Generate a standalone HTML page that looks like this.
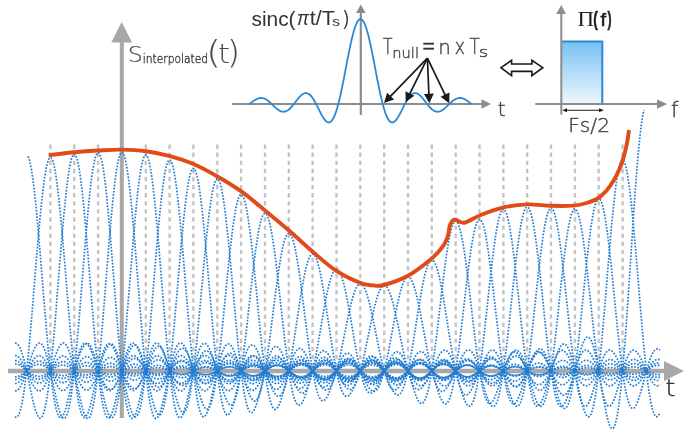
<!DOCTYPE html><html><head><meta charset="utf-8"><style>html,body{margin:0;padding:0;background:#fff;overflow:hidden}svg{display:block;will-change:transform}</style></head><body>
<svg width="690" height="430" viewBox="0 0 690 430">
<path d="M50.4 144.5V371 M74.2 144.5V371 M98.1 144.5V371 M121.9 144.5V371 M145.8 144.5V371 M169.6 144.5V371 M193.4 144.5V371 M217.3 144.5V371 M241.1 144.5V371 M265 144.5V371 M288.8 144.5V371 M312.6 144.5V371 M336.5 144.5V371 M360.3 144.5V371 M384.2 144.5V371 M408 144.5V371 M431.8 144.5V371 M455.7 144.5V371 M479.5 144.5V371 M503.4 144.5V371 M527.2 144.5V371 M551 144.5V371 M574.9 144.5V371 M598.7 144.5V371 M622.6 144.5V371" stroke="#c4c4c4" stroke-width="2.4" stroke-dasharray="4.4 3.69" fill="none"/>
<path d="M8 371H666" stroke="#a8a8a8" stroke-width="4.5" fill="none"/>
<path d="M664 361L684 371L664 381Z" fill="#a8a8a8"/>
<path d="M121.8 418V40" stroke="#a8a8a8" stroke-width="4" fill="none"/>
<path d="M111.2 42.6L121.7 22L132 42.6Z" fill="#a8a8a8"/>
<path d="M28 156.3 L29 158.7 L30 162.3 L31 167.1 L32 173 L33 180 L34 188 L35 196.8 L36 206.5 L37 217 L38 228 L39 239.5 L40 251.5 L41 263.7 L42 276 L43 288.4 L44 300.8 L45 312.9 L46 324.8 L47 336.2 L48 347.2 L49 357.6 L50 367.3 L51 376.3 L52 384.5 L53 391.8 L54 398.3 L55 403.8 L56 408.4 L57 412.1 L58 414.9 L59 416.8 L60 417.7 L61 417.9 L62 417.2 L63 415.8 L64 413.7 L65 411 L66 407.8 L67 404.1 L68 400 L69 395.6 L70 391 L71 386.3 L72 381.5 L73 376.8 L74 372.1 L75 367.7 L76 363.4 L77 359.5 L78 355.9 L79 352.7 L80 349.9 L81 347.6 L82 345.8 L83 344.5 L84 343.6 L85 343.3 L86 343.4 L87 344 L88 345.1 L89 346.5 L90 348.4 L91 350.5 L92 353 L93 355.7 L94 358.5 L95 361.5 L96 364.6 L97 367.7 L98 370.7 L99 373.7 L100 376.6 L101 379.2 L102 381.7 L103 383.9 L104 385.9 L105 387.5 L106 388.8 L107 389.8 L108 390.4 L109 390.7 L110 390.6 L111 390.3 L112 389.5 L113 388.5 L114 387.2 L115 385.7 L116 383.9 L117 382 L118 379.9 L119 377.7 L120 375.4 L121 373.1 L122 370.9 L123 368.6 L124 366.5 L125 364.5 L126 362.6 L127 360.9 L128 359.4 L129 358.2 L130 357.2 L131 356.4 L132 355.9 L133 355.7 L134 355.7 L135 356.1 L136 356.6 L137 357.4 L138 358.4 L139 359.6 L140 361 L141 362.6 L142 364.2 L143 366 L144 367.8 L145 369.6 L146 371.4 L147 373.2 L148 374.9 L149 376.5 L150 378 L151 379.4 L152 380.6 L153 381.6 L154 382.4 L155 383 L156 383.3 L157 383.5 L158 383.5 L159 383.2 L160 382.7 L161 382.1 L162 381.2 L163 380.2 L164 379.1 L165 377.8 L166 376.4 L167 375 L168 373.5 L169 371.9 L170 370.4 L171 369 L172 367.5 L173 366.2 L174 364.9 L175 363.8 L176 362.8 L177 362 L178 361.3 L179 360.8 L180 360.5 L181 360.4 L182 360.5 L183 360.7 L184 361.1 L185 361.7 L186 362.4 L187 363.3 L188 364.3 L189 365.4 L190 366.6 L191 367.8 L192 369.1 L193 370.4 L194 371.7 L195 373 L196 374.2 L197 375.3 L198 376.4 L199 377.3 L200 378.2 L201 378.9 L202 379.4 L203 379.8 L204 380.1 L205 380.2 L206 380.1 L207 379.9 L208 379.5 L209 379 L210 378.3 L211 377.6 L212 376.7 L213 375.7 L214 374.7 L215 373.6 L216 372.5 L217 371.4 L218 370.2 L219 369.1 L220 368.1 L221 367.1 L222 366.1 L223 365.3 L224 364.6 L225 364 L226 363.5 L227 363.2 L228 363 L229 362.9 L230 363 L231 363.2 L232 363.5 L233 364 L234 364.6 L235 365.3 L236 366.1 L237 366.9 L238 367.9 L239 368.8 L240 369.8 L241 370.8 L242 371.8 L243 372.8 L244 373.8 L245 374.6 L246 375.5 L247 376.2 L248 376.8 L249 377.3 L250 377.7 L251 378 L252 378.2 L253 378.2 L254 378.2 L255 377.9 L256 377.6 L257 377.2 L258 376.6 L259 376 L260 375.3 L261 374.5 L262 373.7 L263 372.8 L264 371.9 L265 371" stroke="#217dd2" stroke-width="1.7" stroke-dasharray="1.7 1.5" fill="none"/>
<path d="M15 416.7 L16 417.3 L17 417.2 L18 416.2 L19 414.3 L20 411.6 L21 407.9 L22 403.3 L23 397.8 L24 391.4 L25 384.1 L26 376 L27 367.1 L28 357.5 L29 347.2 L30 336.3 L31 325 L32 313.3 L33 301.3 L34 289.1 L35 276.8 L36 264.6 L37 252.6 L38 240.8 L39 229.4 L40 218.5 L41 208.2 L42 198.7 L43 189.9 L44 182.1 L45 175.2 L46 169.4 L47 164.7 L48 161.1 L49 158.8 L50 157.6 L51 157.7 L52 159 L53 161.6 L54 165.3 L55 170.2 L56 176.2 L57 183.2 L58 191.2 L59 200.1 L60 209.7 L61 220.1 L62 231.1 L63 242.5 L64 254.4 L65 266.4 L66 278.7 L67 290.9 L68 303.1 L69 315.1 L70 326.7 L71 338 L72 348.7 L73 358.9 L74 368.4 L75 377.2 L76 385.2 L77 392.4 L78 398.6 L79 404 L80 408.5 L81 412 L82 414.7 L83 416.4 L83.9 417.3 L84.9 417.3 L85.9 416.6 L86.9 415.1 L87.9 413 L88.9 410.2 L89.9 407 L90.9 403.3 L91.9 399.2 L92.9 394.9 L93.9 390.3 L94.9 385.6 L95.9 380.9 L96.9 376.2 L97.9 371.6 L98.9 367.2 L99.9 363.1 L100.9 359.2 L101.9 355.7 L102.9 352.6 L103.9 349.9 L104.9 347.7 L105.9 345.9 L106.9 344.7 L107.9 343.9 L108.9 343.6 L109.9 343.8 L110.9 344.4 L111.9 345.5 L112.9 347 L113.9 348.8 L114.9 351 L115.9 353.4 L116.9 356.1 L117.9 358.9 L118.9 361.9 L119.9 364.9 L120.9 368 L121.9 371 L122.9 373.9 L123.9 376.7 L124.9 379.4 L125.9 381.8 L126.9 384 L127.9 385.9 L128.9 387.4 L129.9 388.7 L130.9 389.6 L131.9 390.2 L132.9 390.5 L133.9 390.4 L134.9 390 L135.9 389.2 L136.9 388.2 L137.9 386.9 L138.9 385.4 L139.9 383.6 L140.9 381.7 L141.9 379.6 L142.9 377.4 L143.9 375.2 L144.9 372.9 L145.9 370.7 L146.9 368.5 L147.9 366.4 L148.9 364.4 L149.9 362.5 L150.9 360.9 L151.9 359.4 L152.9 358.2 L153.9 357.2 L154.9 356.5 L155.9 356.1 L156.9 355.9 L157.9 355.9 L158.9 356.3 L159.9 356.8 L160.9 357.6 L161.9 358.7 L162.9 359.9 L163.9 361.2 L164.9 362.8 L165.9 364.4 L166.9 366.1 L167.9 367.9 L168.9 369.7 L169.9 371.5 L170.9 373.3 L171.9 375 L172.9 376.5 L173.9 378 L174.9 379.3 L175.9 380.5 L176.9 381.5 L177.9 382.3 L178.9 382.9 L179.9 383.2 L180.9 383.4 L181.9 383.3 L182.9 383 L183.9 382.6 L184.9 381.9 L185.9 381 L186.9 380 L187.9 378.9 L188.9 377.6 L189.9 376.3 L190.9 374.8 L191.9 373.4 L192.9 371.9 L193.9 370.4 L194.9 368.9 L195.9 367.5 L196.9 366.2 L197.9 364.9 L198.9 363.8 L199.9 362.9 L200.9 362.1 L201.9 361.4 L202.9 360.9 L203.9 360.6 L204.9 360.5 L205.9 360.6 L206.9 360.8 L207.9 361.3 L208.9 361.8 L209.9 362.6 L210.9 363.4 L211.9 364.4 L212.9 365.5 L213.9 366.7 L214.9 367.9 L215.9 369.2 L216.9 370.5 L217.9 371.7 L218.9 373 L219.9 374.2 L220.8 375.3 L221.8 376.4 L222.8 377.3 L223.8 378.1 L224.8 378.8 L225.8 379.3 L226.8 379.7 L227.8 380 L228.8 380.1 L229.8 380 L230.8 379.8 L231.8 379.4 L232.8 378.9 L233.8 378.2 L234.8 377.5 L235.8 376.6 L236.8 375.6 L237.8 374.6 L238.8 373.5 L239.8 372.4 L240.8 371.3 L241.8 370.2 L242.8 369.1 L243.8 368.1 L244.8 367.1 L245.8 366.2 L246.8 365.4 L247.8 364.7 L248.8 364.1 L249.8 363.6 L250.8 363.3 L251.8 363.1 L252.8 363 L253.8 363.1 L254.8 363.3 L255.8 363.6 L256.8 364.1 L257.8 364.7 L258.8 365.4 L259.8 366.2 L260.8 367 L261.8 367.9 L262.8 368.9 L263.8 369.9 L264.8 370.9 L265.8 371.8 L266.8 372.8 L267.8 373.7 L268.8 374.6 L269.8 375.4 L270.8 376.1 L271.8 376.7 L272.8 377.3 L273.8 377.7 L274.8 378 L275.8 378.1 L276.8 378.2 L277.8 378.1 L278.8 377.9 L279.8 377.5 L280.8 377.1 L281.8 376.6 L282.8 376 L283.8 375.2 L284.8 374.5 L285.8 373.6 L286.8 372.8 L287.8 371.9 L288.8 371" stroke="#217dd2" stroke-width="1.7" stroke-dasharray="1.7 1.5" fill="none"/>
<path d="M15 343.2 L16 343.2 L17 343.6 L18 344.5 L19 346 L20 347.9 L21 350.3 L22 353.2 L23 356.4 L24 360.1 L25 364.1 L26 368.4 L27 373 L28 377.6 L29 382.4 L30 387.2 L31 391.9 L32 396.5 L33 400.9 L34 404.9 L35 408.5 L36 411.7 L37 414.3 L38 416.3 L39 417.6 L40 418.1 L41 417.9 L42 416.7 L43 414.7 L44 411.8 L45 407.9 L46 403.1 L47 397.4 L48 390.8 L49 383.3 L50 375 L51 365.8 L52 356 L53 345.5 L54 334.4 L55 322.8 L56 310.9 L56.9 298.6 L57.9 286.2 L58.9 273.8 L59.9 261.4 L60.9 249.2 L61.9 237.3 L62.9 225.7 L63.9 214.7 L64.9 204.4 L65.9 194.8 L66.9 186 L67.9 178.1 L68.9 171.2 L69.9 165.5 L70.9 160.8 L71.9 157.3 L72.9 155.1 L73.9 154.1 L74.9 154.3 L75.9 155.8 L76.9 158.5 L77.9 162.4 L78.9 167.5 L79.9 173.7 L80.9 181 L81.9 189.2 L82.9 198.3 L83.9 208.2 L84.9 218.8 L85.9 230 L86.9 241.7 L87.9 253.7 L88.9 266 L89.9 278.5 L90.9 290.9 L91.9 303.3 L92.9 315.4 L93.9 327.2 L94.9 338.6 L95.9 349.5 L96.9 359.8 L97.9 369.3 L98.9 378.2 L99.9 386.2 L100.9 393.4 L101.9 399.7 L102.9 405.1 L103.9 409.5 L104.9 413 L105.9 415.6 L106.9 417.3 L107.9 418.1 L108.9 418 L109.9 417.2 L110.9 415.6 L111.9 413.4 L112.9 410.6 L113.9 407.2 L114.9 403.4 L115.9 399.3 L116.9 394.8 L117.9 390.2 L118.9 385.4 L119.9 380.6 L120.9 375.9 L121.9 371.2 L122.9 366.8 L123.9 362.6 L124.9 358.7 L125.9 355.2 L126.9 352 L127.9 349.3 L128.9 347.1 L129.9 345.4 L130.9 344.1 L131.9 343.4 L132.9 343.1 L133.9 343.4 L134.9 344.1 L135.9 345.2 L136.9 346.7 L137.9 348.6 L138.9 350.9 L139.8 353.4 L140.8 356.1 L141.8 359 L142.8 362 L143.8 365.1 L144.8 368.2 L145.8 371.2 L146.8 374.2 L147.8 377.1 L148.8 379.7 L149.8 382.1 L150.8 384.3 L151.8 386.2 L152.8 387.8 L153.8 389.1 L154.8 390 L155.8 390.6 L156.8 390.8 L157.8 390.7 L158.8 390.2 L159.8 389.5 L160.8 388.4 L161.8 387.1 L162.8 385.5 L163.8 383.7 L164.8 381.7 L165.8 379.6 L166.8 377.4 L167.8 375.1 L168.8 372.8 L169.8 370.5 L170.8 368.3 L171.8 366.2 L172.8 364.1 L173.8 362.3 L174.8 360.6 L175.8 359.2 L176.8 357.9 L177.8 357 L178.8 356.3 L179.8 355.8 L180.8 355.6 L181.8 355.7 L182.8 356 L183.8 356.6 L184.8 357.5 L185.8 358.5 L186.8 359.8 L187.8 361.2 L188.8 362.7 L189.8 364.4 L190.8 366.2 L191.8 368 L192.8 369.8 L193.8 371.6 L194.8 373.4 L195.8 375.1 L196.8 376.7 L197.8 378.2 L198.8 379.6 L199.8 380.7 L200.8 381.7 L201.8 382.5 L202.8 383.1 L203.8 383.4 L204.8 383.6 L205.8 383.5 L206.8 383.2 L207.8 382.7 L208.8 382 L209.8 381.2 L210.8 380.1 L211.8 379 L212.8 377.7 L213.8 376.3 L214.8 374.8 L215.8 373.3 L216.8 371.8 L217.8 370.3 L218.8 368.8 L219.8 367.4 L220.8 366 L221.7 364.8 L222.7 363.7 L223.7 362.7 L224.7 361.9 L225.7 361.2 L226.7 360.8 L227.7 360.5 L228.7 360.4 L229.7 360.4 L230.7 360.7 L231.7 361.1 L232.7 361.7 L233.7 362.5 L234.7 363.3 L235.7 364.4 L236.7 365.5 L237.7 366.6 L238.7 367.9 L239.7 369.2 L240.7 370.5 L241.7 371.8 L242.7 373.1 L243.7 374.3 L244.7 375.4 L245.7 376.5 L246.7 377.4 L247.7 378.3 L248.7 378.9 L249.7 379.5 L250.7 379.9 L251.7 380.1 L252.7 380.2 L253.7 380.1 L254.7 379.9 L255.7 379.5 L256.7 379 L257.7 378.3 L258.7 377.6 L259.7 376.7 L260.7 375.7 L261.7 374.7 L262.7 373.6 L263.7 372.4 L264.7 371.3 L265.7 370.2 L266.7 369.1 L267.7 368 L268.7 367 L269.7 366.1 L270.7 365.3 L271.7 364.5 L272.7 363.9 L273.7 363.5 L274.7 363.1 L275.7 362.9 L276.7 362.9 L277.7 363 L278.7 363.2 L279.7 363.5 L280.7 364 L281.7 364.6 L282.7 365.3 L283.7 366.1 L284.7 367 L285.7 367.9 L286.7 368.9 L287.7 369.9 L288.7 370.9 L289.7 371.9 L290.7 372.9 L291.7 373.8 L292.7 374.7 L293.7 375.5 L294.7 376.2 L295.7 376.8 L296.7 377.4 L297.7 377.8 L298.7 378.1 L299.7 378.2 L300.7 378.3 L301.7 378.2 L302.7 378 L303.7 377.6 L304.6 377.2 L305.6 376.7 L306.6 376 L307.6 375.3 L308.6 374.5 L309.6 373.7 L310.6 372.8 L311.6 371.9 L312.6 371" stroke="#217dd2" stroke-width="1.7" stroke-dasharray="1.7 1.5" fill="none"/>
<path d="M15 390.9 L16 390.9 L17 390.5 L18 389.7 L19 388.6 L20 387.2 L21 385.4 L22 383.3 L23 381 L24 378.4 L25 375.7 L26 372.7 L27 369.7 L28 366.6 L29 363.5 L30 360.4 L31 357.4 L32 354.6 L33 352 L34 349.6 L35 347.5 L36 345.8 L37 344.4 L38 343.5 L39 343 L40 343 L41 343.5 L42 344.5 L43 346 L44 348 L45 350.5 L45.9 353.4 L46.9 356.8 L47.9 360.5 L48.9 364.6 L49.9 368.9 L50.9 373.5 L51.9 378.2 L52.9 383.1 L53.9 387.9 L54.9 392.6 L55.9 397.2 L56.9 401.5 L57.9 405.6 L58.9 409.2 L59.9 412.3 L60.9 414.9 L61.9 416.8 L62.9 418 L63.9 418.4 L64.9 418.1 L65.9 416.8 L66.9 414.7 L67.9 411.7 L68.9 407.7 L69.9 402.8 L70.9 396.9 L71.9 390.2 L72.9 382.5 L73.9 374 L74.9 364.8 L75.9 354.8 L76.9 344.1 L77.9 332.9 L78.9 321.2 L79.9 309.2 L80.9 296.9 L81.9 284.4 L82.9 271.9 L83.9 259.4 L84.9 247.1 L85.9 235.2 L86.9 223.6 L87.9 212.6 L88.9 202.3 L89.9 192.7 L90.9 183.9 L91.9 176.1 L92.9 169.3 L93.9 163.6 L94.9 159.1 L95.9 155.7 L96.9 153.5 L97.9 152.6 L98.9 153 L99.9 154.6 L100.9 157.5 L101.9 161.5 L102.9 166.7 L103.9 173.1 L104.9 180.5 L105.9 188.8 L106.9 198.1 L107.8 208.1 L108.8 218.9 L109.8 230.2 L110.8 242 L111.8 254.1 L112.8 266.5 L113.8 279 L114.8 291.5 L115.8 303.9 L116.8 316.1 L117.8 328 L118.8 339.4 L119.8 350.3 L120.8 360.6 L121.8 370.1 L122.8 379 L123.8 387 L124.8 394.1 L125.8 400.4 L126.8 405.7 L127.8 410.1 L128.8 413.5 L129.8 416 L130.8 417.7 L131.8 418.4 L132.8 418.3 L133.8 417.4 L134.8 415.8 L135.8 413.5 L136.8 410.6 L137.8 407.2 L138.8 403.3 L139.8 399.1 L140.8 394.6 L141.8 389.9 L142.8 385.1 L143.8 380.3 L144.8 375.5 L145.8 370.9 L146.8 366.4 L147.8 362.2 L148.8 358.3 L149.8 354.8 L150.8 351.7 L151.8 349 L152.8 346.8 L153.8 345.1 L154.8 343.9 L155.8 343.2 L156.8 343 L157.8 343.2 L158.8 344 L159.8 345.1 L160.8 346.7 L161.8 348.7 L162.8 350.9 L163.8 353.4 L164.8 356.2 L165.8 359.1 L166.8 362.2 L167.8 365.3 L168.8 368.4 L169.7 371.5 L170.7 374.4 L171.7 377.3 L172.7 379.9 L173.7 382.4 L174.7 384.6 L175.7 386.4 L176.7 388 L177.7 389.3 L178.7 390.2 L179.7 390.7 L180.7 390.9 L181.7 390.8 L182.7 390.3 L183.7 389.5 L184.7 388.4 L185.7 387.1 L186.7 385.5 L187.7 383.7 L188.7 381.7 L189.7 379.5 L190.7 377.3 L191.7 375 L192.7 372.7 L193.7 370.4 L194.7 368.1 L195.7 366 L196.7 364 L197.7 362.1 L198.7 360.5 L199.7 359 L200.7 357.8 L201.7 356.8 L202.7 356.1 L203.7 355.7 L204.7 355.5 L205.7 355.6 L206.7 356 L207.7 356.6 L208.7 357.4 L209.7 358.5 L210.7 359.8 L211.7 361.2 L212.7 362.8 L213.7 364.4 L214.7 366.2 L215.7 368 L216.7 369.9 L217.7 371.7 L218.7 373.5 L219.7 375.2 L220.7 376.8 L221.7 378.3 L222.7 379.7 L223.7 380.8 L224.7 381.8 L225.7 382.6 L226.7 383.2 L227.7 383.5 L228.7 383.7 L229.7 383.6 L230.7 383.3 L231.6 382.8 L232.6 382.1 L233.6 381.2 L234.6 380.1 L235.6 379 L236.6 377.7 L237.6 376.3 L238.6 374.8 L239.6 373.3 L240.6 371.7 L241.6 370.2 L242.6 368.7 L243.6 367.3 L244.6 366 L245.6 364.7 L246.6 363.6 L247.6 362.6 L248.6 361.8 L249.6 361.2 L250.6 360.7 L251.6 360.4 L252.6 360.3 L253.6 360.4 L254.6 360.6 L255.6 361.1 L256.6 361.7 L257.6 362.4 L258.6 363.3 L259.6 364.3 L260.6 365.5 L261.6 366.7 L262.6 367.9 L263.6 369.2 L264.6 370.5 L265.6 371.8 L266.6 373.1 L267.6 374.3 L268.6 375.5 L269.6 376.5 L270.6 377.5 L271.6 378.3 L272.6 379 L273.6 379.6 L274.6 380 L275.6 380.2 L276.6 380.3 L277.6 380.2 L278.6 380 L279.6 379.6 L280.6 379 L281.6 378.4 L282.6 377.6 L283.6 376.7 L284.6 375.7 L285.6 374.7 L286.6 373.6 L287.6 372.4 L288.6 371.3 L289.6 370.1 L290.6 369 L291.6 368 L292.6 367 L293.5 366 L294.5 365.2 L295.5 364.5 L296.5 363.9 L297.5 363.4 L298.5 363.1 L299.5 362.9 L300.5 362.8 L301.5 362.9 L302.5 363.1 L303.5 363.5 L304.5 364 L305.5 364.6 L306.5 365.3 L307.5 366.1 L308.5 366.9 L309.5 367.9 L310.5 368.9 L311.5 369.9 L312.5 370.9 L313.5 371.9 L314.5 372.9 L315.5 373.8 L316.5 374.7 L317.5 375.5 L318.5 376.3 L319.5 376.9 L320.5 377.4 L321.5 377.8 L322.5 378.1 L323.5 378.3 L324.5 378.3 L325.5 378.2 L326.5 378 L327.5 377.7 L328.5 377.2 L329.5 376.7 L330.5 376.1 L331.5 375.3 L332.5 374.6 L333.5 373.7 L334.5 372.8 L335.5 371.9 L336.5 371" stroke="#217dd2" stroke-width="1.7" stroke-dasharray="1.7 1.5" fill="none"/>
<path d="M15 355.5 L16 355.6 L17 355.9 L18 356.6 L19 357.4 L20 358.6 L21 360 L22 361.6 L23 363.4 L24 365.4 L25 367.5 L26 369.7 L27 372 L28 374.3 L29 376.6 L30 378.8 L31 381 L32 383.1 L33 384.9 L34 386.6 L35 388.1 L36 389.3 L37 390.1 L38 390.7 L39 391 L40 390.9 L40.9 390.4 L41.9 389.6 L42.9 388.5 L43.9 387 L44.9 385.2 L45.9 383.1 L46.9 380.8 L47.9 378.2 L48.9 375.4 L49.9 372.4 L50.9 369.4 L51.9 366.3 L52.9 363.1 L53.9 360.1 L54.9 357.1 L55.9 354.3 L56.9 351.7 L57.9 349.3 L58.9 347.3 L59.9 345.6 L60.9 344.3 L61.9 343.4 L62.9 342.9 L63.9 343 L64.9 343.5 L65.9 344.6 L66.9 346.2 L67.9 348.2 L68.9 350.7 L69.9 353.7 L70.9 357.1 L71.9 360.9 L72.9 365 L73.9 369.4 L74.9 374 L75.9 378.7 L76.9 383.6 L77.9 388.4 L78.9 393.1 L79.9 397.7 L80.9 402 L81.9 406 L82.9 409.6 L83.9 412.6 L84.9 415.2 L85.9 417 L86.9 418.2 L87.9 418.5 L88.9 418.1 L89.9 416.8 L90.9 414.6 L91.8 411.4 L92.8 407.3 L93.8 402.3 L94.8 396.4 L95.8 389.5 L96.8 381.8 L97.8 373.2 L98.8 363.9 L99.8 353.8 L100.8 343.1 L101.8 331.8 L102.8 320.1 L103.8 308 L104.8 295.6 L105.8 283.1 L106.8 270.6 L107.8 258.1 L108.8 245.8 L109.8 233.9 L110.8 222.4 L111.8 211.4 L112.8 201.1 L113.8 191.6 L114.8 182.9 L115.8 175.1 L116.8 168.4 L117.8 162.8 L118.8 158.3 L119.8 155.1 L120.8 153 L121.8 152.2 L122.8 152.7 L123.8 154.4 L124.8 157.4 L125.8 161.5 L126.8 166.9 L127.8 173.3 L128.8 180.8 L129.8 189.2 L130.8 198.6 L131.8 208.7 L132.8 219.5 L133.8 230.8 L134.8 242.7 L135.8 254.9 L136.8 267.3 L137.8 279.8 L138.8 292.4 L139.8 304.8 L140.8 317 L141.8 328.8 L142.7 340.2 L143.7 351.1 L144.7 361.3 L145.7 370.8 L146.7 379.6 L147.7 387.6 L148.7 394.7 L149.7 400.9 L150.7 406.1 L151.7 410.4 L152.7 413.8 L153.7 416.3 L154.7 417.8 L155.7 418.5 L156.7 418.3 L157.7 417.4 L158.7 415.7 L159.7 413.4 L160.7 410.4 L161.7 407 L162.7 403.1 L163.7 398.8 L164.7 394.3 L165.7 389.6 L166.7 384.8 L167.7 380 L168.7 375.2 L169.7 370.6 L170.7 366.1 L171.7 361.9 L172.7 358.1 L173.7 354.5 L174.7 351.5 L175.7 348.8 L176.7 346.6 L177.7 345 L178.7 343.8 L179.7 343.1 L180.7 342.9 L181.7 343.2 L182.7 344 L183.7 345.2 L184.7 346.8 L185.7 348.7 L186.7 351 L187.7 353.6 L188.7 356.3 L189.7 359.3 L190.7 362.3 L191.7 365.4 L192.7 368.6 L193.6 371.6 L194.6 374.6 L195.6 377.5 L196.6 380.1 L197.6 382.5 L198.6 384.7 L199.6 386.6 L200.6 388.1 L201.6 389.4 L202.6 390.3 L203.6 390.8 L204.6 391 L205.6 390.8 L206.6 390.3 L207.6 389.5 L208.6 388.4 L209.6 387 L210.6 385.4 L211.6 383.6 L212.6 381.6 L213.6 379.4 L214.6 377.2 L215.6 374.9 L216.6 372.6 L217.6 370.3 L218.6 368 L219.6 365.9 L220.6 363.9 L221.6 362 L222.6 360.4 L223.6 358.9 L224.6 357.7 L225.6 356.8 L226.6 356.1 L227.6 355.6 L228.6 355.5 L229.6 355.6 L230.6 356 L231.6 356.6 L232.6 357.5 L233.6 358.5 L234.6 359.8 L235.6 361.2 L236.6 362.8 L237.6 364.5 L238.6 366.3 L239.6 368.1 L240.6 370 L241.6 371.8 L242.6 373.6 L243.5 375.3 L244.5 376.9 L245.5 378.4 L246.5 379.7 L247.5 380.9 L248.5 381.9 L249.5 382.6 L250.5 383.2 L251.5 383.6 L252.5 383.7 L253.5 383.6 L254.5 383.3 L255.5 382.8 L256.5 382.1 L257.5 381.2 L258.5 380.1 L259.5 378.9 L260.5 377.6 L261.5 376.2 L262.5 374.7 L263.5 373.2 L264.5 371.7 L265.5 370.2 L266.5 368.7 L267.5 367.2 L268.5 365.9 L269.5 364.7 L270.5 363.6 L271.5 362.6 L272.5 361.8 L273.5 361.1 L274.5 360.7 L275.5 360.4 L276.5 360.3 L277.5 360.4 L278.5 360.6 L279.5 361.1 L280.5 361.7 L281.5 362.4 L282.5 363.3 L283.5 364.4 L284.5 365.5 L285.5 366.7 L286.5 367.9 L287.5 369.2 L288.5 370.6 L289.5 371.9 L290.5 373.1 L291.5 374.4 L292.5 375.5 L293.5 376.6 L294.4 377.5 L295.4 378.4 L296.4 379 L297.4 379.6 L298.4 380 L299.4 380.2 L300.4 380.3 L301.4 380.2 L302.4 380 L303.4 379.6 L304.4 379 L305.4 378.4 L306.4 377.6 L307.4 376.7 L308.4 375.7 L309.4 374.6 L310.4 373.5 L311.4 372.4 L312.4 371.3 L313.4 370.1 L314.4 369 L315.4 367.9 L316.4 366.9 L317.4 366 L318.4 365.2 L319.4 364.5 L320.4 363.9 L321.4 363.4 L322.4 363.1 L323.4 362.9 L324.4 362.8 L325.4 362.9 L326.4 363.1 L327.4 363.5 L328.4 364 L329.4 364.6 L330.4 365.3 L331.4 366.1 L332.4 366.9 L333.4 367.9 L334.4 368.9 L335.4 369.9 L336.4 370.9 L337.4 371.9 L338.4 372.9 L339.4 373.8 L340.4 374.7 L341.4 375.5 L342.4 376.3 L343.4 376.9 L344.4 377.4 L345.3 377.8 L346.3 378.1 L347.3 378.3 L348.3 378.3 L349.3 378.2 L350.3 378 L351.3 377.7 L352.3 377.3 L353.3 376.7 L354.3 376.1 L355.3 375.3 L356.3 374.6 L357.3 373.7 L358.3 372.8 L359.3 371.9 L360.3 371" stroke="#217dd2" stroke-width="1.7" stroke-dasharray="1.7 1.5" fill="none"/>
<path d="M15 383.5 L16 383.4 L17 383.1 L18 382.6 L19 381.9 L20 380.9 L21 379.8 L22 378.5 L23 377.1 L24 375.5 L25 373.8 L26 372.1 L27 370.2 L28 368.4 L29 366.6 L30 364.9 L31 363.2 L32 361.6 L33 360.1 L34 358.9 L35 357.8 L36 356.9 L37 356.2 L37.9 355.8 L38.9 355.7 L39.9 355.8 L40.9 356.2 L41.9 356.8 L42.9 357.7 L43.9 358.9 L44.9 360.3 L45.9 361.9 L46.9 363.7 L47.9 365.6 L48.9 367.7 L49.9 369.9 L50.9 372.2 L51.9 374.5 L52.9 376.7 L53.9 379 L54.9 381.1 L55.9 383.1 L56.9 385 L57.9 386.6 L58.9 388 L59.9 389.1 L60.9 390 L61.9 390.5 L62.9 390.7 L63.9 390.6 L64.9 390.1 L65.9 389.3 L66.9 388.1 L67.9 386.7 L68.9 384.8 L69.9 382.8 L70.9 380.4 L71.9 377.8 L72.9 375 L73.9 372.1 L74.9 369.1 L75.9 366 L76.9 362.9 L77.9 359.9 L78.9 357 L79.9 354.2 L80.9 351.7 L81.8 349.4 L82.8 347.4 L83.8 345.7 L84.8 344.5 L85.8 343.7 L86.8 343.3 L87.8 343.4 L88.8 344 L89.8 345 L90.8 346.6 L91.8 348.7 L92.8 351.2 L93.8 354.2 L94.8 357.6 L95.8 361.3 L96.8 365.4 L97.8 369.8 L98.8 374.4 L99.8 379.1 L100.8 383.8 L101.8 388.6 L102.8 393.2 L103.8 397.7 L104.8 402 L105.8 405.9 L106.8 409.4 L107.8 412.4 L108.8 414.8 L109.8 416.6 L110.8 417.6 L111.8 417.9 L112.8 417.4 L113.8 416.1 L114.8 413.8 L115.8 410.6 L116.8 406.5 L117.8 401.5 L118.8 395.5 L119.8 388.7 L120.8 381 L121.8 372.5 L122.8 363.2 L123.8 353.2 L124.8 342.6 L125.7 331.4 L126.7 319.8 L127.7 307.8 L128.7 295.6 L129.7 283.2 L130.7 270.8 L131.7 258.6 L132.7 246.5 L133.7 234.7 L134.7 223.4 L135.7 212.6 L136.7 202.5 L137.7 193.1 L138.7 184.6 L139.7 177 L140.7 170.5 L141.7 165 L142.7 160.7 L143.7 157.5 L144.7 155.6 L145.7 154.9 L146.7 155.5 L147.7 157.2 L148.7 160.3 L149.7 164.4 L150.7 169.8 L151.7 176.2 L152.7 183.7 L153.7 192.1 L154.7 201.4 L155.7 211.4 L156.7 222.1 L157.7 233.4 L158.7 245.1 L159.7 257.1 L160.7 269.4 L161.7 281.8 L162.7 294.2 L163.7 306.4 L164.7 318.4 L165.7 330.1 L166.7 341.3 L167.7 352 L168.7 362.1 L169.6 371.4 L170.6 380.1 L171.6 387.9 L172.6 394.8 L173.6 400.9 L174.6 406 L175.6 410.2 L176.6 413.5 L177.6 415.8 L178.6 417.3 L179.6 417.9 L180.6 417.7 L181.6 416.7 L182.6 415 L183.6 412.7 L184.6 409.7 L185.6 406.3 L186.6 402.4 L187.6 398.2 L188.6 393.8 L189.6 389.1 L190.6 384.4 L191.6 379.6 L192.6 374.9 L193.6 370.3 L194.6 365.9 L195.6 361.8 L196.6 358 L197.6 354.6 L198.6 351.5 L199.6 348.9 L200.6 346.8 L201.6 345.2 L202.6 344.1 L203.6 343.4 L204.6 343.3 L205.6 343.6 L206.6 344.4 L207.6 345.6 L208.6 347.2 L209.6 349.1 L210.6 351.4 L211.6 353.9 L212.6 356.7 L213.5 359.6 L214.5 362.6 L215.5 365.7 L216.5 368.7 L217.5 371.8 L218.5 374.7 L219.5 377.5 L220.5 380.1 L221.5 382.5 L222.5 384.6 L223.5 386.5 L224.5 388 L225.5 389.2 L226.5 390.1 L227.5 390.6 L228.5 390.7 L229.5 390.6 L230.5 390.1 L231.5 389.2 L232.5 388.1 L233.5 386.8 L234.5 385.2 L235.5 383.3 L236.5 381.3 L237.5 379.2 L238.5 377 L239.5 374.7 L240.5 372.4 L241.5 370.2 L242.5 368 L243.5 365.9 L244.5 363.9 L245.5 362.1 L246.5 360.4 L247.5 359 L248.5 357.8 L249.5 356.9 L250.5 356.2 L251.5 355.8 L252.5 355.7 L253.5 355.8 L254.5 356.2 L255.5 356.8 L256.5 357.7 L257.4 358.7 L258.4 360 L259.4 361.4 L260.4 363 L261.4 364.7 L262.4 366.4 L263.4 368.2 L264.4 370 L265.4 371.8 L266.4 373.6 L267.4 375.3 L268.4 376.9 L269.4 378.4 L270.4 379.7 L271.4 380.8 L272.4 381.8 L273.4 382.5 L274.4 383.1 L275.4 383.4 L276.4 383.5 L277.4 383.4 L278.4 383.1 L279.4 382.6 L280.4 381.9 L281.4 381 L282.4 380 L283.4 378.8 L284.4 377.5 L285.4 376.1 L286.4 374.7 L287.4 373.2 L288.4 371.6 L289.4 370.1 L290.4 368.7 L291.4 367.3 L292.4 365.9 L293.4 364.7 L294.4 363.6 L295.4 362.7 L296.4 361.9 L297.4 361.2 L298.4 360.8 L299.4 360.5 L300.4 360.4 L301.3 360.5 L302.3 360.8 L303.3 361.2 L304.3 361.8 L305.3 362.6 L306.3 363.5 L307.3 364.5 L308.3 365.6 L309.3 366.8 L310.3 368 L311.3 369.3 L312.3 370.6 L313.3 371.9 L314.3 373.1 L315.3 374.3 L316.3 375.5 L317.3 376.5 L318.3 377.5 L319.3 378.3 L320.3 379 L321.3 379.5 L322.3 379.9 L323.3 380.1 L324.3 380.2 L325.3 380.1 L326.3 379.8 L327.3 379.5 L328.3 378.9 L329.3 378.3 L330.3 377.5 L331.3 376.6 L332.3 375.6 L333.3 374.6 L334.3 373.5 L335.3 372.4 L336.3 371.2 L337.3 370.1 L338.3 369 L339.3 368 L340.3 367 L341.3 366.1 L342.3 365.2 L343.3 364.5 L344.3 363.9 L345.2 363.5 L346.2 363.1 L347.2 363 L348.2 362.9 L349.2 363 L350.2 363.2 L351.2 363.6 L352.2 364 L353.2 364.6 L354.2 365.3 L355.2 366.1 L356.2 367 L357.2 367.9 L358.2 368.9 L359.2 369.9 L360.2 370.9 L361.2 371.9 L362.2 372.9 L363.2 373.8 L364.2 374.7 L365.2 375.5 L366.2 376.2 L367.2 376.8 L368.2 377.4 L369.2 377.8 L370.2 378 L371.2 378.2 L372.2 378.2 L373.2 378.2 L374.2 377.9 L375.2 377.6 L376.2 377.2 L377.2 376.6 L378.2 376 L379.2 375.3 L380.2 374.5 L381.2 373.7 L382.2 372.8 L383.2 371.9 L384.2 371" stroke="#217dd2" stroke-width="1.7" stroke-dasharray="1.7 1.5" fill="none"/>
<path d="M15 360.6 L16 360.7 L17 361 L18 361.4 L19 362.1 L20 362.8 L21 363.8 L22 364.8 L23 366 L24 367.3 L25 368.7 L26 370.1 L27 371.6 L28 373.1 L29 374.6 L30 376 L31 377.3 L32 378.6 L33 379.8 L34 380.8 L34.9 381.6 L35.9 382.3 L36.9 382.8 L37.9 383.1 L38.9 383.2 L39.9 383.1 L40.9 382.8 L41.9 382.3 L42.9 381.5 L43.9 380.6 L44.9 379.5 L45.9 378.2 L46.9 376.8 L47.9 375.2 L48.9 373.6 L49.9 371.9 L50.9 370.1 L51.9 368.3 L52.9 366.6 L53.9 364.8 L54.9 363.2 L55.9 361.7 L56.9 360.3 L57.9 359 L58.9 358 L59.9 357.1 L60.9 356.5 L61.9 356.1 L62.9 356 L63.9 356.2 L64.9 356.6 L65.9 357.2 L66.9 358.1 L67.9 359.3 L68.9 360.6 L69.9 362.2 L70.9 364 L71.9 365.9 L72.9 368 L73.9 370.1 L74.8 372.4 L75.8 374.6 L76.8 376.8 L77.8 379 L78.8 381.1 L79.8 383 L80.8 384.8 L81.8 386.4 L82.8 387.7 L83.8 388.8 L84.8 389.6 L85.8 390.1 L86.8 390.3 L87.8 390.1 L88.8 389.6 L89.8 388.8 L90.8 387.6 L91.8 386.2 L92.8 384.4 L93.8 382.3 L94.8 380 L95.8 377.4 L96.8 374.7 L97.8 371.9 L98.8 368.9 L99.8 365.9 L100.8 362.9 L101.8 359.9 L102.8 357.1 L103.8 354.4 L104.8 351.9 L105.8 349.7 L106.8 347.8 L107.8 346.2 L108.8 345 L109.8 344.2 L110.8 343.9 L111.8 344 L112.8 344.6 L113.7 345.7 L114.7 347.3 L115.7 349.4 L116.7 351.9 L117.7 354.8 L118.7 358.2 L119.7 361.9 L120.7 365.9 L121.7 370.2 L122.7 374.6 L123.7 379.2 L124.7 383.9 L125.7 388.5 L126.7 393.1 L127.7 397.5 L128.7 401.6 L129.7 405.4 L130.7 408.7 L131.7 411.6 L132.7 413.9 L133.7 415.6 L134.7 416.6 L135.7 416.9 L136.7 416.3 L137.7 414.9 L138.7 412.6 L139.7 409.5 L140.7 405.4 L141.7 400.4 L142.7 394.5 L143.7 387.8 L144.7 380.2 L145.7 371.8 L146.7 362.7 L147.7 352.9 L148.7 342.5 L149.7 331.5 L150.7 320.1 L151.7 308.4 L152.6 296.5 L153.6 284.4 L154.6 272.3 L155.6 260.3 L156.6 248.5 L157.6 237 L158.6 226 L159.6 215.5 L160.6 205.7 L161.6 196.6 L162.6 188.3 L163.6 181 L164.6 174.6 L165.6 169.4 L166.6 165.2 L167.6 162.2 L168.6 160.4 L169.6 159.8 L170.6 160.4 L171.6 162.2 L172.6 165.3 L173.6 169.4 L174.6 174.7 L175.6 181.1 L176.6 188.4 L177.6 196.7 L178.6 205.8 L179.6 215.6 L180.6 226.1 L181.6 237.2 L182.6 248.7 L183.6 260.4 L184.6 272.5 L185.6 284.6 L186.6 296.6 L187.6 308.6 L188.6 320.3 L189.6 331.7 L190.6 342.6 L191.6 353 L192.5 362.8 L193.5 371.9 L194.5 380.3 L195.5 387.9 L196.5 394.6 L197.5 400.5 L198.5 405.4 L199.5 409.5 L200.5 412.7 L201.5 414.9 L202.5 416.3 L203.5 416.9 L204.5 416.6 L205.5 415.6 L206.5 413.9 L207.5 411.6 L208.5 408.7 L209.5 405.3 L210.5 401.5 L211.5 397.4 L212.5 393 L213.5 388.5 L214.5 383.8 L215.5 379.2 L216.5 374.6 L217.5 370.1 L218.5 365.8 L219.5 361.8 L220.5 358.1 L221.5 354.8 L222.5 351.8 L223.5 349.3 L224.5 347.3 L225.5 345.7 L226.5 344.6 L227.5 344 L228.5 343.9 L229.5 344.2 L230.5 345 L231.4 346.2 L232.4 347.8 L233.4 349.7 L234.4 351.9 L235.4 354.4 L236.4 357.1 L237.4 360 L238.4 362.9 L239.4 365.9 L240.4 368.9 L241.4 371.9 L242.4 374.8 L243.4 377.5 L244.4 380 L245.4 382.3 L246.4 384.4 L247.4 386.2 L248.4 387.7 L249.4 388.8 L250.4 389.6 L251.4 390.1 L252.4 390.3 L253.4 390.1 L254.4 389.6 L255.4 388.8 L256.4 387.7 L257.4 386.3 L258.4 384.8 L259.4 383 L260.4 381 L261.4 379 L262.4 376.8 L263.4 374.6 L264.4 372.3 L265.4 370.1 L266.4 368 L267.4 365.9 L268.4 364 L269.4 362.2 L270.4 360.6 L271.3 359.3 L272.3 358.1 L273.3 357.2 L274.3 356.5 L275.3 356.2 L276.3 356 L277.3 356.1 L278.3 356.5 L279.3 357.1 L280.3 358 L281.3 359 L282.3 360.3 L283.3 361.7 L284.3 363.2 L285.3 364.9 L286.3 366.6 L287.3 368.3 L288.3 370.1 L289.3 371.9 L290.3 373.6 L291.3 375.3 L292.3 376.8 L293.3 378.2 L294.3 379.5 L295.3 380.6 L296.3 381.6 L297.3 382.3 L298.3 382.8 L299.3 383.1 L300.3 383.2 L301.3 383.1 L302.3 382.8 L303.3 382.3 L304.3 381.6 L305.3 380.8 L306.3 379.7 L307.3 378.6 L308.3 377.3 L309.3 376 L310.2 374.5 L311.2 373.1 L312.2 371.6 L313.2 370.1 L314.2 368.7 L315.2 367.3 L316.2 366 L317.2 364.8 L318.2 363.8 L319.2 362.8 L320.2 362.1 L321.2 361.4 L322.2 361 L323.2 360.7 L324.2 360.6 L325.2 360.7 L326.2 361 L327.2 361.4 L328.2 362 L329.2 362.8 L330.2 363.7 L331.2 364.6 L332.2 365.7 L333.2 366.9 L334.2 368.1 L335.2 369.4 L336.2 370.6 L337.2 371.9 L338.2 373.1 L339.2 374.3 L340.2 375.4 L341.2 376.4 L342.2 377.3 L343.2 378.1 L344.2 378.8 L345.2 379.3 L346.2 379.7 L347.2 379.9 L348.2 380 L349.1 379.9 L350.1 379.6 L351.1 379.3 L352.1 378.7 L353.1 378.1 L354.1 377.3 L355.1 376.5 L356.1 375.5 L357.1 374.5 L358.1 373.4 L359.1 372.3 L360.1 371.2 L361.1 370.1 L362.1 369 L363.1 368 L364.1 367.1 L365.1 366.2 L366.1 365.4 L367.1 364.7 L368.1 364.1 L369.1 363.6 L370.1 363.3 L371.1 363.1 L372.1 363.1 L373.1 363.2 L374.1 363.4 L375.1 363.7 L376.1 364.2 L377.1 364.8 L378.1 365.5 L379.1 366.2 L380.1 367.1 L381.1 368 L382.1 368.9 L383.1 369.9 L384.1 370.9 L385.1 371.9 L386.1 372.8 L387.1 373.7 L388.1 374.6 L389 375.4 L390 376.1 L391 376.7 L392 377.2 L393 377.6 L394 377.9 L395 378 L396 378.1 L397 378 L398 377.8 L399 377.5 L400 377 L401 376.5 L402 375.9 L403 375.2 L404 374.4 L405 373.6 L406 372.8 L407 371.9 L408 371" stroke="#217dd2" stroke-width="1.7" stroke-dasharray="1.7 1.5" fill="none"/>
<path d="M15 379.6 L16 379.5 L17 379.3 L18 378.9 L19 378.4 L20 377.7 L21 377 L22 376.1 L23 375.1 L24 374 L25 372.9 L26 371.7 L27 370.5 L28 369.3 L29 368.1 L30 366.9 L31 365.8 L32 364.7 L33 363.8 L34 363 L35 362.3 L36 361.8 L37 361.4 L38 361.1 L39 361.1 L40 361.2 L41 361.5 L42 361.9 L43 362.5 L44 363.3 L45 364.2 L46 365.3 L47 366.4 L48 367.7 L49 369 L50 370.4 L51 371.8 L52 373.3 L53 374.7 L54 376 L55 377.3 L56 378.5 L57 379.6 L58 380.6 L59 381.4 L60 382 L61 382.4 L62 382.7 L63 382.7 L64 382.6 L65 382.2 L66 381.7 L67 380.9 L68 380 L69 378.9 L70 377.6 L71 376.2 L72 374.7 L73 373.1 L74 371.4 L75 369.7 L76 368 L77 366.3 L78 364.7 L79 363.1 L80 361.7 L81 360.4 L82 359.2 L83 358.3 L84 357.5 L85 357 L86 356.7 L87 356.6 L88 356.8 L89 357.3 L90 358 L91 358.9 L92 360.1 L93 361.5 L94 363 L95 364.8 L96 366.7 L97 368.7 L98 370.8 L99 372.9 L100 375.1 L101 377.2 L102 379.2 L103 381.2 L104 383 L105 384.7 L106 386.2 L107 387.4 L108 388.4 L109 389 L110 389.4 L111 389.5 L112 389.3 L113 388.7 L114 387.8 L115 386.6 L116 385 L117 383.2 L118 381.2 L119 378.9 L120 376.3 L121 373.7 L122 370.9 L123 368 L124 365.1 L125 362.2 L126 359.4 L127 356.7 L128 354.2 L129 351.9 L130 349.9 L131 348.1 L132 346.8 L133 345.7 L134 345.1 L135 345 L136 345.3 L137 346 L138 347.3 L139 348.9 L140 351.1 L141 353.6 L142 356.6 L143 360 L144 363.7 L145 367.6 L145.9 371.8 L146.9 376.2 L147.9 380.6 L148.9 385.1 L149.9 389.5 L150.9 393.9 L151.9 398 L152.9 401.8 L153.9 405.3 L154.9 408.4 L155.9 411 L156.9 413 L157.9 414.3 L158.9 415 L159.9 414.9 L160.9 414 L161.9 412.3 L162.9 409.8 L163.9 406.4 L164.9 402.1 L165.9 396.9 L166.9 390.9 L167.9 384.1 L168.9 376.4 L169.9 368.1 L170.9 359 L171.9 349.3 L172.9 339 L173.9 328.3 L174.9 317.2 L175.9 305.8 L176.9 294.3 L177.9 282.6 L178.9 271 L179.9 259.6 L180.9 248.3 L181.9 237.5 L182.9 227.1 L183.9 217.3 L184.9 208.2 L185.9 199.8 L186.9 192.2 L187.9 185.6 L188.9 180 L189.9 175.4 L190.9 172 L191.9 169.6 L192.9 168.5 L193.9 168.4 L194.9 169.6 L195.9 171.9 L196.9 175.4 L197.9 179.9 L198.9 185.5 L199.9 192.1 L200.9 199.6 L201.9 208 L202.9 217.1 L203.9 226.9 L204.9 237.3 L205.9 248.2 L206.9 259.4 L207.9 270.8 L208.9 282.4 L209.9 294.1 L210.9 305.6 L211.9 317 L212.9 328.1 L213.9 338.9 L214.9 349.1 L215.9 358.8 L216.9 367.9 L217.9 376.3 L218.9 384 L219.9 390.8 L220.9 396.8 L221.9 402 L222.9 406.3 L223.9 409.7 L224.9 412.3 L225.9 414 L226.9 414.9 L227.9 415 L228.9 414.3 L229.9 413 L230.9 411 L231.9 408.4 L232.9 405.4 L233.9 401.9 L234.9 398.1 L235.9 393.9 L236.9 389.6 L237.9 385.2 L238.9 380.7 L239.9 376.2 L240.9 371.9 L241.9 367.7 L242.9 363.7 L243.9 360 L244.9 356.7 L245.9 353.7 L246.9 351.1 L247.9 349 L248.9 347.3 L249.9 346 L250.9 345.3 L251.9 345 L252.9 345.1 L253.9 345.7 L254.9 346.7 L255.9 348.1 L256.9 349.8 L257.9 351.9 L258.9 354.2 L259.9 356.7 L260.9 359.4 L261.9 362.2 L262.9 365.1 L263.9 368 L264.9 370.8 L265.9 373.6 L266.9 376.3 L267.9 378.8 L268.9 381.1 L269.9 383.2 L270.9 385 L271.9 386.5 L272.9 387.8 L273.9 388.7 L274.9 389.2 L275.9 389.5 L276.9 389.4 L277.9 389 L278.9 388.4 L279.9 387.4 L280.9 386.2 L281.9 384.7 L282.9 383.1 L283.9 381.2 L284.9 379.3 L285.9 377.2 L286.9 375.1 L287.9 372.9 L288.9 370.8 L289.9 368.7 L290.9 366.7 L291.9 364.8 L292.9 363.1 L293.9 361.5 L294.9 360.1 L295.9 358.9 L296.9 358 L297.9 357.3 L298.9 356.8 L299.9 356.6 L300.9 356.7 L301.9 357 L302.9 357.5 L303.9 358.3 L304.9 359.2 L305.9 360.4 L306.9 361.7 L307.9 363.1 L308.9 364.7 L309.9 366.3 L310.9 368 L311.9 369.7 L312.9 371.4 L313.9 373.1 L314.9 374.7 L315.9 376.2 L316.9 377.6 L317.9 378.9 L318.9 380 L319.9 380.9 L320.9 381.7 L321.9 382.2 L322.9 382.6 L323.9 382.7 L324.9 382.7 L325.9 382.4 L326.9 382 L327.9 381.4 L328.9 380.6 L329.9 379.6 L330.9 378.5 L331.9 377.3 L332.9 376 L333.9 374.7 L334.9 373.3 L335.9 371.9 L336.9 370.4 L337.9 369.1 L338.9 367.7 L339.9 366.5 L340.9 365.3 L341.9 364.2 L342.9 363.3 L343.9 362.5 L344.9 361.9 L345.9 361.5 L346.9 361.2 L347.9 361.1 L348.9 361.1 L349.9 361.4 L350.9 361.7 L351.9 362.3 L352.9 363 L353.9 363.8 L354.9 364.7 L355.9 365.8 L356.9 366.9 L357.9 368 L358.9 369.2 L359.9 370.4 L360.9 371.7 L361.9 372.8 L362.9 374 L363.9 375.1 L364.9 376.1 L365.9 377 L366.9 377.7 L367.9 378.4 L368.9 378.9 L369.9 379.3 L370.9 379.5 L371.9 379.6 L372.9 379.5 L373.9 379.3 L374.9 379 L375.9 378.5 L376.9 377.9 L377.9 377.2 L378.9 376.3 L379.9 375.4 L380.9 374.5 L381.9 373.4 L382.9 372.4 L383.9 371.3 L384.9 370.3 L385.9 369.2 L386.9 368.2 L387.9 367.3 L388.9 366.4 L389.9 365.7 L390.9 365 L391.9 364.4 L392.9 364 L393.9 363.7 L394.9 363.5 L395.9 363.4 L396.9 363.5 L397.9 363.7 L398.9 364 L399.9 364.4 L400.9 365 L401.9 365.7 L402.9 366.4 L403.9 367.2 L404.9 368.1 L405.8 369 L406.8 369.9 L407.8 370.9 L408.8 371.8 L409.8 372.7 L410.8 373.6 L411.8 374.4 L412.8 375.2 L413.8 375.9 L414.8 376.5 L415.8 376.9 L416.8 377.3 L417.8 377.6 L418.8 377.8 L419.8 377.8 L420.8 377.7 L421.8 377.5 L422.8 377.2 L423.8 376.8 L424.8 376.3 L425.8 375.7 L426.8 375 L427.8 374.3 L428.8 373.5 L429.8 372.7 L430.8 371.9 L431.8 371" stroke="#217dd2" stroke-width="1.7" stroke-dasharray="1.7 1.5" fill="none"/>
<path d="M15 363.8 L16 363.9 L17 364.1 L18 364.4 L19 364.8 L20 365.4 L21 366 L22 366.8 L23 367.6 L24 368.5 L25 369.4 L26 370.4 L27 371.4 L28 372.4 L29 373.4 L30 374.4 L31 375.3 L32 376.2 L33 376.9 L34 377.6 L35 378.2 L36 378.6 L37 378.9 L38 379.1 L39 379.2 L40 379.1 L41 378.8 L42 378.5 L43 377.9 L44 377.3 L45 376.5 L46 375.7 L47 374.7 L48 373.7 L49 372.6 L50 371.5 L51 370.3 L52 369.2 L53 368 L54 366.9 L55 365.9 L56 364.9 L57 364.1 L58 363.3 L59 362.7 L60 362.2 L61 361.8 L62 361.6 L63 361.6 L64 361.7 L65 362 L66 362.5 L67 363.1 L68 363.8 L69 364.7 L70 365.7 L71 366.8 L72 368 L73 369.3 L74 370.6 L75 372 L76 373.3 L77 374.6 L78 375.9 L79 377.1 L80 378.3 L81 379.3 L82 380.2 L83 380.9 L83.9 381.5 L84.9 381.9 L85.9 382.1 L86.9 382.1 L87.9 382 L88.9 381.6 L89.9 381.1 L90.9 380.3 L91.9 379.4 L92.9 378.3 L93.9 377.1 L94.9 375.8 L95.9 374.3 L96.9 372.8 L97.9 371.2 L98.9 369.6 L99.9 368 L100.9 366.4 L101.9 364.8 L102.9 363.4 L103.9 362 L104.9 360.8 L105.9 359.7 L106.9 358.8 L107.9 358.2 L108.9 357.7 L109.9 357.4 L110.9 357.4 L111.9 357.6 L112.9 358.1 L113.9 358.7 L114.9 359.7 L115.9 360.8 L116.9 362.1 L117.9 363.6 L118.9 365.3 L119.9 367.1 L120.9 369 L121.9 371 L122.9 373 L123.9 375.1 L124.9 377.1 L125.9 379 L126.9 380.9 L127.9 382.6 L128.9 384.2 L129.9 385.5 L130.9 386.6 L131.9 387.5 L132.9 388.2 L133.9 388.5 L134.9 388.5 L135.9 388.3 L136.9 387.7 L137.9 386.8 L138.9 385.6 L139.9 384.1 L140.9 382.4 L141.9 380.4 L142.9 378.2 L143.9 375.8 L144.9 373.3 L145.9 370.6 L146.9 367.9 L147.9 365.1 L148.9 362.4 L149.9 359.8 L150.9 357.2 L151.9 354.9 L152.9 352.7 L153.9 350.8 L154.9 349.2 L155.9 347.9 L156.9 347 L157.9 346.4 L158.9 346.3 L159.9 346.7 L160.9 347.4 L161.9 348.6 L162.9 350.3 L163.9 352.3 L164.9 354.8 L165.9 357.7 L166.9 360.9 L167.9 364.4 L168.9 368.2 L169.9 372.2 L170.9 376.3 L171.9 380.5 L172.9 384.8 L173.9 389 L174.9 393.1 L175.9 397 L176.9 400.6 L177.9 403.8 L178.9 406.7 L179.9 409.1 L180.9 410.9 L181.9 412.2 L182.9 412.7 L183.9 412.6 L184.9 411.7 L185.9 410 L186.9 407.5 L187.9 404.2 L188.9 400.1 L189.9 395.1 L190.9 389.3 L191.9 382.8 L192.9 375.5 L193.9 367.5 L194.9 358.8 L195.9 349.6 L196.9 339.8 L197.9 329.6 L198.9 319.1 L199.9 308.3 L200.9 297.3 L201.9 286.3 L202.9 275.3 L203.9 264.4 L204.9 253.8 L205.9 243.5 L206.9 233.7 L207.9 224.5 L208.9 215.9 L209.9 208 L210.9 200.9 L211.9 194.7 L212.9 189.5 L213.9 185.3 L214.9 182.1 L215.9 179.9 L216.9 178.9 L217.9 179 L218.9 180.2 L219.9 182.5 L220.9 185.8 L221.8 190.2 L222.8 195.6 L223.8 201.9 L224.8 209.1 L225.8 217.1 L226.8 225.8 L227.8 235.1 L228.8 245 L229.8 255.3 L230.8 266 L231.8 276.9 L232.8 287.9 L233.8 298.9 L234.8 309.8 L235.8 320.6 L236.8 331.1 L237.8 341.3 L238.8 351 L239.8 360.1 L240.8 368.7 L241.8 376.6 L242.8 383.8 L243.8 390.2 L244.8 395.9 L245.8 400.7 L246.8 404.7 L247.8 407.9 L248.8 410.3 L249.8 411.9 L250.8 412.6 L251.8 412.7 L252.8 412 L253.8 410.7 L254.8 408.8 L255.8 406.3 L256.8 403.4 L257.8 400.1 L258.8 396.4 L259.8 392.5 L260.8 388.4 L261.8 384.2 L262.8 379.9 L263.8 375.7 L264.8 371.6 L265.8 367.6 L266.8 363.9 L267.8 360.4 L268.8 357.2 L269.8 354.4 L270.8 352 L271.8 350 L272.8 348.4 L273.8 347.3 L274.8 346.6 L275.8 346.3 L276.8 346.5 L277.8 347.1 L278.8 348.1 L279.8 349.4 L280.8 351 L281.8 353 L282.8 355.2 L283.8 357.6 L284.8 360.1 L285.8 362.8 L286.8 365.5 L287.8 368.3 L288.8 371 L289.8 373.6 L290.8 376.2 L291.8 378.5 L292.8 380.7 L293.8 382.7 L294.8 384.4 L295.8 385.8 L296.8 386.9 L297.8 387.8 L298.8 388.3 L299.8 388.5 L300.8 388.5 L301.8 388.1 L302.8 387.4 L303.8 386.5 L304.8 385.3 L305.8 383.9 L306.8 382.4 L307.8 380.6 L308.8 378.8 L309.8 376.8 L310.8 374.8 L311.8 372.7 L312.8 370.7 L313.8 368.7 L314.8 366.8 L315.8 365 L316.8 363.4 L317.8 361.9 L318.8 360.6 L319.8 359.5 L320.8 358.6 L321.8 358 L322.8 357.6 L323.8 357.4 L324.8 357.4 L325.8 357.7 L326.8 358.2 L327.8 359 L328.8 359.9 L329.8 361 L330.8 362.2 L331.8 363.6 L332.8 365.1 L333.8 366.6 L334.8 368.2 L335.8 369.8 L336.8 371.5 L337.8 373 L338.8 374.6 L339.8 376 L340.8 377.3 L341.8 378.5 L342.8 379.6 L343.8 380.4 L344.8 381.2 L345.8 381.7 L346.8 382 L347.8 382.1 L348.8 382.1 L349.8 381.8 L350.8 381.4 L351.8 380.8 L352.8 380 L353.8 379.1 L354.8 378.1 L355.8 377 L356.8 375.7 L357.8 374.4 L358.8 373.1 L359.7 371.8 L360.7 370.4 L361.7 369.1 L362.7 367.8 L363.7 366.7 L364.7 365.6 L365.7 364.6 L366.7 363.7 L367.7 363 L368.7 362.4 L369.7 361.9 L370.7 361.7 L371.7 361.6 L372.7 361.6 L373.7 361.9 L374.7 362.2 L375.7 362.8 L376.7 363.4 L377.7 364.2 L378.7 365.1 L379.7 366.1 L380.7 367.1 L381.7 368.2 L382.7 369.4 L383.7 370.5 L384.7 371.7 L385.7 372.8 L386.7 373.9 L387.7 374.9 L388.7 375.8 L389.7 376.7 L390.7 377.4 L391.7 378 L392.7 378.5 L393.7 378.9 L394.7 379.1 L395.7 379.2 L396.7 379.1 L397.7 378.9 L398.7 378.6 L399.7 378.1 L400.7 377.5 L401.7 376.8 L402.7 376 L403.7 375.2 L404.7 374.3 L405.7 373.3 L406.7 372.3 L407.7 371.3 L408.7 370.3 L409.7 369.3 L410.7 368.4 L411.7 367.5 L412.7 366.7 L413.7 365.9 L414.7 365.3 L415.7 364.8 L416.7 364.3 L417.7 364 L418.7 363.9 L419.7 363.8 L420.7 363.9 L421.7 364.1 L422.7 364.4 L423.7 364.8 L424.7 365.3 L425.7 365.9 L426.7 366.6 L427.7 367.4 L428.7 368.2 L429.7 369.1 L430.7 370 L431.7 370.9 L432.7 371.8 L433.7 372.6 L434.7 373.5 L435.7 374.2 L436.7 375 L437.7 375.6 L438.7 376.2 L439.7 376.6 L440.7 377 L441.7 377.3 L442.7 377.4 L443.7 377.4 L444.7 377.4 L445.7 377.2 L446.7 376.9 L447.7 376.5 L448.7 376 L449.7 375.5 L450.7 374.8 L451.7 374.1 L452.7 373.4 L453.7 372.6 L454.7 371.8 L455.7 371" stroke="#217dd2" stroke-width="1.7" stroke-dasharray="1.7 1.5" fill="none"/>
<path d="M15 376.9 L16 376.9 L17 376.7 L18 376.4 L19 376.1 L20 375.6 L21 375.1 L22 374.5 L23 373.8 L24 373 L25 372.3 L26 371.5 L27 370.6 L28 369.8 L29 369 L30 368.2 L31 367.5 L32 366.8 L33 366.2 L34 365.6 L35 365.2 L36 364.8 L37 364.6 L38 364.4 L39 364.4 L40 364.5 L41 364.7 L42 365 L43 365.4 L44 365.9 L45 366.5 L46 367.2 L47 368 L48 368.8 L49 369.7 L50 370.6 L51 371.5 L52 372.4 L53 373.4 L54 374.2 L55 375.1 L56 375.8 L57 376.5 L58 377.1 L59 377.6 L60 378 L61 378.3 L62 378.5 L63 378.5 L63.9 378.4 L64.9 378.2 L65.9 377.8 L66.9 377.3 L67.9 376.7 L68.9 376 L69.9 375.2 L70.9 374.3 L71.9 373.4 L72.9 372.4 L73.9 371.3 L74.9 370.3 L75.9 369.2 L76.9 368.2 L77.9 367.2 L78.9 366.2 L79.9 365.3 L80.9 364.5 L81.9 363.9 L82.9 363.3 L83.9 362.8 L84.9 362.5 L85.9 362.4 L86.9 362.4 L87.9 362.5 L88.9 362.8 L89.9 363.2 L90.9 363.8 L91.9 364.5 L92.9 365.3 L93.9 366.3 L94.9 367.3 L95.9 368.4 L96.9 369.6 L97.9 370.8 L98.9 372 L99.9 373.3 L100.9 374.5 L101.9 375.7 L102.9 376.8 L103.9 377.8 L104.9 378.7 L105.9 379.5 L106.9 380.2 L107.9 380.7 L108.9 381 L109.9 381.2 L110.9 381.2 L111.9 381 L112.9 380.7 L113.9 380.2 L114.9 379.5 L115.9 378.6 L116.9 377.6 L117.9 376.5 L118.9 375.3 L119.9 373.9 L120.9 372.5 L121.9 371 L122.9 369.6 L123.9 368.1 L124.9 366.6 L125.9 365.2 L126.9 363.9 L127.9 362.6 L128.9 361.5 L129.9 360.6 L130.9 359.8 L131.9 359.1 L132.9 358.7 L133.9 358.5 L134.9 358.5 L135.9 358.7 L136.9 359.2 L137.9 359.8 L138.9 360.7 L139.9 361.7 L140.9 363 L141.9 364.4 L142.9 365.9 L143.9 367.6 L144.9 369.4 L145.9 371.2 L146.9 373.1 L147.9 374.9 L148.9 376.8 L149.9 378.6 L150.9 380.2 L151.9 381.8 L152.9 383.2 L153.9 384.4 L154.9 385.5 L155.9 386.3 L156.9 386.8 L157.9 387.1 L158.9 387.1 L159.9 386.8 L160.8 386.3 L161.8 385.4 L162.8 384.3 L163.8 382.9 L164.8 381.3 L165.8 379.5 L166.8 377.4 L167.8 375.2 L168.8 372.9 L169.8 370.4 L170.8 367.9 L171.8 365.4 L172.8 362.9 L173.8 360.5 L174.8 358.1 L175.8 356 L176.8 354 L177.8 352.3 L178.8 350.8 L179.8 349.7 L180.8 348.9 L181.8 348.4 L182.8 348.4 L183.8 348.7 L184.8 349.4 L185.8 350.6 L186.8 352.1 L187.8 354 L188.8 356.4 L189.8 359 L190.8 362 L191.8 365.2 L192.8 368.7 L193.8 372.4 L194.8 376.2 L195.8 380.1 L196.8 384 L197.8 387.8 L198.8 391.6 L199.8 395.1 L200.8 398.4 L201.8 401.4 L202.8 404 L203.8 406.1 L204.8 407.8 L205.8 408.9 L206.8 409.3 L207.8 409.1 L208.8 408.3 L209.8 406.7 L210.8 404.3 L211.8 401.2 L212.8 397.3 L213.8 392.7 L214.8 387.4 L215.8 381.3 L216.8 374.5 L217.8 367.1 L218.8 359.1 L219.8 350.6 L220.8 341.6 L221.8 332.2 L222.8 322.5 L223.8 312.6 L224.8 302.5 L225.8 292.4 L226.8 282.3 L227.8 272.3 L228.8 262.6 L229.8 253.3 L230.8 244.3 L231.8 235.8 L232.8 228 L233.8 220.8 L234.8 214.4 L235.8 208.8 L236.8 204 L237.8 200.2 L238.8 197.3 L239.8 195.4 L240.8 194.6 L241.8 194.7 L242.8 195.9 L243.8 198 L244.8 201.2 L245.8 205.3 L246.8 210.3 L247.8 216.2 L248.8 222.8 L249.8 230.2 L250.8 238.3 L251.8 246.9 L252.8 256 L253.8 265.4 L254.8 275.2 L255.8 285.2 L256.8 295.3 L257.7 305.5 L258.7 315.5 L259.7 325.4 L260.7 335 L261.7 344.3 L262.7 353.2 L263.7 361.5 L264.7 369.4 L265.7 376.6 L266.7 383.1 L267.7 389 L268.7 394.2 L269.7 398.6 L270.7 402.2 L271.7 405.1 L272.7 407.2 L273.7 408.6 L274.7 409.3 L275.7 409.3 L276.7 408.6 L277.7 407.4 L278.7 405.6 L279.7 403.3 L280.7 400.6 L281.7 397.5 L282.7 394.1 L283.7 390.5 L284.7 386.7 L285.7 382.9 L286.7 379 L287.7 375.1 L288.7 371.3 L289.7 367.7 L290.7 364.3 L291.7 361.1 L292.7 358.2 L293.7 355.6 L294.7 353.4 L295.7 351.6 L296.7 350.2 L297.7 349.2 L298.7 348.6 L299.7 348.3 L300.7 348.5 L301.7 349.1 L302.7 350 L303.7 351.2 L304.7 352.8 L305.7 354.6 L306.7 356.6 L307.7 358.8 L308.7 361.2 L309.7 363.6 L310.7 366.1 L311.7 368.6 L312.7 371.1 L313.7 373.5 L314.7 375.9 L315.7 378 L316.7 380 L317.7 381.8 L318.7 383.3 L319.7 384.6 L320.7 385.7 L321.7 386.4 L322.7 386.9 L323.7 387.1 L324.7 387 L325.7 386.7 L326.7 386 L327.7 385.2 L328.7 384.1 L329.7 382.8 L330.7 381.4 L331.7 379.8 L332.7 378 L333.7 376.2 L334.7 374.4 L335.7 372.5 L336.7 370.7 L337.7 368.8 L338.7 367.1 L339.7 365.5 L340.7 364 L341.7 362.6 L342.7 361.4 L343.7 360.4 L344.7 359.6 L345.7 359 L346.7 358.6 L347.7 358.5 L348.7 358.6 L349.7 358.8 L350.7 359.3 L351.7 360 L352.7 360.8 L353.7 361.8 L354.6 363 L355.6 364.2 L356.6 365.6 L357.6 367 L358.6 368.5 L359.6 370 L360.6 371.5 L361.6 372.9 L362.6 374.3 L363.6 375.6 L364.6 376.8 L365.6 377.9 L366.6 378.9 L367.6 379.7 L368.6 380.3 L369.6 380.8 L370.6 381.1 L371.6 381.2 L372.6 381.2 L373.6 380.9 L374.6 380.5 L375.6 380 L376.6 379.3 L377.6 378.4 L378.6 377.5 L379.6 376.4 L380.6 375.3 L381.6 374.1 L382.6 372.9 L383.6 371.7 L384.6 370.4 L385.6 369.2 L386.6 368.1 L387.6 367 L388.6 366 L389.6 365.1 L390.6 364.3 L391.6 363.6 L392.6 363.1 L393.6 362.7 L394.6 362.4 L395.6 362.3 L396.6 362.4 L397.6 362.6 L398.6 363 L399.6 363.4 L400.6 364 L401.6 364.8 L402.6 365.6 L403.6 366.5 L404.6 367.4 L405.6 368.5 L406.6 369.5 L407.6 370.6 L408.6 371.6 L409.6 372.7 L410.6 373.6 L411.6 374.6 L412.6 375.4 L413.6 376.2 L414.6 376.9 L415.6 377.5 L416.6 377.9 L417.6 378.2 L418.6 378.4 L419.6 378.5 L420.6 378.4 L421.6 378.2 L422.6 377.9 L423.6 377.5 L424.6 377 L425.6 376.3 L426.6 375.6 L427.6 374.8 L428.6 374 L429.6 373.1 L430.6 372.2 L431.6 371.3 L432.6 370.3 L433.6 369.4 L434.6 368.6 L435.6 367.8 L436.6 367 L437.6 366.3 L438.6 365.7 L439.6 365.3 L440.6 364.9 L441.6 364.6 L442.6 364.4 L443.6 364.4 L444.6 364.5 L445.6 364.6 L446.6 364.9 L447.6 365.3 L448.6 365.8 L449.6 366.4 L450.5 367 L451.5 367.7 L452.5 368.5 L453.5 369.3 L454.5 370.1 L455.5 370.9 L456.5 371.7 L457.5 372.5 L458.5 373.3 L459.5 374 L460.5 374.6 L461.5 375.2 L462.5 375.8 L463.5 376.2 L464.5 376.5 L465.5 376.7 L466.5 376.9 L467.5 376.9 L468.5 376.8 L469.5 376.7 L470.5 376.4 L471.5 376.1 L472.5 375.6 L473.5 375.1 L474.5 374.5 L475.5 373.9 L476.5 373.2 L477.5 372.5 L478.5 371.7 L479.5 371" stroke="#217dd2" stroke-width="1.7" stroke-dasharray="1.7 1.5" fill="none"/>
<path d="M26.6 371 L27.6 371.7 L28.6 372.3 L29.6 373 L30.6 373.6 L31.6 374.1 L32.6 374.7 L33.6 375.1 L34.6 375.5 L35.6 375.8 L36.6 376.1 L37.6 376.2 L38.6 376.3 L39.6 376.3 L40.6 376.1 L41.6 375.9 L42.6 375.6 L43.6 375.2 L44.6 374.8 L45.6 374.3 L46.6 373.7 L47.6 373 L48.6 372.3 L49.6 371.6 L50.5 370.9 L51.5 370.2 L52.5 369.4 L53.5 368.7 L54.5 368 L55.5 367.4 L56.5 366.8 L57.5 366.3 L58.5 365.9 L59.5 365.6 L60.5 365.3 L61.5 365.1 L62.5 365.1 L63.5 365.1 L64.5 365.3 L65.5 365.5 L66.5 365.9 L67.5 366.3 L68.5 366.8 L69.5 367.4 L70.5 368.1 L71.5 368.8 L72.5 369.6 L73.5 370.4 L74.5 371.2 L75.5 372.1 L76.5 372.9 L77.5 373.7 L78.5 374.4 L79.5 375.2 L80.5 375.8 L81.5 376.4 L82.5 376.8 L83.5 377.2 L84.5 377.5 L85.5 377.7 L86.5 377.7 L87.5 377.6 L88.5 377.5 L89.5 377.2 L90.5 376.8 L91.5 376.2 L92.5 375.6 L93.5 374.9 L94.5 374.2 L95.5 373.3 L96.5 372.4 L97.5 371.5 L98.5 370.6 L99.5 369.6 L100.5 368.7 L101.5 367.8 L102.5 366.9 L103.5 366.1 L104.5 365.4 L105.5 364.8 L106.5 364.2 L107.5 363.8 L108.5 363.5 L109.5 363.3 L110.5 363.3 L111.5 363.4 L112.5 363.6 L113.5 363.9 L114.5 364.4 L115.5 365 L116.5 365.7 L117.5 366.6 L118.5 367.5 L119.5 368.4 L120.5 369.5 L121.5 370.6 L122.5 371.7 L123.5 372.8 L124.5 373.9 L125.5 374.9 L126.5 375.9 L127.5 376.9 L128.5 377.7 L129.5 378.4 L130.5 379.1 L131.5 379.6 L132.5 379.9 L133.5 380.1 L134.5 380.1 L135.5 380 L136.5 379.7 L137.5 379.3 L138.5 378.7 L139.5 378 L140.5 377.1 L141.5 376.2 L142.5 375.1 L143.5 373.9 L144.5 372.6 L145.5 371.3 L146.5 370 L147.5 368.7 L148.5 367.4 L149.5 366.1 L150.5 364.9 L151.5 363.7 L152.5 362.7 L153.5 361.8 L154.5 361.1 L155.5 360.5 L156.5 360.1 L157.5 359.9 L158.5 359.8 L159.5 360 L160.5 360.3 L161.5 360.9 L162.5 361.6 L163.5 362.5 L164.5 363.6 L165.5 364.8 L166.5 366.2 L167.5 367.6 L168.5 369.2 L169.5 370.8 L170.5 372.5 L171.5 374.2 L172.5 375.8 L173.5 377.4 L174.5 379 L175.5 380.4 L176.5 381.7 L177.5 382.8 L178.5 383.8 L179.5 384.5 L180.5 385 L181.5 385.3 L182.5 385.4 L183.5 385.2 L184.5 384.8 L185.5 384 L186.5 383.1 L187.5 381.9 L188.5 380.5 L189.5 378.9 L190.5 377.1 L191.5 375.1 L192.5 373.1 L193.5 370.9 L194.5 368.7 L195.5 366.4 L196.5 364.2 L197.5 362 L198.5 359.9 L199.5 357.9 L200.5 356.1 L201.5 354.5 L202.5 353.2 L203.5 352.1 L204.5 351.3 L205.5 350.9 L206.5 350.7 L207.5 351 L208.5 351.6 L209.5 352.5 L210.5 353.8 L211.5 355.5 L212.5 357.5 L213.5 359.8 L214.5 362.4 L215.5 365.3 L216.5 368.4 L217.5 371.7 L218.5 375.1 L219.5 378.5 L220.5 382 L221.5 385.5 L222.5 388.8 L223.5 392 L224.5 395 L225.5 397.8 L226.5 400.1 L227.5 402.1 L228.5 403.7 L229.5 404.7 L230.5 405.2 L231.5 405.2 L232.5 404.5 L233.5 403.2 L234.5 401.2 L235.5 398.5 L236.5 395.2 L237.5 391.1 L238.5 386.5 L239.5 381.1 L240.5 375.2 L241.5 368.7 L242.5 361.6 L243.5 354 L244.5 346 L245.5 337.7 L246.5 329.1 L247.5 320.2 L248.5 311.2 L249.5 302.1 L250.5 293.1 L251.5 284.2 L252.5 275.4 L253.5 267 L254.5 258.9 L255.5 251.3 L256.5 244.2 L257.5 237.6 L258.5 231.8 L259.5 226.6 L260.5 222.3 L261.5 218.7 L262.5 216 L263.5 214.2 L264.5 213.3 L265.5 213.3 L266.5 214.2 L267.5 216 L268.5 218.7 L269.5 222.3 L270.5 226.6 L271.5 231.8 L272.5 237.6 L273.5 244.2 L274.5 251.3 L275.5 258.9 L276.5 267 L277.5 275.4 L278.5 284.2 L279.5 293.1 L280.5 302.1 L281.5 311.2 L282.5 320.2 L283.5 329.1 L284.5 337.7 L285.5 346 L286.5 354 L287.5 361.6 L288.5 368.7 L289.4 375.2 L290.4 381.1 L291.4 386.5 L292.4 391.1 L293.4 395.2 L294.4 398.5 L295.4 401.2 L296.4 403.2 L297.4 404.5 L298.4 405.2 L299.4 405.2 L300.4 404.7 L301.4 403.7 L302.4 402.1 L303.4 400.1 L304.4 397.8 L305.4 395 L306.4 392 L307.4 388.8 L308.4 385.5 L309.4 382 L310.4 378.5 L311.4 375.1 L312.4 371.7 L313.4 368.4 L314.4 365.3 L315.4 362.4 L316.4 359.8 L317.4 357.5 L318.4 355.5 L319.4 353.8 L320.4 352.5 L321.4 351.6 L322.4 351 L323.4 350.7 L324.4 350.9 L325.4 351.3 L326.4 352.1 L327.4 353.2 L328.4 354.5 L329.4 356.1 L330.4 357.9 L331.4 359.9 L332.4 362 L333.4 364.2 L334.4 366.4 L335.4 368.7 L336.4 370.9 L337.4 373.1 L338.4 375.1 L339.4 377.1 L340.4 378.9 L341.4 380.5 L342.4 381.9 L343.4 383.1 L344.4 384 L345.4 384.8 L346.4 385.2 L347.4 385.4 L348.4 385.3 L349.4 385 L350.4 384.5 L351.4 383.8 L352.4 382.8 L353.4 381.7 L354.4 380.4 L355.4 379 L356.4 377.4 L357.4 375.8 L358.4 374.2 L359.4 372.5 L360.4 370.8 L361.4 369.2 L362.4 367.6 L363.4 366.2 L364.4 364.8 L365.4 363.6 L366.4 362.5 L367.4 361.6 L368.4 360.9 L369.4 360.3 L370.4 360 L371.4 359.8 L372.4 359.9 L373.4 360.1 L374.4 360.5 L375.4 361.1 L376.4 361.8 L377.4 362.7 L378.4 363.7 L379.4 364.9 L380.4 366.1 L381.4 367.4 L382.4 368.7 L383.4 370 L384.4 371.3 L385.4 372.6 L386.4 373.9 L387.4 375.1 L388.4 376.2 L389.4 377.1 L390.4 378 L391.4 378.7 L392.4 379.3 L393.4 379.7 L394.4 380 L395.4 380.1 L396.4 380.1 L397.4 379.9 L398.4 379.6 L399.4 379.1 L400.4 378.4 L401.4 377.7 L402.4 376.9 L403.4 375.9 L404.4 374.9 L405.4 373.9 L406.4 372.8 L407.4 371.7 L408.4 370.6 L409.4 369.5 L410.4 368.4 L411.4 367.5 L412.4 366.6 L413.4 365.7 L414.4 365 L415.4 364.4 L416.4 363.9 L417.4 363.6 L418.4 363.4 L419.4 363.3 L420.4 363.3 L421.4 363.5 L422.4 363.8 L423.4 364.2 L424.4 364.8 L425.4 365.4 L426.4 366.1 L427.4 366.9 L428.4 367.8 L429.4 368.7 L430.4 369.6 L431.4 370.6 L432.4 371.5 L433.4 372.4 L434.4 373.3 L435.4 374.2 L436.4 374.9 L437.4 375.6 L438.4 376.2 L439.4 376.8 L440.4 377.2 L441.4 377.5 L442.4 377.6 L443.4 377.7 L444.4 377.7 L445.4 377.5 L446.4 377.2 L447.4 376.8 L448.4 376.4 L449.4 375.8 L450.4 375.2 L451.4 374.4 L452.4 373.7 L453.4 372.9 L454.4 372.1 L455.4 371.2 L456.4 370.4 L457.4 369.6 L458.4 368.8 L459.4 368.1 L460.4 367.4 L461.4 366.8 L462.4 366.3 L463.4 365.9 L464.4 365.5 L465.4 365.3 L466.4 365.1 L467.4 365.1 L468.4 365.1 L469.4 365.3 L470.4 365.6 L471.4 365.9 L472.4 366.3 L473.4 366.8 L474.4 367.4 L475.4 368 L476.4 368.7 L477.4 369.4 L478.4 370.2 L479.4 370.9 L480.4 371.6 L481.4 372.3 L482.4 373 L483.4 373.7 L484.4 374.3 L485.4 374.8 L486.4 375.2 L487.4 375.6 L488.4 375.9 L489.4 376.1 L490.4 376.3 L491.4 376.3 L492.4 376.2 L493.4 376.1 L494.4 375.8 L495.4 375.5 L496.4 375.1 L497.4 374.7 L498.4 374.1 L499.4 373.6 L500.4 373 L501.4 372.3 L502.4 371.7 L503.4 371" stroke="#217dd2" stroke-width="1.7" stroke-dasharray="1.7 1.5" fill="none"/>
<path d="M50.4 371 L51.4 371.6 L52.4 372.2 L53.4 372.7 L54.4 373.2 L55.4 373.7 L56.4 374.2 L57.4 374.6 L58.4 374.9 L59.4 375.2 L60.4 375.4 L61.4 375.6 L62.4 375.6 L63.4 375.6 L64.4 375.5 L65.4 375.3 L66.4 375 L67.4 374.7 L68.4 374.3 L69.4 373.8 L70.4 373.3 L71.4 372.8 L72.4 372.2 L73.4 371.5 L74.4 370.9 L75.4 370.3 L76.4 369.6 L77.4 369 L78.4 368.4 L79.4 367.9 L80.4 367.4 L81.4 366.9 L82.4 366.5 L83.4 366.2 L84.4 366 L85.4 365.9 L86.4 365.8 L87.4 365.9 L88.4 366 L89.4 366.2 L90.4 366.5 L91.4 366.9 L92.4 367.4 L93.4 367.9 L94.4 368.5 L95.4 369.1 L96.4 369.8 L97.4 370.5 L98.4 371.2 L99.4 371.9 L100.4 372.7 L101.4 373.3 L102.4 374 L103.4 374.6 L104.4 375.2 L105.4 375.7 L106.4 376.1 L107.4 376.4 L108.4 376.7 L109.4 376.8 L110.4 376.9 L111.4 376.8 L112.4 376.6 L113.4 376.4 L114.4 376 L115.4 375.6 L116.4 375 L117.4 374.4 L118.4 373.8 L119.4 373 L120.4 372.3 L121.4 371.5 L122.4 370.6 L123.4 369.8 L124.4 369 L125.4 368.2 L126.4 367.4 L127.4 366.7 L128.4 366.1 L129.4 365.5 L130.4 365.1 L131.4 364.7 L132.4 364.4 L133.4 364.3 L134.4 364.2 L135.4 364.3 L136.4 364.5 L137.4 364.8 L138.4 365.2 L139.4 365.8 L140.4 366.4 L141.4 367.1 L142.4 367.9 L143.4 368.8 L144.4 369.7 L145.4 370.6 L146.4 371.6 L147.4 372.5 L148.4 373.5 L149.4 374.4 L150.4 375.3 L151.4 376.1 L152.4 376.9 L153.4 377.5 L154.4 378 L155.4 378.5 L156.4 378.8 L157.4 378.9 L158.4 379 L159.4 378.9 L160.4 378.6 L161.4 378.3 L162.4 377.8 L163.4 377.1 L164.4 376.4 L165.4 375.5 L166.4 374.5 L167.4 373.5 L168.4 372.4 L169.4 371.3 L170.3 370.1 L171.3 369 L172.3 367.8 L173.3 366.7 L174.3 365.6 L175.3 364.7 L176.3 363.8 L177.3 363 L178.3 362.3 L179.3 361.8 L180.3 361.5 L181.3 361.3 L182.3 361.2 L183.3 361.4 L184.3 361.7 L185.3 362.1 L186.3 362.8 L187.3 363.6 L188.3 364.5 L189.3 365.6 L190.3 366.8 L191.3 368.1 L192.3 369.4 L193.3 370.9 L194.3 372.3 L195.3 373.8 L196.3 375.2 L197.3 376.6 L198.3 378 L199.3 379.2 L200.3 380.3 L201.3 381.3 L202.3 382.1 L203.3 382.8 L204.3 383.3 L205.3 383.5 L206.3 383.6 L207.3 383.4 L208.3 383 L209.3 382.4 L210.3 381.6 L211.3 380.5 L212.3 379.3 L213.3 377.9 L214.3 376.3 L215.3 374.6 L216.3 372.8 L217.3 370.9 L218.3 369 L219.3 367 L220.3 365 L221.3 363.1 L222.3 361.3 L223.3 359.6 L224.3 358 L225.3 356.6 L226.3 355.4 L227.3 354.5 L228.3 353.8 L229.3 353.4 L230.3 353.3 L231.3 353.5 L232.3 354 L233.3 354.9 L234.3 356 L235.3 357.5 L236.3 359.2 L237.3 361.3 L238.3 363.5 L239.3 366 L240.3 368.7 L241.3 371.6 L242.3 374.5 L243.3 377.6 L244.3 380.6 L245.3 383.6 L246.3 386.6 L247.3 389.4 L248.3 392 L249.3 394.4 L250.3 396.4 L251.3 398.2 L252.3 399.5 L253.3 400.4 L254.3 400.9 L255.3 400.8 L256.3 400.2 L257.3 399.1 L258.3 397.3 L259.3 395 L260.3 392.1 L261.3 388.6 L262.3 384.5 L263.3 379.8 L264.3 374.7 L265.3 368.9 L266.3 362.8 L267.3 356.2 L268.3 349.2 L269.3 341.9 L270.3 334.4 L271.3 326.6 L272.3 318.8 L273.3 310.9 L274.3 303 L275.3 295.2 L276.3 287.5 L277.3 280.2 L278.3 273.1 L279.3 266.5 L280.3 260.2 L281.3 254.5 L282.3 249.4 L283.3 244.9 L284.3 241.1 L285.3 238 L286.3 235.7 L287.3 234.1 L288.3 233.3 L289.3 233.3 L290.3 234.1 L291.3 235.7 L292.3 238 L293.3 241.1 L294.3 244.9 L295.3 249.4 L296.3 254.5 L297.3 260.2 L298.3 266.5 L299.3 273.1 L300.3 280.2 L301.3 287.5 L302.3 295.2 L303.3 303 L304.3 310.9 L305.3 318.8 L306.3 326.6 L307.3 334.4 L308.3 341.9 L309.3 349.2 L310.3 356.2 L311.3 362.8 L312.3 368.9 L313.3 374.7 L314.3 379.8 L315.3 384.5 L316.3 388.6 L317.3 392.1 L318.3 395 L319.3 397.3 L320.3 399.1 L321.3 400.2 L322.3 400.8 L323.3 400.9 L324.3 400.4 L325.3 399.5 L326.3 398.2 L327.3 396.4 L328.3 394.4 L329.3 392 L330.3 389.4 L331.3 386.6 L332.3 383.6 L333.3 380.6 L334.3 377.6 L335.3 374.5 L336.3 371.6 L337.3 368.7 L338.3 366 L339.3 363.5 L340.3 361.3 L341.3 359.2 L342.3 357.5 L343.3 356 L344.3 354.9 L345.3 354 L346.3 353.5 L347.3 353.3 L348.3 353.4 L349.3 353.8 L350.3 354.5 L351.3 355.4 L352.3 356.6 L353.3 358 L354.3 359.6 L355.3 361.3 L356.3 363.1 L357.3 365 L358.3 367 L359.3 369 L360.3 370.9 L361.3 372.8 L362.3 374.6 L363.3 376.3 L364.3 377.9 L365.3 379.3 L366.3 380.5 L367.3 381.6 L368.3 382.4 L369.3 383 L370.3 383.4 L371.3 383.6 L372.3 383.5 L373.3 383.3 L374.3 382.8 L375.3 382.1 L376.3 381.3 L377.3 380.3 L378.3 379.2 L379.3 378 L380.3 376.6 L381.3 375.2 L382.3 373.8 L383.3 372.3 L384.3 370.9 L385.3 369.4 L386.3 368.1 L387.3 366.8 L388.3 365.6 L389.3 364.5 L390.3 363.6 L391.3 362.8 L392.3 362.1 L393.3 361.7 L394.3 361.4 L395.3 361.2 L396.3 361.3 L397.3 361.5 L398.3 361.8 L399.3 362.3 L400.3 363 L401.3 363.8 L402.3 364.7 L403.3 365.6 L404.3 366.7 L405.3 367.8 L406.3 369 L407.3 370.1 L408.2 371.3 L409.2 372.4 L410.2 373.5 L411.2 374.5 L412.2 375.5 L413.2 376.4 L414.2 377.1 L415.2 377.8 L416.2 378.3 L417.2 378.6 L418.2 378.9 L419.2 379 L420.2 378.9 L421.2 378.8 L422.2 378.5 L423.2 378 L424.2 377.5 L425.2 376.9 L426.2 376.1 L427.2 375.3 L428.2 374.4 L429.2 373.5 L430.2 372.5 L431.2 371.6 L432.2 370.6 L433.2 369.7 L434.2 368.8 L435.2 367.9 L436.2 367.1 L437.2 366.4 L438.2 365.8 L439.2 365.2 L440.2 364.8 L441.2 364.5 L442.2 364.3 L443.2 364.2 L444.2 364.3 L445.2 364.4 L446.2 364.7 L447.2 365.1 L448.2 365.5 L449.2 366.1 L450.2 366.7 L451.2 367.4 L452.2 368.2 L453.2 369 L454.2 369.8 L455.2 370.6 L456.2 371.5 L457.2 372.3 L458.2 373 L459.2 373.8 L460.2 374.4 L461.2 375 L462.2 375.6 L463.2 376 L464.2 376.4 L465.2 376.6 L466.2 376.8 L467.2 376.9 L468.2 376.8 L469.2 376.7 L470.2 376.4 L471.2 376.1 L472.2 375.7 L473.2 375.2 L474.2 374.6 L475.2 374 L476.2 373.3 L477.2 372.7 L478.2 371.9 L479.2 371.2 L480.2 370.5 L481.2 369.8 L482.2 369.1 L483.2 368.5 L484.2 367.9 L485.2 367.4 L486.2 366.9 L487.2 366.5 L488.2 366.2 L489.2 366 L490.2 365.9 L491.2 365.8 L492.2 365.9 L493.2 366 L494.2 366.2 L495.2 366.5 L496.2 366.9 L497.2 367.4 L498.2 367.9 L499.2 368.4 L500.2 369 L501.2 369.6 L502.2 370.3 L503.2 370.9 L504.2 371.5 L505.2 372.2 L506.2 372.8 L507.2 373.3 L508.2 373.8 L509.2 374.3 L510.2 374.7 L511.2 375 L512.2 375.3 L513.2 375.5 L514.2 375.6 L515.2 375.6 L516.2 375.6 L517.2 375.4 L518.2 375.2 L519.2 374.9 L520.2 374.6 L521.2 374.2 L522.2 373.7 L523.2 373.2 L524.2 372.7 L525.2 372.2 L526.2 371.6 L527.2 371" stroke="#217dd2" stroke-width="1.7" stroke-dasharray="1.7 1.5" fill="none"/>
<path d="M74.2 371 L75.2 371.5 L76.2 372 L77.2 372.5 L78.2 372.9 L79.2 373.3 L80.2 373.7 L81.2 374.1 L82.2 374.3 L83.2 374.6 L84.2 374.8 L85.2 374.9 L86.2 374.9 L87.2 374.9 L88.2 374.8 L89.2 374.7 L90.2 374.4 L91.2 374.1 L92.2 373.8 L93.2 373.4 L94.2 373 L95.2 372.5 L96.2 372 L97.2 371.5 L98.2 370.9 L99.2 370.4 L100.2 369.8 L101.2 369.3 L102.2 368.8 L103.2 368.3 L104.2 367.9 L105.2 367.5 L106.2 367.2 L107.2 367 L108.2 366.8 L109.2 366.7 L110.2 366.6 L111.2 366.6 L112.2 366.8 L113.2 366.9 L114.2 367.2 L115.2 367.5 L116.2 367.9 L117.2 368.4 L118.2 368.9 L119.2 369.4 L120.2 370 L121.2 370.6 L122.2 371.2 L123.2 371.8 L124.2 372.4 L125.2 373 L126.2 373.6 L127.2 374.1 L128.2 374.6 L129.2 375 L130.2 375.3 L131.2 375.6 L132.2 375.8 L133.2 375.9 L134.2 376 L135.2 375.9 L136.2 375.8 L137.2 375.6 L138.2 375.3 L139.2 374.9 L140.2 374.4 L141.2 373.9 L142.2 373.3 L143.2 372.7 L144.2 372.1 L145.2 371.4 L146.2 370.7 L147.2 370 L148.2 369.3 L149.2 368.6 L150.2 368 L151.2 367.4 L152.2 366.8 L153.2 366.4 L154.2 366 L155.2 365.7 L156.2 365.4 L157.2 365.3 L158.2 365.3 L159.2 365.3 L160.2 365.5 L161.2 365.8 L162.2 366.1 L163.2 366.6 L164.2 367.1 L165.2 367.7 L166.2 368.4 L167.2 369.1 L168.2 369.9 L169.2 370.7 L170.2 371.5 L171.2 372.3 L172.2 373.1 L173.2 373.9 L174.2 374.7 L175.2 375.3 L176.2 376 L177.2 376.5 L178.2 377 L179.2 377.3 L180.2 377.6 L181.2 377.7 L182.2 377.8 L183.2 377.7 L184.2 377.5 L185.2 377.2 L186.2 376.7 L187.2 376.2 L188.2 375.5 L189.2 374.8 L190.2 374 L191.2 373.1 L192.2 372.2 L193.2 371.2 L194.2 370.3 L195.2 369.3 L196.2 368.3 L197.2 367.4 L198.2 366.5 L199.2 365.6 L200.2 364.9 L201.2 364.2 L202.2 363.7 L203.2 363.2 L204.2 362.9 L205.2 362.7 L206.2 362.7 L207.2 362.8 L208.2 363.1 L209.2 363.5 L210.2 364 L211.2 364.7 L212.2 365.5 L213.2 366.4 L214.2 367.4 L215.2 368.5 L216.2 369.7 L217.2 370.9 L218.2 372.1 L219.2 373.4 L220.2 374.6 L221.2 375.8 L222.2 376.9 L223.2 378 L224.2 378.9 L225.2 379.8 L226.2 380.5 L227.2 381 L228.2 381.4 L229.2 381.6 L230.2 381.7 L231.2 381.5 L232.2 381.2 L233.2 380.7 L234.2 380 L235.2 379.1 L236.2 378 L237.2 376.8 L238.2 375.5 L239.2 374.1 L240.2 372.5 L241.2 370.9 L242.2 369.3 L243.2 367.6 L244.2 365.9 L245.2 364.3 L246.2 362.8 L247.2 361.3 L248.2 360 L249.2 358.8 L250.2 357.8 L251.2 357 L252.2 356.4 L253.2 356.1 L254.2 356 L255.2 356.2 L256.2 356.6 L257.2 357.3 L258.2 358.3 L259.2 359.5 L260.2 361 L261.2 362.7 L262.2 364.7 L263.2 366.8 L264.2 369.1 L265.2 371.5 L266.2 374 L267.2 376.6 L268.2 379.2 L269.2 381.7 L270.2 384.2 L271.2 386.6 L272.2 388.8 L273.2 390.8 L274.2 392.6 L275.2 394.1 L276.2 395.2 L277.2 396 L278.2 396.4 L279.2 396.3 L280.2 395.8 L281.2 394.8 L282.2 393.4 L283.2 391.4 L284.2 388.9 L285.2 385.9 L286.2 382.5 L287.2 378.5 L288.2 374.1 L289.1 369.3 L290.1 364 L291.1 358.4 L292.1 352.5 L293.1 346.3 L294.1 339.9 L295.1 333.3 L296.1 326.7 L297.1 319.9 L298.1 313.2 L299.1 306.6 L300.1 300.1 L301.1 293.9 L302.1 287.9 L303.1 282.2 L304.1 277 L305.1 272.1 L306.1 267.8 L307.1 264 L308.1 260.7 L309.1 258.1 L310.1 256.1 L311.1 254.8 L312.1 254.1 L313.1 254.1 L314.1 254.8 L315.1 256.1 L316.1 258.1 L317.1 260.7 L318.1 264 L319.1 267.8 L320.1 272.1 L321.1 277 L322.1 282.2 L323.1 287.9 L324.1 293.9 L325.1 300.1 L326.1 306.6 L327.1 313.2 L328.1 319.9 L329.1 326.7 L330.1 333.3 L331.1 339.9 L332.1 346.3 L333.1 352.5 L334.1 358.4 L335.1 364 L336.1 369.3 L337.1 374.1 L338.1 378.5 L339.1 382.5 L340.1 385.9 L341.1 388.9 L342.1 391.4 L343.1 393.4 L344.1 394.8 L345.1 395.8 L346.1 396.3 L347.1 396.4 L348.1 396 L349.1 395.2 L350.1 394.1 L351.1 392.6 L352.1 390.8 L353.1 388.8 L354.1 386.6 L355.1 384.2 L356.1 381.7 L357.1 379.2 L358.1 376.6 L359.1 374 L360.1 371.5 L361.1 369.1 L362.1 366.8 L363.1 364.7 L364.1 362.7 L365.1 361 L366.1 359.5 L367.1 358.3 L368.1 357.3 L369.1 356.6 L370.1 356.2 L371.1 356 L372.1 356.1 L373.1 356.4 L374.1 357 L375.1 357.8 L376.1 358.8 L377.1 360 L378.1 361.3 L379.1 362.8 L380.1 364.3 L381.1 365.9 L382.1 367.6 L383.1 369.3 L384.1 370.9 L385.1 372.5 L386.1 374.1 L387.1 375.5 L388.1 376.8 L389.1 378 L390.1 379.1 L391.1 380 L392.1 380.7 L393.1 381.2 L394.1 381.5 L395.1 381.7 L396.1 381.6 L397.1 381.4 L398.1 381 L399.1 380.5 L400.1 379.8 L401.1 378.9 L402.1 378 L403.1 376.9 L404.1 375.8 L405.1 374.6 L406.1 373.4 L407.1 372.1 L408.1 370.9 L409.1 369.7 L410.1 368.5 L411.1 367.4 L412.1 366.4 L413.1 365.5 L414.1 364.7 L415.1 364 L416.1 363.5 L417.1 363.1 L418.1 362.8 L419.1 362.7 L420.1 362.7 L421.1 362.9 L422.1 363.2 L423.1 363.7 L424.1 364.2 L425.1 364.9 L426.1 365.6 L427.1 366.5 L428.1 367.4 L429.1 368.3 L430.1 369.3 L431.1 370.3 L432.1 371.2 L433.1 372.2 L434.1 373.1 L435.1 374 L436.1 374.8 L437.1 375.5 L438.1 376.2 L439.1 376.7 L440.1 377.2 L441.1 377.5 L442.1 377.7 L443.1 377.8 L444.1 377.7 L445.1 377.6 L446.1 377.3 L447.1 377 L448.1 376.5 L449.1 376 L450.1 375.3 L451.1 374.7 L452.1 373.9 L453.1 373.1 L454.1 372.3 L455.1 371.5 L456.1 370.7 L457.1 369.9 L458.1 369.1 L459.1 368.4 L460.1 367.7 L461.1 367.1 L462.1 366.6 L463.1 366.1 L464.1 365.8 L465.1 365.5 L466.1 365.3 L467.1 365.3 L468.1 365.3 L469.1 365.4 L470.1 365.7 L471.1 366 L472.1 366.4 L473.1 366.8 L474.1 367.4 L475.1 368 L476.1 368.6 L477.1 369.3 L478.1 370 L479.1 370.7 L480.1 371.4 L481.1 372.1 L482.1 372.7 L483.1 373.3 L484.1 373.9 L485.1 374.4 L486.1 374.9 L487.1 375.3 L488.1 375.6 L489.1 375.8 L490.1 375.9 L491.1 376 L492.1 375.9 L493.1 375.8 L494.1 375.6 L495.1 375.3 L496.1 375 L497.1 374.6 L498.1 374.1 L499.1 373.6 L500.1 373 L501.1 372.4 L502.1 371.8 L503.1 371.2 L504.1 370.6 L505.1 370 L506.1 369.4 L507.1 368.9 L508.1 368.4 L509.1 367.9 L510.1 367.5 L511.1 367.2 L512.1 366.9 L513.1 366.8 L514.1 366.6 L515.1 366.6 L516.1 366.7 L517.1 366.8 L518.1 367 L519.1 367.2 L520.1 367.5 L521.1 367.9 L522.1 368.3 L523.1 368.8 L524.1 369.3 L525.1 369.8 L526.1 370.4 L527.1 370.9 L528 371.5 L529 372 L530 372.5 L531 373 L532 373.4 L533 373.8 L534 374.1 L535 374.4 L536 374.7 L537 374.8 L538 374.9 L539 374.9 L540 374.9 L541 374.8 L542 374.6 L543 374.3 L544 374.1 L545 373.7 L546 373.3 L547 372.9 L548 372.5 L549 372 L550 371.5 L551 371" stroke="#217dd2" stroke-width="1.7" stroke-dasharray="1.7 1.5" fill="none"/>
<path d="M98.1 371 L99.1 371.4 L100.1 371.9 L101.1 372.3 L102.1 372.7 L103.1 373 L104.1 373.4 L105.1 373.7 L106.1 373.9 L107.1 374.1 L108.1 374.3 L109.1 374.4 L110.1 374.4 L111.1 374.4 L112.1 374.3 L113.1 374.2 L114.1 374 L115.1 373.7 L116.1 373.4 L117.1 373.1 L118.1 372.7 L119.1 372.3 L120.1 371.9 L121.1 371.4 L122.1 370.9 L123.1 370.5 L124.1 370 L125.1 369.5 L126.1 369.1 L127.1 368.7 L128.1 368.3 L129.1 368 L130.1 367.7 L131.1 367.5 L132.1 367.3 L133.1 367.2 L134.1 367.2 L135.1 367.2 L136.1 367.3 L137.1 367.5 L138.1 367.7 L139.1 368 L140.1 368.3 L141.1 368.7 L142.1 369.1 L143.1 369.6 L144.1 370.1 L145.1 370.6 L146.1 371.2 L147.1 371.7 L148.1 372.2 L149.1 372.7 L150.1 373.2 L151.1 373.7 L152.1 374.1 L153.1 374.5 L154.1 374.8 L155.1 375 L156.1 375.2 L157.1 375.3 L158.1 375.3 L159.1 375.3 L160.1 375.2 L161.1 375 L162.1 374.7 L163.1 374.4 L164.1 374 L165.1 373.5 L166.1 373 L167.1 372.5 L168.1 371.9 L169.1 371.3 L170 370.7 L171 370.1 L172 369.5 L173 368.9 L174 368.4 L175 367.8 L176 367.4 L177 367 L178 366.6 L179 366.3 L180 366.1 L181 366 L182 366 L183 366.1 L184 366.2 L185 366.4 L186 366.7 L187 367.1 L188 367.6 L189 368.1 L190 368.7 L191 369.3 L192 370 L193 370.7 L194 371.4 L195 372.1 L196 372.9 L197 373.5 L198 374.2 L199 374.8 L200 375.3 L201 375.8 L202 376.2 L203 376.5 L204 376.8 L205 376.9 L206 376.9 L207 376.8 L208 376.7 L209 376.4 L210 376 L211 375.5 L212 375 L213 374.3 L214 373.6 L215 372.9 L216 372.1 L217 371.2 L218 370.4 L219 369.5 L220 368.6 L221 367.8 L222 367 L223 366.3 L224 365.6 L225 365.1 L226 364.6 L227 364.2 L228 363.9 L229 363.8 L230 363.8 L231 363.9 L232 364.1 L233 364.4 L234 364.9 L235 365.5 L236 366.2 L237 367 L238 367.9 L239 368.8 L240 369.8 L241 370.9 L242 372 L243 373.1 L244 374.1 L245 375.2 L246 376.2 L247 377.1 L248 377.9 L249 378.6 L250 379.3 L251 379.7 L252 380.1 L253 380.3 L254 380.3 L255 380.2 L256 379.9 L257 379.4 L258 378.8 L259 378.1 L260 377.1 L261 376.1 L262 374.9 L263 373.7 L264 372.3 L265 370.9 L266 369.5 L267 368 L268 366.6 L269 365.2 L270 363.8 L271 362.5 L272 361.4 L273 360.3 L274 359.5 L275 358.8 L276 358.3 L277 358 L278 357.9 L279 358 L280 358.4 L281 359 L282 359.9 L283 361 L284 362.3 L285 363.8 L286 365.5 L287 367.3 L288 369.3 L289 371.4 L290 373.6 L291 375.9 L292 378.1 L293 380.4 L294 382.5 L295 384.6 L296 386.5 L297 388.3 L298 389.8 L299 391.1 L300 392.1 L301 392.8 L302 393.2 L303 393.1 L304 392.7 L305 391.8 L306 390.5 L307 388.8 L308 386.6 L309 384 L310 381 L311 377.6 L312 373.7 L313 369.5 L314 364.9 L315 360 L316 354.9 L317 349.4 L318 343.9 L319 338.1 L320 332.3 L321 326.4 L322 320.6 L323 314.8 L324 309.2 L325 303.7 L326 298.5 L327 293.5 L328 288.9 L329 284.7 L330 280.9 L331 277.6 L332 274.8 L333 272.5 L334 270.7 L335 269.6 L336 269 L337 269 L338 269.6 L339 270.7 L340 272.5 L341 274.8 L342 277.6 L343 280.9 L344 284.7 L345 288.9 L346 293.5 L347 298.5 L348 303.7 L349 309.2 L350 314.8 L351 320.6 L352 326.4 L353 332.3 L354 338.1 L355 343.9 L356 349.4 L357 354.9 L358 360 L359 364.9 L360 369.5 L361 373.7 L362 377.6 L363 381 L364 384 L365 386.6 L366 388.8 L367 390.5 L368 391.8 L369 392.7 L370 393.1 L371 393.2 L372 392.8 L373 392.1 L374 391.1 L375 389.8 L376 388.3 L377 386.5 L378 384.6 L379 382.5 L380 380.4 L381 378.1 L382 375.9 L383 373.6 L384 371.4 L385 369.3 L386 367.3 L387 365.5 L388 363.8 L389 362.3 L390 361 L391 359.9 L392 359 L393 358.4 L394 358 L395 357.9 L396 358 L397 358.3 L398 358.8 L399 359.5 L400 360.3 L401 361.4 L402 362.5 L403 363.8 L404 365.2 L405 366.6 L406 368 L407 369.5 L408 370.9 L408.9 372.3 L409.9 373.7 L410.9 374.9 L411.9 376.1 L412.9 377.1 L413.9 378.1 L414.9 378.8 L415.9 379.4 L416.9 379.9 L417.9 380.2 L418.9 380.3 L419.9 380.3 L420.9 380.1 L421.9 379.7 L422.9 379.3 L423.9 378.6 L424.9 377.9 L425.9 377.1 L426.9 376.2 L427.9 375.2 L428.9 374.1 L429.9 373.1 L430.9 372 L431.9 370.9 L432.9 369.8 L433.9 368.8 L434.9 367.9 L435.9 367 L436.9 366.2 L437.9 365.5 L438.9 364.9 L439.9 364.4 L440.9 364.1 L441.9 363.9 L442.9 363.8 L443.9 363.8 L444.9 363.9 L445.9 364.2 L446.9 364.6 L447.9 365.1 L448.9 365.6 L449.9 366.3 L450.9 367 L451.9 367.8 L452.9 368.6 L453.9 369.5 L454.9 370.4 L455.9 371.2 L456.9 372.1 L457.9 372.9 L458.9 373.6 L459.9 374.3 L460.9 375 L461.9 375.5 L462.9 376 L463.9 376.4 L464.9 376.7 L465.9 376.8 L466.9 376.9 L467.9 376.9 L468.9 376.8 L469.9 376.5 L470.9 376.2 L471.9 375.8 L472.9 375.3 L473.9 374.8 L474.9 374.2 L475.9 373.5 L476.9 372.9 L477.9 372.1 L478.9 371.4 L479.9 370.7 L480.9 370 L481.9 369.3 L482.9 368.7 L483.9 368.1 L484.9 367.6 L485.9 367.1 L486.9 366.7 L487.9 366.4 L488.9 366.2 L489.9 366.1 L490.9 366 L491.9 366 L492.9 366.1 L493.9 366.3 L494.9 366.6 L495.9 367 L496.9 367.4 L497.9 367.8 L498.9 368.4 L499.9 368.9 L500.9 369.5 L501.9 370.1 L502.9 370.7 L503.9 371.3 L504.9 371.9 L505.9 372.5 L506.9 373 L507.9 373.5 L508.9 374 L509.9 374.4 L510.9 374.7 L511.9 375 L512.9 375.2 L513.9 375.3 L514.9 375.3 L515.9 375.3 L516.9 375.2 L517.9 375 L518.9 374.8 L519.9 374.5 L520.9 374.1 L521.9 373.7 L522.9 373.2 L523.9 372.7 L524.9 372.2 L525.9 371.7 L526.9 371.2 L527.9 370.6 L528.9 370.1 L529.9 369.6 L530.9 369.1 L531.9 368.7 L532.9 368.3 L533.9 368 L534.9 367.7 L535.9 367.5 L536.9 367.3 L537.9 367.2 L538.9 367.2 L539.9 367.2 L540.9 367.3 L541.9 367.5 L542.9 367.7 L543.9 368 L544.9 368.3 L545.9 368.7 L546.9 369.1 L547.9 369.5 L548.9 370 L549.9 370.5 L550.9 370.9 L551.9 371.4 L552.9 371.9 L553.9 372.3 L554.9 372.7 L555.9 373.1 L556.9 373.4 L557.9 373.7 L558.9 374 L559.9 374.2 L560.9 374.3 L561.9 374.4 L562.9 374.4 L563.9 374.4 L564.9 374.3 L565.9 374.1 L566.9 373.9 L567.9 373.7 L568.9 373.4 L569.9 373 L570.9 372.7 L571.9 372.3 L572.9 371.9 L573.9 371.4 L574.9 371" stroke="#217dd2" stroke-width="1.7" stroke-dasharray="1.7 1.5" fill="none"/>
<path d="M121.9 371 L122.9 371.4 L123.9 371.7 L124.9 372.1 L125.9 372.4 L126.9 372.7 L127.9 373 L128.9 373.3 L129.9 373.5 L130.9 373.7 L131.9 373.8 L132.9 373.9 L133.9 373.9 L134.9 373.9 L135.9 373.8 L136.9 373.7 L137.9 373.6 L138.9 373.3 L139.9 373.1 L140.9 372.8 L141.9 372.5 L142.9 372.1 L143.9 371.7 L144.9 371.3 L145.9 370.9 L146.9 370.5 L147.9 370.1 L148.9 369.7 L149.9 369.4 L150.9 369 L151.9 368.7 L152.9 368.4 L153.9 368.2 L154.9 368 L155.9 367.8 L156.9 367.8 L157.9 367.7 L158.9 367.8 L159.9 367.8 L160.9 368 L161.9 368.2 L162.9 368.4 L163.9 368.7 L164.9 369 L165.9 369.4 L166.9 369.8 L167.9 370.2 L168.9 370.7 L169.9 371.1 L170.9 371.6 L171.9 372 L172.9 372.5 L173.9 372.9 L174.9 373.3 L175.9 373.7 L176.9 374 L177.9 374.2 L178.9 374.4 L179.9 374.6 L180.9 374.7 L181.9 374.7 L182.9 374.7 L183.9 374.6 L184.9 374.4 L185.9 374.2 L186.9 373.9 L187.9 373.6 L188.9 373.2 L189.9 372.8 L190.9 372.3 L191.9 371.8 L192.9 371.3 L193.9 370.8 L194.9 370.2 L195.9 369.7 L196.9 369.2 L197.9 368.7 L198.9 368.3 L199.9 367.9 L200.9 367.5 L201.9 367.2 L202.9 367 L203.9 366.8 L204.9 366.7 L205.9 366.7 L206.9 366.8 L207.9 366.9 L208.9 367.1 L209.9 367.4 L210.9 367.7 L211.9 368.1 L212.9 368.5 L213.9 369 L214.9 369.6 L215.9 370.2 L216.9 370.8 L217.9 371.4 L218.9 372 L219.9 372.6 L220.9 373.2 L221.9 373.7 L222.9 374.2 L223.9 374.7 L224.9 375.1 L225.9 375.5 L226.9 375.7 L227.9 375.9 L228.9 376 L229.9 376.1 L230.9 376 L231.9 375.8 L232.9 375.6 L233.9 375.3 L234.9 374.9 L235.9 374.4 L236.9 373.8 L237.9 373.2 L238.9 372.6 L239.9 371.9 L240.9 371.2 L241.9 370.4 L242.9 369.7 L243.9 369 L244.9 368.3 L245.9 367.6 L246.9 367 L247.9 366.4 L248.9 365.9 L249.9 365.5 L250.9 365.2 L251.9 365 L252.9 364.8 L253.9 364.8 L254.9 364.9 L255.9 365.1 L256.9 365.4 L257.9 365.8 L258.9 366.3 L259.9 366.9 L260.9 367.6 L261.9 368.3 L262.9 369.1 L263.9 370 L264.9 370.9 L265.9 371.8 L266.9 372.8 L267.9 373.7 L268.9 374.6 L269.9 375.4 L270.9 376.2 L271.9 376.9 L272.9 377.5 L273.9 378.1 L274.9 378.5 L275.9 378.8 L276.9 378.9 L277.9 379 L278.9 378.9 L279.9 378.6 L280.9 378.2 L281.9 377.7 L282.9 377 L283.9 376.3 L284.9 375.4 L285.9 374.4 L286.9 373.3 L287.9 372.1 L288.8 370.9 L289.8 369.7 L290.8 368.5 L291.8 367.2 L292.8 366 L293.8 364.8 L294.8 363.8 L295.8 362.8 L296.8 361.9 L297.8 361.1 L298.8 360.6 L299.8 360.1 L300.8 359.9 L301.8 359.8 L302.8 359.9 L303.8 360.2 L304.8 360.8 L305.8 361.5 L306.8 362.4 L307.8 363.5 L308.8 364.8 L309.8 366.3 L310.8 367.9 L311.8 369.6 L312.8 371.4 L313.8 373.2 L314.8 375.2 L315.8 377.1 L316.8 379 L317.8 380.9 L318.8 382.6 L319.8 384.3 L320.8 385.8 L321.8 387.1 L322.8 388.2 L323.8 389.1 L324.8 389.7 L325.8 389.9 L326.8 389.9 L327.8 389.5 L328.8 388.8 L329.8 387.7 L330.8 386.2 L331.8 384.4 L332.8 382.1 L333.8 379.6 L334.8 376.6 L335.8 373.3 L336.8 369.7 L337.8 365.8 L338.8 361.6 L339.8 357.2 L340.8 352.6 L341.8 347.8 L342.8 342.9 L343.8 337.9 L344.8 332.9 L345.8 327.9 L346.8 323 L347.8 318.1 L348.8 313.5 L349.8 309 L350.8 304.8 L351.8 300.8 L352.8 297.2 L353.8 294 L354.8 291.1 L355.8 288.7 L356.8 286.8 L357.8 285.3 L358.8 284.3 L359.8 283.8 L360.8 283.8 L361.8 284.3 L362.8 285.3 L363.8 286.8 L364.8 288.7 L365.8 291.1 L366.8 294 L367.8 297.2 L368.8 300.8 L369.8 304.8 L370.8 309 L371.8 313.5 L372.8 318.1 L373.8 323 L374.8 327.9 L375.8 332.9 L376.8 337.9 L377.8 342.9 L378.8 347.8 L379.8 352.6 L380.8 357.2 L381.8 361.6 L382.8 365.8 L383.8 369.7 L384.8 373.3 L385.8 376.6 L386.8 379.6 L387.8 382.1 L388.8 384.4 L389.8 386.2 L390.8 387.7 L391.8 388.8 L392.8 389.5 L393.8 389.9 L394.8 389.9 L395.8 389.7 L396.8 389.1 L397.8 388.2 L398.8 387.1 L399.8 385.8 L400.8 384.3 L401.8 382.6 L402.8 380.9 L403.8 379 L404.8 377.1 L405.8 375.2 L406.8 373.2 L407.8 371.4 L408.8 369.6 L409.8 367.9 L410.8 366.3 L411.8 364.8 L412.8 363.5 L413.8 362.4 L414.8 361.5 L415.8 360.8 L416.8 360.2 L417.8 359.9 L418.8 359.8 L419.8 359.9 L420.8 360.1 L421.8 360.6 L422.8 361.1 L423.8 361.9 L424.8 362.8 L425.8 363.8 L426.8 364.8 L427.8 366 L428.8 367.2 L429.8 368.5 L430.8 369.7 L431.8 370.9 L432.8 372.1 L433.8 373.3 L434.8 374.4 L435.8 375.4 L436.8 376.3 L437.8 377 L438.8 377.7 L439.8 378.2 L440.8 378.6 L441.8 378.9 L442.8 379 L443.8 378.9 L444.8 378.8 L445.8 378.5 L446.8 378.1 L447.8 377.5 L448.8 376.9 L449.8 376.2 L450.8 375.4 L451.8 374.6 L452.8 373.7 L453.8 372.8 L454.8 371.8 L455.8 370.9 L456.8 370 L457.8 369.1 L458.8 368.3 L459.8 367.6 L460.8 366.9 L461.8 366.3 L462.8 365.8 L463.8 365.4 L464.8 365.1 L465.8 364.9 L466.8 364.8 L467.8 364.8 L468.8 365 L469.8 365.2 L470.8 365.5 L471.8 365.9 L472.8 366.4 L473.8 367 L474.8 367.6 L475.8 368.3 L476.8 369 L477.8 369.7 L478.8 370.4 L479.8 371.2 L480.8 371.9 L481.8 372.6 L482.8 373.2 L483.8 373.8 L484.8 374.4 L485.8 374.9 L486.8 375.3 L487.8 375.6 L488.8 375.8 L489.8 376 L490.8 376.1 L491.8 376 L492.8 375.9 L493.8 375.7 L494.8 375.5 L495.8 375.1 L496.8 374.7 L497.8 374.2 L498.8 373.7 L499.8 373.2 L500.8 372.6 L501.8 372 L502.8 371.4 L503.8 370.8 L504.8 370.2 L505.8 369.6 L506.8 369 L507.8 368.5 L508.8 368.1 L509.8 367.7 L510.8 367.4 L511.8 367.1 L512.8 366.9 L513.8 366.8 L514.8 366.7 L515.8 366.7 L516.8 366.8 L517.8 367 L518.8 367.2 L519.8 367.5 L520.8 367.9 L521.8 368.3 L522.8 368.7 L523.8 369.2 L524.8 369.7 L525.8 370.2 L526.8 370.8 L527.7 371.3 L528.7 371.8 L529.7 372.3 L530.7 372.8 L531.7 373.2 L532.7 373.6 L533.7 373.9 L534.7 374.2 L535.7 374.4 L536.7 374.6 L537.7 374.7 L538.7 374.7 L539.7 374.7 L540.7 374.6 L541.7 374.4 L542.7 374.2 L543.7 374 L544.7 373.7 L545.7 373.3 L546.7 372.9 L547.7 372.5 L548.7 372 L549.7 371.6 L550.7 371.1 L551.7 370.7 L552.7 370.2 L553.7 369.8 L554.7 369.4 L555.7 369 L556.7 368.7 L557.7 368.4 L558.7 368.2 L559.7 368 L560.7 367.8 L561.7 367.8 L562.7 367.7 L563.7 367.8 L564.7 367.8 L565.7 368 L566.7 368.2 L567.7 368.4 L568.7 368.7 L569.7 369 L570.7 369.4 L571.7 369.7 L572.7 370.1 L573.7 370.5 L574.7 370.9 L575.7 371.3 L576.7 371.7 L577.7 372.1 L578.7 372.5 L579.7 372.8 L580.7 373.1 L581.7 373.3 L582.7 373.6 L583.7 373.7 L584.7 373.8 L585.7 373.9 L586.7 373.9 L587.7 373.9 L588.7 373.8 L589.7 373.7 L590.7 373.5 L591.7 373.3 L592.7 373 L593.7 372.7 L594.7 372.4 L595.7 372.1 L596.7 371.7 L597.7 371.4 L598.7 371" stroke="#217dd2" stroke-width="1.7" stroke-dasharray="1.7 1.5" fill="none"/>
<path d="M145.8 371 L146.8 371.4 L147.8 371.7 L148.8 372.1 L149.8 372.4 L150.8 372.7 L151.8 373 L152.8 373.2 L153.8 373.5 L154.8 373.6 L155.8 373.8 L156.8 373.8 L157.8 373.9 L158.8 373.9 L159.8 373.8 L160.8 373.7 L161.8 373.5 L162.8 373.3 L163.8 373.1 L164.8 372.8 L165.8 372.4 L166.8 372.1 L167.8 371.7 L168.8 371.3 L169.7 370.9 L170.7 370.5 L171.7 370.1 L172.7 369.8 L173.7 369.4 L174.7 369.1 L175.7 368.7 L176.7 368.5 L177.7 368.2 L178.7 368 L179.7 367.9 L180.7 367.8 L181.7 367.8 L182.7 367.8 L183.7 367.9 L184.7 368 L185.7 368.2 L186.7 368.5 L187.7 368.7 L188.7 369.1 L189.7 369.4 L190.7 369.8 L191.7 370.3 L192.7 370.7 L193.7 371.1 L194.7 371.6 L195.7 372 L196.7 372.5 L197.7 372.9 L198.7 373.3 L199.7 373.6 L200.7 373.9 L201.7 374.2 L202.7 374.4 L203.7 374.5 L204.7 374.6 L205.7 374.6 L206.7 374.6 L207.7 374.5 L208.7 374.3 L209.7 374.1 L210.7 373.8 L211.7 373.5 L212.7 373.1 L213.7 372.7 L214.7 372.3 L215.7 371.8 L216.7 371.3 L217.7 370.8 L218.7 370.3 L219.7 369.7 L220.7 369.3 L221.7 368.8 L222.7 368.4 L223.7 368 L224.7 367.6 L225.7 367.3 L226.7 367.1 L227.7 366.9 L228.7 366.8 L229.7 366.8 L230.7 366.9 L231.7 367 L232.7 367.2 L233.7 367.4 L234.7 367.8 L235.7 368.1 L236.7 368.6 L237.7 369.1 L238.7 369.6 L239.7 370.2 L240.7 370.8 L241.7 371.4 L242.7 372 L243.7 372.6 L244.7 373.1 L245.7 373.7 L246.7 374.2 L247.7 374.6 L248.7 375 L249.7 375.4 L250.7 375.6 L251.7 375.8 L252.7 375.9 L253.7 376 L254.7 375.9 L255.7 375.7 L256.7 375.5 L257.7 375.2 L258.7 374.8 L259.7 374.3 L260.7 373.8 L261.7 373.2 L262.7 372.6 L263.7 371.9 L264.7 371.2 L265.7 370.5 L266.7 369.7 L267.7 369 L268.7 368.3 L269.7 367.7 L270.7 367.1 L271.7 366.5 L272.7 366 L273.7 365.6 L274.7 365.3 L275.7 365.1 L276.7 365 L277.7 364.9 L278.7 365 L279.7 365.2 L280.7 365.5 L281.7 365.9 L282.7 366.4 L283.7 367 L284.7 367.6 L285.7 368.4 L286.7 369.2 L287.7 370 L288.7 370.9 L289.7 371.8 L290.7 372.7 L291.7 373.6 L292.7 374.5 L293.7 375.3 L294.7 376.1 L295.7 376.8 L296.7 377.4 L297.7 377.9 L298.7 378.3 L299.7 378.6 L300.7 378.8 L301.7 378.8 L302.7 378.7 L303.7 378.5 L304.7 378.1 L305.7 377.6 L306.7 376.9 L307.7 376.2 L308.7 375.3 L309.7 374.3 L310.7 373.2 L311.7 372.1 L312.7 370.9 L313.7 369.7 L314.7 368.5 L315.7 367.3 L316.7 366.1 L317.7 365 L318.7 363.9 L319.7 362.9 L320.7 362.1 L321.7 361.3 L322.7 360.8 L323.7 360.3 L324.7 360.1 L325.7 360 L326.7 360.1 L327.7 360.5 L328.7 361 L329.7 361.7 L330.7 362.6 L331.7 363.7 L332.7 364.9 L333.7 366.4 L334.7 367.9 L335.7 369.6 L336.7 371.4 L337.7 373.2 L338.7 375.1 L339.7 377 L340.7 378.8 L341.7 380.7 L342.7 382.4 L343.7 384 L344.7 385.5 L345.7 386.8 L346.7 387.9 L347.7 388.7 L348.7 389.3 L349.7 389.6 L350.7 389.5 L351.7 389.2 L352.7 388.4 L353.7 387.4 L354.7 385.9 L355.7 384.1 L356.7 381.9 L357.7 379.4 L358.7 376.5 L359.7 373.3 L360.7 369.7 L361.7 365.9 L362.7 361.8 L363.7 357.5 L364.7 352.9 L365.7 348.2 L366.7 343.4 L367.7 338.6 L368.7 333.6 L369.7 328.7 L370.7 323.9 L371.7 319.2 L372.7 314.6 L373.7 310.2 L374.7 306.1 L375.7 302.2 L376.7 298.7 L377.7 295.5 L378.7 292.7 L379.7 290.3 L380.7 288.4 L381.7 286.9 L382.7 286 L383.7 285.5 L384.7 285.5 L385.7 286 L386.7 286.9 L387.7 288.4 L388.7 290.3 L389.7 292.7 L390.7 295.5 L391.7 298.7 L392.7 302.2 L393.7 306.1 L394.7 310.2 L395.7 314.6 L396.7 319.2 L397.7 323.9 L398.7 328.7 L399.7 333.6 L400.7 338.6 L401.7 343.4 L402.7 348.2 L403.7 352.9 L404.7 357.5 L405.7 361.8 L406.7 365.9 L407.7 369.7 L408.6 373.3 L409.6 376.5 L410.6 379.4 L411.6 381.9 L412.6 384.1 L413.6 385.9 L414.6 387.4 L415.6 388.4 L416.6 389.2 L417.6 389.5 L418.6 389.6 L419.6 389.3 L420.6 388.7 L421.6 387.9 L422.6 386.8 L423.6 385.5 L424.6 384 L425.6 382.4 L426.6 380.7 L427.6 378.8 L428.6 377 L429.6 375.1 L430.6 373.2 L431.6 371.4 L432.6 369.6 L433.6 367.9 L434.6 366.4 L435.6 364.9 L436.6 363.7 L437.6 362.6 L438.6 361.7 L439.6 361 L440.6 360.5 L441.6 360.1 L442.6 360 L443.6 360.1 L444.6 360.3 L445.6 360.8 L446.6 361.3 L447.6 362.1 L448.6 362.9 L449.6 363.9 L450.6 365 L451.6 366.1 L452.6 367.3 L453.6 368.5 L454.6 369.7 L455.6 370.9 L456.6 372.1 L457.6 373.2 L458.6 374.3 L459.6 375.3 L460.6 376.2 L461.6 376.9 L462.6 377.6 L463.6 378.1 L464.6 378.5 L465.6 378.7 L466.6 378.8 L467.6 378.8 L468.6 378.6 L469.6 378.3 L470.6 377.9 L471.6 377.4 L472.6 376.8 L473.6 376.1 L474.6 375.3 L475.6 374.5 L476.6 373.6 L477.6 372.7 L478.6 371.8 L479.6 370.9 L480.6 370 L481.6 369.2 L482.6 368.4 L483.6 367.6 L484.6 367 L485.6 366.4 L486.6 365.9 L487.6 365.5 L488.6 365.2 L489.6 365 L490.6 364.9 L491.6 365 L492.6 365.1 L493.6 365.3 L494.6 365.6 L495.6 366 L496.6 366.5 L497.6 367.1 L498.6 367.7 L499.6 368.3 L500.6 369 L501.6 369.7 L502.6 370.5 L503.6 371.2 L504.6 371.9 L505.6 372.6 L506.6 373.2 L507.6 373.8 L508.6 374.3 L509.6 374.8 L510.6 375.2 L511.6 375.5 L512.6 375.7 L513.6 375.9 L514.6 376 L515.6 375.9 L516.6 375.8 L517.6 375.6 L518.6 375.4 L519.6 375 L520.6 374.6 L521.6 374.2 L522.6 373.7 L523.6 373.1 L524.6 372.6 L525.6 372 L526.6 371.4 L527.6 370.8 L528.6 370.2 L529.6 369.6 L530.6 369.1 L531.6 368.6 L532.6 368.1 L533.6 367.8 L534.6 367.4 L535.6 367.2 L536.6 367 L537.6 366.9 L538.6 366.8 L539.6 366.8 L540.6 366.9 L541.6 367.1 L542.6 367.3 L543.6 367.6 L544.6 368 L545.6 368.4 L546.6 368.8 L547.6 369.3 L548.6 369.7 L549.6 370.3 L550.6 370.8 L551.6 371.3 L552.6 371.8 L553.6 372.3 L554.6 372.7 L555.6 373.1 L556.6 373.5 L557.6 373.8 L558.6 374.1 L559.6 374.3 L560.6 374.5 L561.6 374.6 L562.6 374.6 L563.6 374.6 L564.6 374.5 L565.6 374.4 L566.6 374.2 L567.6 373.9 L568.6 373.6 L569.6 373.3 L570.6 372.9 L571.6 372.5 L572.6 372 L573.6 371.6 L574.6 371.1 L575.6 370.7 L576.6 370.3 L577.6 369.8 L578.6 369.4 L579.6 369.1 L580.6 368.7 L581.6 368.5 L582.6 368.2 L583.6 368 L584.6 367.9 L585.6 367.8 L586.6 367.8 L587.6 367.8 L588.6 367.9 L589.6 368 L590.6 368.2 L591.6 368.5 L592.6 368.7 L593.6 369.1 L594.6 369.4 L595.6 369.8 L596.6 370.1 L597.6 370.5 L598.6 370.9 L599.6 371.3 L600.6 371.7 L601.6 372.1 L602.6 372.4 L603.6 372.8 L604.6 373.1 L605.6 373.3 L606.6 373.5 L607.6 373.7 L608.6 373.8 L609.6 373.9 L610.6 373.9 L611.6 373.8 L612.6 373.8 L613.6 373.6 L614.6 373.5 L615.6 373.2 L616.6 373 L617.6 372.7 L618.6 372.4 L619.6 372.1 L620.6 371.7 L621.6 371.4 L622.6 371" stroke="#217dd2" stroke-width="1.7" stroke-dasharray="1.7 1.5" fill="none"/>
<path d="M169.6 371 L170.6 371.4 L171.6 371.8 L172.6 372.2 L173.6 372.5 L174.6 372.9 L175.6 373.2 L176.6 373.5 L177.6 373.7 L178.6 373.9 L179.6 374 L180.6 374.1 L181.6 374.2 L182.6 374.1 L183.6 374.1 L184.6 373.9 L185.6 373.8 L186.6 373.5 L187.6 373.3 L188.6 372.9 L189.6 372.6 L190.6 372.2 L191.6 371.8 L192.6 371.4 L193.6 370.9 L194.6 370.5 L195.6 370.1 L196.6 369.6 L197.6 369.2 L198.6 368.9 L199.6 368.5 L200.6 368.2 L201.6 368 L202.6 367.7 L203.6 367.6 L204.6 367.5 L205.6 367.5 L206.6 367.5 L207.6 367.6 L208.6 367.7 L209.6 367.9 L210.6 368.2 L211.6 368.5 L212.6 368.9 L213.6 369.3 L214.6 369.7 L215.6 370.2 L216.6 370.7 L217.6 371.1 L218.6 371.6 L219.6 372.1 L220.6 372.6 L221.6 373.1 L222.6 373.5 L223.6 373.9 L224.6 374.2 L225.6 374.5 L226.6 374.7 L227.6 374.9 L228.6 375 L229.6 375 L230.6 375 L231.6 374.9 L232.6 374.7 L233.6 374.4 L234.6 374.1 L235.6 373.8 L236.6 373.4 L237.6 372.9 L238.6 372.4 L239.6 371.9 L240.6 371.3 L241.6 370.7 L242.6 370.2 L243.6 369.6 L244.6 369.1 L245.6 368.6 L246.6 368.1 L247.6 367.7 L248.6 367.3 L249.6 366.9 L250.6 366.7 L251.6 366.5 L252.6 366.4 L253.6 366.4 L254.6 366.4 L255.6 366.6 L256.6 366.8 L257.6 367.1 L258.6 367.4 L259.6 367.9 L260.6 368.3 L261.6 368.9 L262.6 369.5 L263.6 370.1 L264.6 370.7 L265.6 371.4 L266.6 372.1 L267.6 372.7 L268.6 373.3 L269.6 373.9 L270.6 374.5 L271.6 375 L272.6 375.4 L273.6 375.8 L274.6 376.1 L275.6 376.3 L276.6 376.4 L277.6 376.5 L278.6 376.4 L279.6 376.2 L280.6 376 L281.6 375.6 L282.6 375.2 L283.6 374.7 L284.6 374.1 L285.6 373.4 L286.6 372.7 L287.6 372 L288.6 371.2 L289.5 370.4 L290.5 369.6 L291.5 368.8 L292.5 368.1 L293.5 367.3 L294.5 366.7 L295.5 366.1 L296.5 365.5 L297.5 365.1 L298.5 364.7 L299.5 364.5 L300.5 364.3 L301.5 364.3 L302.5 364.4 L303.5 364.6 L304.5 364.9 L305.5 365.4 L306.5 365.9 L307.5 366.6 L308.5 367.3 L309.5 368.1 L310.5 369 L311.5 369.9 L312.5 370.9 L313.5 371.9 L314.5 372.9 L315.5 373.9 L316.5 374.8 L317.5 375.8 L318.5 376.6 L319.5 377.4 L320.5 378.1 L321.5 378.6 L322.5 379.1 L323.5 379.4 L324.5 379.6 L325.5 379.6 L326.5 379.5 L327.5 379.2 L328.5 378.8 L329.5 378.2 L330.5 377.5 L331.5 376.7 L332.5 375.7 L333.5 374.6 L334.5 373.5 L335.5 372.2 L336.5 370.9 L337.5 369.6 L338.5 368.3 L339.5 366.9 L340.5 365.6 L341.5 364.4 L342.5 363.2 L343.5 362.1 L344.5 361.2 L345.5 360.4 L346.5 359.7 L347.5 359.2 L348.5 359 L349.5 358.9 L350.5 359 L351.5 359.4 L352.5 360 L353.5 360.7 L354.5 361.7 L355.5 362.9 L356.5 364.3 L357.5 365.9 L358.5 367.6 L359.5 369.4 L360.5 371.4 L361.5 373.4 L362.5 375.5 L363.5 377.6 L364.5 379.6 L365.5 381.7 L366.5 383.6 L367.5 385.4 L368.5 387 L369.5 388.4 L370.5 389.6 L371.5 390.5 L372.5 391.2 L373.5 391.5 L374.5 391.4 L375.5 391 L376.5 390.2 L377.5 389 L378.5 387.4 L379.5 385.4 L380.5 383 L381.5 380.2 L382.5 377.1 L383.5 373.5 L384.5 369.6 L385.5 365.4 L386.5 360.9 L387.5 356.1 L388.5 351.1 L389.5 345.9 L390.5 340.6 L391.5 335.3 L392.5 329.8 L393.5 324.4 L394.5 319.1 L395.5 313.9 L396.5 308.8 L397.5 304 L398.5 299.5 L399.5 295.2 L400.5 291.3 L401.5 287.8 L402.5 284.7 L403.5 282.1 L404.5 280 L405.5 278.4 L406.5 277.3 L407.5 276.8 L408.5 276.8 L409.5 277.3 L410.5 278.4 L411.5 280 L412.5 282.1 L413.5 284.7 L414.5 287.8 L415.5 291.3 L416.5 295.2 L417.5 299.5 L418.5 304 L419.5 308.8 L420.5 313.9 L421.5 319.1 L422.5 324.4 L423.5 329.8 L424.5 335.3 L425.5 340.6 L426.5 345.9 L427.5 351.1 L428.5 356.1 L429.5 360.9 L430.5 365.4 L431.5 369.6 L432.5 373.5 L433.5 377.1 L434.5 380.2 L435.5 383 L436.5 385.4 L437.5 387.4 L438.5 389 L439.5 390.2 L440.5 391 L441.5 391.4 L442.5 391.5 L443.5 391.2 L444.5 390.5 L445.5 389.6 L446.5 388.4 L447.5 387 L448.5 385.4 L449.5 383.6 L450.5 381.7 L451.5 379.6 L452.5 377.6 L453.5 375.5 L454.5 373.4 L455.5 371.4 L456.5 369.4 L457.5 367.6 L458.5 365.9 L459.5 364.3 L460.5 362.9 L461.5 361.7 L462.5 360.7 L463.5 360 L464.5 359.4 L465.5 359 L466.5 358.9 L467.5 359 L468.5 359.2 L469.5 359.7 L470.5 360.4 L471.5 361.2 L472.5 362.1 L473.5 363.2 L474.5 364.4 L475.5 365.6 L476.5 366.9 L477.5 368.3 L478.5 369.6 L479.5 370.9 L480.5 372.2 L481.5 373.5 L482.5 374.6 L483.5 375.7 L484.5 376.7 L485.5 377.5 L486.5 378.2 L487.5 378.8 L488.5 379.2 L489.5 379.5 L490.5 379.6 L491.5 379.6 L492.5 379.4 L493.5 379.1 L494.5 378.6 L495.5 378.1 L496.5 377.4 L497.5 376.6 L498.5 375.8 L499.5 374.8 L500.5 373.9 L501.5 372.9 L502.5 371.9 L503.5 370.9 L504.5 369.9 L505.5 369 L506.5 368.1 L507.5 367.3 L508.5 366.6 L509.5 365.9 L510.5 365.4 L511.5 364.9 L512.5 364.6 L513.5 364.4 L514.5 364.3 L515.5 364.3 L516.5 364.5 L517.5 364.7 L518.5 365.1 L519.5 365.5 L520.5 366.1 L521.5 366.7 L522.5 367.3 L523.5 368.1 L524.5 368.8 L525.5 369.6 L526.5 370.4 L527.4 371.2 L528.4 372 L529.4 372.7 L530.4 373.4 L531.4 374.1 L532.4 374.7 L533.4 375.2 L534.4 375.6 L535.4 376 L536.4 376.2 L537.4 376.4 L538.4 376.5 L539.4 376.4 L540.4 376.3 L541.4 376.1 L542.4 375.8 L543.4 375.4 L544.4 375 L545.4 374.5 L546.4 373.9 L547.4 373.3 L548.4 372.7 L549.4 372.1 L550.4 371.4 L551.4 370.7 L552.4 370.1 L553.4 369.5 L554.4 368.9 L555.4 368.3 L556.4 367.9 L557.4 367.4 L558.4 367.1 L559.4 366.8 L560.4 366.6 L561.4 366.4 L562.4 366.4 L563.4 366.4 L564.4 366.5 L565.4 366.7 L566.4 366.9 L567.4 367.3 L568.4 367.7 L569.4 368.1 L570.4 368.6 L571.4 369.1 L572.4 369.6 L573.4 370.2 L574.4 370.7 L575.4 371.3 L576.4 371.9 L577.4 372.4 L578.4 372.9 L579.4 373.4 L580.4 373.8 L581.4 374.1 L582.4 374.4 L583.4 374.7 L584.4 374.9 L585.4 375 L586.4 375 L587.4 375 L588.4 374.9 L589.4 374.7 L590.4 374.5 L591.4 374.2 L592.4 373.9 L593.4 373.5 L594.4 373.1 L595.4 372.6 L596.4 372.1 L597.4 371.6 L598.4 371.1 L599.4 370.7 L600.4 370.2 L601.4 369.7 L602.4 369.3 L603.4 368.9 L604.4 368.5 L605.4 368.2 L606.4 367.9 L607.4 367.7 L608.4 367.6 L609.4 367.5 L610.4 367.5 L611.4 367.5 L612.4 367.6 L613.4 367.7 L614.4 368 L615.4 368.2 L616.4 368.5 L617.4 368.9 L618.4 369.2 L619.4 369.6 L620.4 370.1 L621.4 370.5 L622.4 370.9 L623.4 371.4 L624.4 371.8 L625.4 372.2 L626.4 372.6 L627.4 372.9 L628.4 373.3 L629.4 373.5 L630.4 373.8 L631.4 373.9 L632.4 374.1 L633.4 374.1 L634.4 374.2 L635.4 374.1 L636.4 374 L637.4 373.9 L638.4 373.7 L639.4 373.5 L640.4 373.2 L641.4 372.9 L642.4 372.5 L643.4 372.2 L644.4 371.8 L645.4 371.4 L646.4 371" stroke="#217dd2" stroke-width="1.7" stroke-dasharray="1.7 1.5" fill="none"/>
<path d="M193.4 371 L194.4 371.5 L195.4 371.9 L196.4 372.4 L197.4 372.8 L198.4 373.2 L199.4 373.6 L200.4 373.9 L201.4 374.2 L202.4 374.4 L203.4 374.6 L204.4 374.7 L205.4 374.7 L206.4 374.7 L207.4 374.6 L208.4 374.5 L209.4 374.3 L210.4 374 L211.4 373.7 L212.4 373.3 L213.4 372.9 L214.4 372.4 L215.4 371.9 L216.4 371.4 L217.4 370.9 L218.4 370.4 L219.4 369.9 L220.4 369.4 L221.4 368.9 L222.4 368.5 L223.4 368.1 L224.4 367.7 L225.4 367.4 L226.4 367.2 L227.4 367 L228.4 366.9 L229.4 366.8 L230.4 366.9 L231.4 367 L232.4 367.1 L233.4 367.4 L234.4 367.7 L235.4 368.1 L236.4 368.5 L237.4 369 L238.4 369.5 L239.4 370 L240.4 370.6 L241.4 371.2 L242.4 371.7 L243.4 372.3 L244.4 372.9 L245.4 373.4 L246.4 373.9 L247.4 374.4 L248.4 374.8 L249.4 375.1 L250.4 375.4 L251.4 375.6 L252.4 375.7 L253.4 375.7 L254.4 375.7 L255.4 375.5 L256.4 375.3 L257.4 375.1 L258.4 374.7 L259.4 374.3 L260.4 373.8 L261.4 373.2 L262.4 372.7 L263.4 372 L264.4 371.4 L265.4 370.7 L266.4 370.1 L267.4 369.4 L268.4 368.8 L269.4 368.2 L270.4 367.6 L271.4 367.1 L272.4 366.6 L273.4 366.2 L274.4 365.9 L275.4 365.7 L276.4 365.6 L277.4 365.6 L278.4 365.6 L279.4 365.8 L280.4 366 L281.4 366.3 L282.4 366.8 L283.4 367.3 L284.4 367.8 L285.4 368.5 L286.4 369.2 L287.4 369.9 L288.4 370.7 L289.3 371.4 L290.3 372.2 L291.3 373 L292.3 373.7 L293.3 374.4 L294.3 375.1 L295.3 375.7 L296.3 376.2 L297.3 376.7 L298.3 377 L299.3 377.3 L300.3 377.4 L301.3 377.4 L302.3 377.4 L303.3 377.2 L304.3 376.9 L305.3 376.5 L306.3 376 L307.3 375.4 L308.3 374.7 L309.3 373.9 L310.3 373.1 L311.3 372.2 L312.3 371.3 L313.3 370.4 L314.3 369.4 L315.3 368.5 L316.3 367.6 L317.3 366.7 L318.3 365.9 L319.3 365.2 L320.3 364.6 L321.3 364.1 L322.3 363.6 L323.3 363.3 L324.3 363.2 L325.3 363.1 L326.3 363.2 L327.3 363.5 L328.3 363.8 L329.3 364.3 L330.3 365 L331.3 365.7 L332.3 366.6 L333.3 367.5 L334.3 368.6 L335.3 369.7 L336.3 370.8 L337.3 372 L338.3 373.1 L339.3 374.3 L340.3 375.4 L341.3 376.5 L342.3 377.5 L343.3 378.4 L344.3 379.2 L345.3 379.9 L346.3 380.5 L347.3 380.9 L348.3 381.1 L349.3 381.1 L350.3 381 L351.3 380.7 L352.3 380.2 L353.3 379.6 L354.3 378.8 L355.3 377.8 L356.3 376.7 L357.3 375.4 L358.3 374 L359.3 372.6 L360.3 371.1 L361.3 369.5 L362.3 367.9 L363.3 366.3 L364.3 364.8 L365.3 363.3 L366.3 361.9 L367.3 360.6 L368.3 359.5 L369.3 358.6 L370.3 357.8 L371.3 357.2 L372.3 356.9 L373.3 356.8 L374.3 356.9 L375.3 357.3 L376.3 357.9 L377.3 358.8 L378.3 360 L379.3 361.4 L380.3 363 L381.3 364.8 L382.3 366.8 L383.3 369 L384.3 371.2 L385.3 373.6 L386.3 376 L387.3 378.5 L388.3 380.9 L389.3 383.3 L390.3 385.6 L391.3 387.7 L392.3 389.6 L393.3 391.3 L394.3 392.8 L395.2 393.9 L396.2 394.7 L397.2 395.1 L398.2 395.1 L399.2 394.6 L400.2 393.7 L401.2 392.4 L402.2 390.6 L403.2 388.3 L404.2 385.5 L405.2 382.3 L406.2 378.6 L407.2 374.4 L408.2 369.9 L409.2 365 L410.2 359.7 L411.2 354.1 L412.2 348.3 L413.2 342.2 L414.2 336 L415.2 329.7 L416.2 323.3 L417.2 316.9 L418.2 310.7 L419.2 304.5 L420.2 298.5 L421.2 292.8 L422.2 287.4 L423.2 282.4 L424.2 277.7 L425.2 273.5 L426.2 269.9 L427.2 266.7 L428.2 264.2 L429.2 262.2 L430.2 260.8 L431.2 260.1 L432.2 260 L433.2 260.6 L434.2 261.8 L435.2 263.6 L436.2 266 L437.2 269 L438.2 272.6 L439.2 276.6 L440.2 281.2 L441.2 286.1 L442.2 291.4 L443.2 297.1 L444.2 303 L445.2 309.1 L446.2 315.4 L447.2 321.7 L448.2 328.1 L449.2 334.4 L450.2 340.7 L451.2 346.8 L452.2 352.7 L453.2 358.3 L454.2 363.7 L455.2 368.7 L456.2 373.3 L457.2 377.6 L458.2 381.4 L459.2 384.7 L460.2 387.6 L461.2 390 L462.2 392 L463.2 393.5 L464.2 394.4 L465.2 395 L466.2 395.1 L467.2 394.8 L468.2 394.1 L469.2 393.1 L470.2 391.7 L471.2 390.1 L472.2 388.2 L473.2 386.1 L474.2 383.9 L475.2 381.5 L476.2 379.1 L477.2 376.7 L478.2 374.2 L479.2 371.8 L480.2 369.5 L481.2 367.3 L482.2 365.3 L483.2 363.4 L484.2 361.7 L485.2 360.3 L486.2 359.1 L487.2 358.1 L488.2 357.4 L489.2 357 L490.2 356.8 L491.2 356.8 L492.2 357.1 L493.2 357.6 L494.2 358.3 L495.2 359.3 L496.2 360.4 L497.2 361.6 L498.2 363 L499.2 364.4 L500.2 365.9 L501.1 367.5 L502.1 369.1 L503.1 370.7 L504.1 372.2 L505.1 373.7 L506.1 375.1 L507.1 376.3 L508.1 377.5 L509.1 378.5 L510.1 379.4 L511.1 380.1 L512.1 380.6 L513.1 381 L514.1 381.1 L515.1 381.1 L516.1 380.9 L517.1 380.6 L518.1 380.1 L519.1 379.4 L520.1 378.7 L521.1 377.8 L522.1 376.8 L523.1 375.7 L524.1 374.6 L525.1 373.4 L526.1 372.3 L527.1 371.1 L528.1 369.9 L529.1 368.8 L530.1 367.8 L531.1 366.8 L532.1 365.9 L533.1 365.2 L534.1 364.5 L535.1 364 L536.1 363.5 L537.1 363.3 L538.1 363.1 L539.1 363.1 L540.1 363.3 L541.1 363.6 L542.1 363.9 L543.1 364.5 L544.1 365.1 L545.1 365.8 L546.1 366.5 L547.1 367.4 L548.1 368.3 L549.1 369.2 L550.1 370.1 L551.1 371.1 L552.1 372 L553.1 372.9 L554.1 373.7 L555.1 374.5 L556.1 375.2 L557.1 375.8 L558.1 376.3 L559.1 376.8 L560.1 377.1 L561.1 377.3 L562.1 377.4 L563.1 377.4 L564.1 377.3 L565.1 377.1 L566.1 376.7 L567.1 376.3 L568.1 375.8 L569.1 375.2 L570.1 374.6 L571.1 373.9 L572.1 373.2 L573.1 372.4 L574.1 371.6 L575.1 370.8 L576.1 370.1 L577.1 369.3 L578.1 368.6 L579.1 368 L580.1 367.4 L581.1 366.9 L582.1 366.4 L583.1 366.1 L584.1 365.8 L585.1 365.6 L586.1 365.6 L587.1 365.6 L588.1 365.7 L589.1 365.9 L590.1 366.2 L591.1 366.5 L592.1 367 L593.1 367.5 L594.1 368 L595.1 368.6 L596.1 369.2 L597.1 369.9 L598.1 370.6 L599.1 371.2 L600.1 371.9 L601.1 372.5 L602.1 373.1 L603.1 373.7 L604.1 374.2 L605.1 374.6 L606.1 375 L607 375.3 L608 375.5 L609 375.6 L610 375.7 L611 375.7 L612 375.6 L613 375.4 L614 375.2 L615 374.8 L616 374.5 L617 374 L618 373.5 L619 373 L620 372.5 L621 371.9 L622 371.3 L623 370.7 L624 370.2 L625 369.6 L626 369.1 L627 368.6 L628 368.2 L629 367.8 L630 367.5 L631 367.2 L632 367 L633 366.9 L634 366.8 L635 366.9 L636 367 L637 367.1 L638 367.4 L639 367.6 L640 368 L641 368.4 L642 368.8 L643 369.3 L644 369.8 L645 370.3 L646 370.8 L647 371.3 L648 371.8 L649 372.3 L650 372.8 L651 373.2 L652 373.6 L653 373.9 L654 374.2 L655 374.4 L656 374.6 L657 374.7 L658 374.7 L659 374.7 L660 374.6" stroke="#217dd2" stroke-width="1.7" stroke-dasharray="1.7 1.5" fill="none"/>
<path d="M217.3 371 L218.3 371.6 L219.3 372.3 L220.3 372.9 L221.3 373.4 L222.3 374 L223.3 374.5 L224.3 374.9 L225.3 375.3 L226.3 375.6 L227.3 375.8 L228.3 376 L229.3 376 L230.3 376 L231.3 375.9 L232.3 375.7 L233.3 375.4 L234.3 375 L235.3 374.6 L236.3 374.1 L237.3 373.5 L238.3 372.9 L239.3 372.3 L240.3 371.6 L241.3 370.9 L242.3 370.2 L243.3 369.5 L244.3 368.8 L245.3 368.2 L246.3 367.6 L247.3 367.1 L248.3 366.6 L249.3 366.2 L250.3 365.8 L251.3 365.6 L252.3 365.4 L253.3 365.4 L254.3 365.4 L255.3 365.6 L256.3 365.8 L257.3 366.1 L258.3 366.5 L259.3 367 L260.3 367.6 L261.3 368.3 L262.3 368.9 L263.3 369.7 L264.3 370.4 L265.2 371.2 L266.2 372 L267.2 372.8 L268.2 373.5 L269.2 374.3 L270.2 374.9 L271.2 375.5 L272.2 376.1 L273.2 376.5 L274.2 376.9 L275.2 377.2 L276.2 377.3 L277.2 377.4 L278.2 377.3 L279.2 377.1 L280.2 376.9 L281.2 376.5 L282.2 376 L283.2 375.4 L284.2 374.8 L285.2 374 L286.2 373.2 L287.2 372.4 L288.2 371.5 L289.2 370.6 L290.2 369.7 L291.2 368.8 L292.2 368 L293.2 367.1 L294.2 366.4 L295.2 365.7 L296.2 365.1 L297.2 364.6 L298.2 364.2 L299.2 363.9 L300.2 363.7 L301.2 363.7 L302.2 363.7 L303.2 363.9 L304.2 364.3 L305.2 364.7 L306.2 365.3 L307.2 366 L308.2 366.8 L309.2 367.6 L310.2 368.6 L311.2 369.5 L312.2 370.6 L313.2 371.6 L314.2 372.7 L315.2 373.7 L316.2 374.7 L317.2 375.7 L318.2 376.5 L319.2 377.3 L320.2 378.1 L321.2 378.6 L322.2 379.1 L323.2 379.4 L324.2 379.6 L325.2 379.7 L326.2 379.6 L327.2 379.3 L328.2 378.9 L329.2 378.4 L330.2 377.7 L331.2 376.8 L332.2 375.9 L333.2 374.9 L334.2 373.8 L335.2 372.6 L336.2 371.3 L337.2 370.1 L338.2 368.8 L339.2 367.6 L340.2 366.4 L341.2 365.2 L342.2 364.1 L343.2 363.2 L344.2 362.3 L345.2 361.6 L346.2 361.1 L347.2 360.7 L348.2 360.4 L349.2 360.4 L350.2 360.5 L351.2 360.9 L352.2 361.4 L353.2 362 L354.2 362.9 L355.2 363.9 L356.2 365.1 L357.2 366.4 L358.2 367.8 L359.2 369.3 L360.2 370.8 L361.2 372.4 L362.2 374 L363.2 375.5 L364.2 377.1 L365.2 378.5 L366.2 379.9 L367.2 381.1 L368.2 382.2 L369.2 383.1 L370.2 383.8 L371.2 384.3 L372.2 384.6 L373.2 384.7 L374.2 384.5 L375.2 384.1 L376.2 383.4 L377.2 382.5 L378.2 381.4 L379.2 380.1 L380.2 378.5 L381.2 376.8 L382.2 375 L383.2 373 L384.2 371 L385.2 368.9 L386.2 366.7 L387.2 364.6 L388.2 362.5 L389.2 360.5 L390.2 358.6 L391.2 356.9 L392.2 355.4 L393.2 354.1 L394.2 353.1 L395.2 352.4 L396.2 351.9 L397.2 351.8 L398.2 352 L399.2 352.5 L400.2 353.4 L401.2 354.7 L402.2 356.2 L403.2 358.1 L404.2 360.3 L405.2 362.8 L406.2 365.5 L407.2 368.4 L408.2 371.5 L409.2 374.7 L410.2 378 L411.2 381.3 L412.2 384.6 L413.2 387.8 L414.2 390.8 L415.2 393.7 L416.2 396.3 L417.2 398.6 L418.2 400.5 L419.2 402 L420.2 403 L421.2 403.5 L422.2 403.4 L423.1 402.8 L424.1 401.6 L425.1 399.7 L426.1 397.2 L427.1 394.1 L428.1 390.3 L429.1 385.9 L430.1 380.9 L431.1 375.2 L432.1 369.1 L433.1 362.4 L434.1 355.2 L435.1 347.7 L436.1 339.8 L437.1 331.6 L438.1 323.2 L439.1 314.6 L440.1 306 L441.1 297.4 L442.1 289 L443.1 280.7 L444.1 272.6 L445.1 265 L446.1 257.7 L447.1 250.9 L448.1 244.7 L449.1 239.1 L450.1 234.2 L451.1 230 L452.1 226.6 L453.1 224 L454.1 222.2 L455.1 221.3 L456.1 221.3 L457.1 222.1 L458.1 223.8 L459.1 226.3 L460.1 229.6 L461.1 233.7 L462.1 238.6 L463.1 244.1 L464.1 250.3 L465.1 257 L466.1 264.2 L467.1 271.8 L468.1 279.8 L469.1 288.1 L470.1 296.6 L471.1 305.2 L472.1 313.8 L473.1 322.3 L474.1 330.7 L475.1 338.9 L476.1 346.9 L477.1 354.5 L478.1 361.7 L479.1 368.4 L480.1 374.6 L481.1 380.3 L482.1 385.4 L483.1 389.9 L484.1 393.7 L485.1 397 L486.1 399.5 L487.1 401.4 L488.1 402.7 L489.1 403.4 L490.1 403.5 L491.1 403.1 L492.1 402.1 L493.1 400.6 L494.1 398.8 L495.1 396.5 L496.1 394 L497.1 391.1 L498.1 388.1 L499.1 384.9 L500.1 381.7 L501.1 378.3 L502.1 375 L503.1 371.8 L504.1 368.7 L505.1 365.8 L506.1 363 L507.1 360.5 L508.1 358.3 L509.1 356.4 L510.1 354.8 L511.1 353.5 L512.1 352.6 L513.1 352 L514.1 351.8 L515.1 351.9 L516.1 352.3 L517.1 353 L518.1 354 L519.1 355.3 L520.1 356.8 L521.1 358.5 L522.1 360.3 L523.1 362.3 L524.1 364.4 L525.1 366.5 L526.1 368.6 L527.1 370.8 L528.1 372.8 L529.1 374.8 L530.1 376.7 L531.1 378.4 L532.1 379.9 L533.1 381.3 L534.1 382.4 L535.1 383.3 L536.1 384 L537.1 384.5 L538.1 384.7 L539.1 384.6 L540.1 384.4 L541.1 383.9 L542.1 383.2 L543.1 382.3 L544.1 381.2 L545.1 380 L546.1 378.7 L547.1 377.2 L548.1 375.7 L549.1 374.1 L550.1 372.5 L551.1 371 L552.1 369.4 L553.1 367.9 L554.1 366.5 L555.1 365.2 L556.1 364 L557.1 363 L558.1 362.1 L559.1 361.4 L560.1 360.9 L561.1 360.5 L562.1 360.4 L563.1 360.4 L564.1 360.6 L565.1 361 L566.1 361.5 L567.1 362.2 L568.1 363.1 L569.1 364 L570.1 365.1 L571.1 366.2 L572.1 367.4 L573.1 368.7 L574.1 370 L575.1 371.2 L576.1 372.5 L577.1 373.6 L578.1 374.8 L579.1 375.8 L580.1 376.8 L581 377.6 L582 378.3 L583 378.9 L584 379.3 L585 379.6 L586 379.7 L587 379.6 L588 379.5 L589 379.2 L590 378.7 L591 378.1 L592 377.4 L593 376.6 L594 375.8 L595 374.8 L596 373.8 L597 372.8 L598 371.7 L599 370.7 L600 369.6 L601 368.6 L602 367.7 L603 366.8 L604 366.1 L605 365.4 L606 364.8 L607 364.3 L608 364 L609 363.8 L610 363.7 L611 363.7 L612 363.9 L613 364.1 L614 364.5 L615 365 L616 365.6 L617 366.3 L618 367.1 L619 367.9 L620 368.7 L621 369.6 L622 370.5 L623 371.4 L624 372.3 L625 373.1 L626 373.9 L627 374.7 L628 375.3 L629 375.9 L630 376.4 L631 376.8 L632 377.1 L633 377.3 L634 377.4 L635 377.3 L636 377.2 L637 376.9 L638 376.6 L639 376.1 L640 375.6 L641 375 L642 374.3 L643 373.6 L644 372.9 L645 372.1 L646 371.3 L647 370.5 L648 369.8 L649 369 L650 368.3 L651 367.7 L652 367.1 L653 366.6 L654 366.2 L655 365.8 L656 365.6 L657 365.4 L658 365.4 L659 365.4 L660 365.6" stroke="#217dd2" stroke-width="1.7" stroke-dasharray="1.7 1.5" fill="none"/>
<path d="M241.1 371 L242.1 371.6 L243.1 372.3 L244.1 372.9 L245.1 373.5 L246.1 374 L247.1 374.5 L248.1 375 L249.1 375.3 L250.1 375.6 L251.1 375.9 L252.1 376 L253.1 376.1 L254.1 376.1 L255.1 375.9 L256.1 375.7 L257.1 375.4 L258.1 375.1 L259.1 374.6 L260.1 374.1 L261.1 373.6 L262.1 372.9 L263.1 372.3 L264.1 371.6 L265.1 370.9 L266.1 370.2 L267.1 369.5 L268.1 368.8 L269.1 368.2 L270.1 367.6 L271.1 367 L272.1 366.5 L273.1 366.1 L274.1 365.8 L275.1 365.5 L276.1 365.4 L277.1 365.3 L278.1 365.4 L279.1 365.5 L280.1 365.7 L281.1 366.1 L282.1 366.5 L283.1 367 L284.1 367.6 L285.1 368.2 L286.1 368.9 L287.1 369.7 L288.1 370.5 L289.1 371.2 L290.1 372 L291.1 372.8 L292.1 373.6 L293.1 374.3 L294.1 375 L295.1 375.6 L296.1 376.1 L297.1 376.6 L298.1 377 L299.1 377.2 L300.1 377.4 L301.1 377.4 L302.1 377.4 L303.1 377.2 L304.1 376.9 L305.1 376.5 L306.1 376 L307.1 375.4 L308.1 374.8 L309.1 374 L310.1 373.2 L311.1 372.4 L312.1 371.5 L313.1 370.6 L314.1 369.7 L315.1 368.8 L316.1 367.9 L317.1 367.1 L318.1 366.3 L319.1 365.6 L320.1 365 L321.1 364.5 L322.1 364.1 L323.1 363.8 L324.1 363.6 L325.1 363.6 L326.1 363.7 L327.1 363.9 L328.1 364.2 L329.1 364.7 L330.1 365.3 L331.1 365.9 L332.1 366.7 L333.1 367.6 L334.1 368.6 L335.1 369.6 L336.1 370.6 L337.1 371.7 L338.1 372.7 L339.1 373.8 L340.1 374.8 L341.1 375.7 L342.1 376.6 L343.1 377.5 L344.1 378.2 L345.1 378.8 L346.1 379.2 L347.1 379.6 L348.1 379.7 L349.1 379.8 L350.1 379.7 L351.1 379.4 L352.1 379 L353.1 378.4 L354.1 377.7 L355.1 376.9 L356.1 375.9 L357.1 374.9 L358.1 373.7 L359.1 372.5 L360.1 371.3 L361.1 370 L362.1 368.7 L363.1 367.5 L364.1 366.3 L365.1 365.1 L366.1 364 L367.1 363 L368.1 362.2 L369.1 361.5 L370.1 360.9 L371.1 360.5 L372.1 360.3 L373.1 360.3 L374.1 360.4 L375.1 360.7 L376.1 361.3 L377.1 362 L378.1 362.9 L379.1 363.9 L380.1 365.1 L381.1 366.4 L382.1 367.8 L383.1 369.3 L384.1 370.9 L385.1 372.5 L386.1 374.1 L387.1 375.7 L388.1 377.2 L389.1 378.7 L390.1 380 L391.1 381.3 L392.1 382.4 L393.1 383.3 L394.1 384 L395.1 384.5 L396.1 384.8 L397.1 384.8 L398.1 384.6 L399.1 384.2 L400.1 383.5 L401.1 382.6 L402.1 381.5 L403.1 380.1 L404.1 378.5 L405.1 376.8 L406.1 374.9 L407.1 372.9 L408.1 370.8 L409.1 368.7 L410.1 366.5 L411.1 364.4 L412.1 362.3 L413.1 360.3 L414.1 358.4 L415.1 356.7 L416.1 355.2 L417.1 353.9 L418.1 352.8 L419.1 352.1 L420.1 351.7 L421.1 351.5 L422.1 351.8 L423.1 352.3 L424.1 353.3 L425.1 354.5 L426.1 356.2 L427.1 358.1 L428.1 360.3 L429.1 362.8 L430.1 365.6 L431.1 368.6 L432.1 371.7 L433.1 375 L434.1 378.3 L435.1 381.7 L436.1 385 L437.1 388.2 L438.1 391.3 L439.1 394.2 L440.1 396.8 L441.1 399 L442.1 400.9 L443.1 402.4 L444.1 403.4 L445.1 403.9 L446.1 403.8 L447.1 403.1 L448.1 401.9 L449.1 399.9 L450.1 397.3 L451.1 394.1 L452.1 390.2 L453.1 385.7 L454.1 380.6 L455.1 374.8 L456.1 368.6 L457.1 361.7 L458.1 354.5 L459.1 346.8 L460.1 338.8 L461.1 330.5 L462.1 321.9 L463.1 313.3 L464.1 304.6 L465.1 295.9 L466.1 287.3 L467.1 278.9 L468.1 270.8 L469.1 263.1 L470.1 255.8 L471.1 248.9 L472.1 242.7 L473.1 237.1 L474.1 232.2 L475.1 228 L476.1 224.6 L477.1 222.1 L478.1 220.3 L479.1 219.5 L480.1 219.5 L481.1 220.4 L482.1 222.2 L483.1 224.8 L484.1 228.2 L485.1 232.5 L486 237.4 L487 243.1 L488 249.4 L489 256.2 L490 263.6 L491 271.3 L492 279.5 L493 287.9 L494 296.4 L495 305.1 L496 313.8 L497 322.5 L498 331 L499 339.3 L500 347.3 L501 355 L502 362.2 L503 369 L504 375.2 L505 380.9 L506 386 L507 390.5 L508 394.3 L509 397.5 L510 400.1 L511 402 L512 403.2 L513 403.8 L514 403.9 L515 403.4 L516 402.3 L517 400.8 L518 398.9 L519 396.6 L520 394 L521 391.1 L522 388 L523 384.8 L524 381.5 L525 378.1 L526 374.8 L527 371.5 L528 368.4 L529 365.4 L530 362.7 L531 360.2 L532 358 L533 356 L534 354.5 L535 353.2 L536 352.3 L537 351.7 L538 351.5 L539 351.7 L540 352.1 L541 352.9 L542 353.9 L543 355.2 L544 356.8 L545 358.5 L546 360.4 L547 362.4 L548 364.5 L549 366.7 L550 368.8 L551 371 L552 373.1 L553 375.1 L554 376.9 L555 378.6 L556 380.2 L557 381.5 L558 382.7 L559 383.6 L560 384.2 L561 384.7 L562 384.8 L563 384.8 L564 384.5 L565 384 L566 383.2 L567 382.3 L568 381.2 L569 380 L570 378.6 L571 377.1 L572 375.6 L573 374 L574 372.4 L575 370.8 L576 369.2 L577 367.7 L578 366.3 L579 365 L580 363.8 L581 362.8 L582 361.9 L583 361.2 L584 360.7 L585 360.4 L586 360.3 L587 360.3 L588 360.5 L589 360.9 L590 361.5 L591 362.2 L592 363.1 L593 364.1 L594 365.2 L595 366.3 L596 367.6 L597 368.8 L598 370.1 L599 371.4 L600 372.6 L601 373.8 L602 375 L603 376 L604 376.9 L605 377.8 L606 378.5 L607 379 L608 379.4 L609 379.7 L610 379.8 L611 379.7 L612 379.5 L613 379.2 L614 378.7 L615 378.1 L616 377.4 L617 376.6 L618 375.7 L619 374.7 L620 373.7 L621 372.6 L622 371.6 L623 370.5 L624 369.5 L625 368.5 L626 367.6 L627 366.7 L628 365.9 L629 365.2 L630 364.6 L631 364.2 L632 363.9 L633 363.6 L634 363.6 L635 363.6 L636 363.8 L637 364.1 L638 364.5 L639 365 L640 365.6 L641 366.4 L642 367.1 L643 368 L644 368.8 L645 369.7 L646 370.6 L647 371.5 L648 372.4 L649 373.3 L650 374.1 L651 374.8 L652 375.5 L653 376.1 L654 376.6 L655 376.9 L656 377.2 L657 377.4 L658 377.4 L659 377.4 L660 377.2" stroke="#217dd2" stroke-width="1.7" stroke-dasharray="1.7 1.5" fill="none"/>
<path d="M265 371 L266 371.7 L267 372.4 L268 373 L269 373.6 L269.9 374.2 L270.9 374.8 L271.9 375.2 L272.9 375.6 L273.9 376 L274.9 376.2 L275.9 376.4 L276.9 376.4 L277.9 376.4 L278.9 376.3 L279.9 376.1 L280.9 375.8 L281.9 375.4 L282.9 374.9 L283.9 374.4 L284.9 373.8 L285.9 373.1 L286.9 372.4 L287.9 371.7 L288.9 370.9 L289.9 370.2 L290.9 369.4 L291.9 368.7 L292.9 368 L293.9 367.4 L294.9 366.8 L295.9 366.2 L296.9 365.8 L297.9 365.4 L298.9 365.2 L299.9 365 L300.9 364.9 L301.9 365 L302.9 365.1 L303.9 365.4 L304.9 365.7 L305.9 366.1 L306.9 366.7 L307.9 367.3 L308.9 368 L309.9 368.7 L310.8 369.5 L311.8 370.3 L312.8 371.2 L313.8 372 L314.8 372.9 L315.8 373.7 L316.8 374.5 L317.8 375.2 L318.8 375.9 L319.8 376.4 L320.8 376.9 L321.8 377.3 L322.8 377.6 L323.8 377.8 L324.8 377.9 L325.8 377.8 L326.8 377.7 L327.8 377.4 L328.8 377 L329.8 376.5 L330.8 375.8 L331.8 375.1 L332.8 374.4 L333.8 373.5 L334.8 372.6 L335.8 371.7 L336.8 370.7 L337.8 369.7 L338.8 368.8 L339.8 367.8 L340.8 366.9 L341.8 366.1 L342.8 365.4 L343.8 364.7 L344.8 364.1 L345.8 363.7 L346.8 363.3 L347.8 363.1 L348.8 363.1 L349.8 363.1 L350.8 363.3 L351.7 363.7 L352.7 364.1 L353.7 364.7 L354.7 365.5 L355.7 366.3 L356.7 367.2 L357.7 368.2 L358.7 369.2 L359.7 370.3 L360.7 371.5 L361.7 372.6 L362.7 373.7 L363.7 374.8 L364.7 375.9 L365.7 376.8 L366.7 377.7 L367.7 378.5 L368.7 379.2 L369.7 379.7 L370.7 380.1 L371.7 380.3 L372.7 380.4 L373.7 380.3 L374.7 380.1 L375.7 379.7 L376.7 379.1 L377.7 378.4 L378.7 377.5 L379.7 376.5 L380.7 375.4 L381.7 374.2 L382.7 373 L383.7 371.7 L384.7 370.3 L385.7 368.9 L386.7 367.6 L387.7 366.3 L388.7 365 L389.7 363.8 L390.7 362.8 L391.7 361.8 L392.6 361 L393.6 360.4 L394.6 359.9 L395.6 359.6 L396.6 359.5 L397.6 359.6 L398.6 359.9 L399.6 360.4 L400.6 361.1 L401.6 362 L402.6 363.1 L403.6 364.3 L404.6 365.6 L405.6 367.1 L406.6 368.7 L407.6 370.3 L408.6 372 L409.6 373.8 L410.6 375.5 L411.6 377.1 L412.6 378.7 L413.6 380.2 L414.6 381.6 L415.6 382.8 L416.6 383.8 L417.6 384.7 L418.6 385.3 L419.6 385.7 L420.6 385.8 L421.6 385.7 L422.6 385.3 L423.6 384.7 L424.6 383.8 L425.6 382.6 L426.6 381.2 L427.6 379.7 L428.6 377.9 L429.6 375.9 L430.6 373.8 L431.6 371.6 L432.6 369.4 L433.6 367.1 L434.5 364.8 L435.5 362.5 L436.5 360.3 L437.5 358.3 L438.5 356.4 L439.5 354.6 L440.5 353.2 L441.5 352 L442.5 351.1 L443.5 350.5 L444.5 350.2 L445.5 350.3 L446.5 350.8 L447.5 351.6 L448.5 352.8 L449.5 354.4 L450.5 356.3 L451.5 358.6 L452.5 361.2 L453.5 364 L454.5 367.1 L455.5 370.4 L456.5 373.8 L457.5 377.3 L458.5 380.9 L459.5 384.5 L460.5 388 L461.5 391.3 L462.5 394.5 L463.5 397.4 L464.5 400 L465.5 402.2 L466.5 404 L467.5 405.2 L468.5 406 L469.5 406.2 L470.5 405.7 L471.5 404.7 L472.5 402.9 L473.5 400.5 L474.5 397.3 L475.4 393.5 L476.4 389 L477.4 383.8 L478.4 378 L479.4 371.5 L480.4 364.5 L481.4 357 L482.4 349 L483.4 340.6 L484.4 331.9 L485.4 322.9 L486.4 313.7 L487.4 304.5 L488.4 295.2 L489.4 286 L490.4 276.9 L491.4 268.1 L492.4 259.7 L493.4 251.6 L494.4 244.1 L495.4 237.1 L496.4 230.8 L497.4 225.2 L498.4 220.3 L499.4 216.3 L500.4 213.1 L501.4 210.8 L502.4 209.4 L503.4 209 L504.4 209.5 L505.4 210.9 L506.4 213.2 L507.4 216.4 L508.4 220.5 L509.4 225.4 L510.4 231 L511.4 237.4 L512.4 244.4 L513.4 252 L514.4 260 L515.4 268.5 L516.3 277.3 L517.3 286.3 L518.3 295.6 L519.3 304.8 L520.3 314.1 L521.3 323.3 L522.3 332.2 L523.3 341 L524.3 349.4 L525.3 357.3 L526.3 364.8 L527.3 371.8 L528.3 378.2 L529.3 384 L530.3 389.2 L531.3 393.7 L532.3 397.5 L533.3 400.6 L534.3 403 L535.3 404.7 L536.3 405.8 L537.3 406.2 L538.3 406 L539.3 405.2 L540.3 403.9 L541.3 402.1 L542.3 399.9 L543.3 397.3 L544.3 394.4 L545.3 391.2 L546.3 387.8 L547.3 384.3 L548.3 380.8 L549.3 377.2 L550.3 373.7 L551.3 370.2 L552.3 367 L553.3 363.9 L554.3 361.1 L555.3 358.5 L556.3 356.3 L557.2 354.3 L558.2 352.8 L559.2 351.6 L560.2 350.8 L561.2 350.3 L562.2 350.2 L563.2 350.5 L564.2 351.1 L565.2 352 L566.2 353.2 L567.2 354.7 L568.2 356.4 L569.2 358.3 L570.2 360.4 L571.2 362.6 L572.2 364.9 L573.2 367.2 L574.2 369.5 L575.2 371.7 L576.2 373.9 L577.2 376 L578.2 378 L579.2 379.7 L580.2 381.3 L581.2 382.7 L582.2 383.8 L583.2 384.7 L584.2 385.3 L585.2 385.7 L586.2 385.8 L587.2 385.6 L588.2 385.3 L589.2 384.6 L590.2 383.8 L591.2 382.7 L592.2 381.5 L593.2 380.2 L594.2 378.7 L595.2 377.1 L596.2 375.4 L597.2 373.7 L598.2 372 L599.1 370.3 L600.1 368.6 L601.1 367.1 L602.1 365.6 L603.1 364.2 L604.1 363 L605.1 362 L606.1 361.1 L607.1 360.4 L608.1 359.9 L609.1 359.6 L610.1 359.5 L611.1 359.6 L612.1 359.9 L613.1 360.4 L614.1 361 L615.1 361.9 L616.1 362.8 L617.1 363.9 L618.1 365.1 L619.1 366.3 L620.1 367.6 L621.1 369 L622.1 370.4 L623.1 371.7 L624.1 373 L625.1 374.3 L626.1 375.5 L627.1 376.6 L628.1 377.6 L629.1 378.4 L630.1 379.1 L631.1 379.7 L632.1 380.1 L633.1 380.3 L634.1 380.4 L635.1 380.3 L636.1 380.1 L637.1 379.7 L638.1 379.1 L639.1 378.5 L640 377.7 L641 376.8 L642 375.8 L643 374.8 L644 373.7 L645 372.6 L646 371.4 L647 370.3 L648 369.2 L649 368.1 L650 367.1 L651 366.2 L652 365.4 L653 364.7 L654 364.1 L655 363.7 L656 363.3 L657 363.1 L658 363.1 L659 363.1 L660 363.3" stroke="#217dd2" stroke-width="1.7" stroke-dasharray="1.7 1.5" fill="none"/>
<path d="M288.8 371 L289.8 371.7 L290.8 372.4 L291.8 373 L292.8 373.7 L293.8 374.3 L294.8 374.8 L295.8 375.3 L296.8 375.7 L297.8 376 L298.8 376.3 L299.8 376.4 L300.8 376.5 L301.8 376.5 L302.8 376.3 L303.8 376.1 L304.8 375.8 L305.8 375.4 L306.8 374.9 L307.8 374.4 L308.8 373.8 L309.8 373.1 L310.8 372.4 L311.8 371.7 L312.7 370.9 L313.7 370.2 L314.7 369.4 L315.7 368.7 L316.7 368 L317.7 367.3 L318.7 366.7 L319.7 366.2 L320.7 365.7 L321.7 365.4 L322.7 365.1 L323.7 364.9 L324.7 364.9 L325.7 364.9 L326.7 365 L327.7 365.3 L328.7 365.6 L329.7 366.1 L330.7 366.6 L331.7 367.3 L332.7 367.9 L333.7 368.7 L334.7 369.5 L335.7 370.3 L336.7 371.2 L337.7 372 L338.7 372.9 L339.7 373.7 L340.7 374.5 L341.7 375.2 L342.7 375.9 L343.7 376.5 L344.7 377 L345.7 377.4 L346.7 377.7 L347.7 377.9 L348.7 378 L349.7 377.9 L350.7 377.7 L351.7 377.4 L352.7 377 L353.7 376.5 L354.7 375.9 L355.7 375.2 L356.7 374.4 L357.7 373.5 L358.6 372.6 L359.6 371.7 L360.6 370.7 L361.6 369.7 L362.6 368.7 L363.6 367.8 L364.6 366.9 L365.6 366 L366.6 365.3 L367.6 364.6 L368.6 364 L369.6 363.6 L370.6 363.2 L371.6 363 L372.6 363 L373.6 363 L374.6 363.2 L375.6 363.6 L376.6 364.1 L377.6 364.7 L378.6 365.4 L379.6 366.2 L380.6 367.2 L381.6 368.2 L382.6 369.2 L383.6 370.4 L384.6 371.5 L385.6 372.6 L386.6 373.8 L387.6 374.9 L388.6 375.9 L389.6 376.9 L390.6 377.8 L391.6 378.6 L392.6 379.3 L393.6 379.8 L394.6 380.2 L395.6 380.4 L396.6 380.5 L397.6 380.4 L398.6 380.2 L399.6 379.7 L400.6 379.2 L401.6 378.4 L402.6 377.6 L403.6 376.6 L404.6 375.5 L405.5 374.2 L406.5 373 L407.5 371.6 L408.5 370.3 L409.5 368.9 L410.5 367.5 L411.5 366.2 L412.5 364.9 L413.5 363.7 L414.5 362.6 L415.5 361.7 L416.5 360.9 L417.5 360.2 L418.5 359.7 L419.5 359.5 L420.5 359.4 L421.5 359.5 L422.5 359.8 L423.5 360.3 L424.5 361 L425.5 361.9 L426.5 363 L427.5 364.2 L428.5 365.6 L429.5 367.1 L430.5 368.7 L431.5 370.4 L432.5 372.1 L433.5 373.9 L434.5 375.6 L435.5 377.3 L436.5 378.9 L437.5 380.4 L438.5 381.8 L439.5 383 L440.5 384 L441.5 384.9 L442.5 385.5 L443.5 385.9 L444.5 386 L445.5 385.8 L446.5 385.4 L447.5 384.8 L448.5 383.9 L449.5 382.7 L450.5 381.3 L451.4 379.7 L452.4 377.9 L453.4 375.9 L454.4 373.8 L455.4 371.5 L456.4 369.2 L457.4 366.9 L458.4 364.6 L459.4 362.3 L460.4 360.1 L461.4 358 L462.4 356.1 L463.4 354.4 L464.4 352.9 L465.4 351.7 L466.4 350.8 L467.4 350.2 L468.4 350 L469.4 350.1 L470.4 350.6 L471.4 351.4 L472.4 352.7 L473.4 354.3 L474.4 356.3 L475.4 358.6 L476.4 361.2 L477.4 364.1 L478.4 367.2 L479.4 370.6 L480.4 374 L481.4 377.6 L482.4 381.2 L483.4 384.8 L484.4 388.4 L485.4 391.8 L486.4 394.9 L487.4 397.9 L488.4 400.5 L489.4 402.7 L490.4 404.4 L491.4 405.7 L492.4 406.5 L493.4 406.6 L494.4 406.1 L495.4 405 L496.4 403.2 L497.4 400.7 L498.3 397.5 L499.3 393.5 L500.3 388.9 L501.3 383.6 L502.3 377.7 L503.3 371.2 L504.3 364 L505.3 356.4 L506.3 348.2 L507.3 339.7 L508.3 330.9 L509.3 321.7 L510.3 312.4 L511.3 303.1 L512.3 293.7 L513.3 284.3 L514.3 275.2 L515.3 266.3 L516.3 257.8 L517.3 249.7 L518.3 242.1 L519.3 235 L520.3 228.7 L521.3 223 L522.3 218.2 L523.3 214.1 L524.3 211 L525.3 208.7 L526.3 207.4 L527.3 207 L528.3 207.6 L529.3 209 L530.3 211.5 L531.3 214.8 L532.3 219 L533.3 224 L534.3 229.7 L535.3 236.2 L536.3 243.3 L537.3 251 L538.3 259.2 L539.3 267.8 L540.3 276.8 L541.3 285.9 L542.3 295.3 L543.3 304.7 L544.2 314.1 L545.2 323.3 L546.2 332.4 L547.2 341.2 L548.2 349.7 L549.2 357.7 L550.2 365.3 L551.2 372.3 L552.2 378.8 L553.2 384.6 L554.2 389.8 L555.2 394.3 L556.2 398.1 L557.2 401.2 L558.2 403.5 L559.2 405.2 L560.2 406.3 L561.2 406.6 L562.2 406.4 L563.2 405.5 L564.2 404.2 L565.2 402.3 L566.2 400 L567.2 397.4 L568.2 394.4 L569.2 391.2 L570.2 387.8 L571.2 384.2 L572.2 380.6 L573.2 377 L574.2 373.4 L575.2 370 L576.2 366.7 L577.2 363.6 L578.2 360.7 L579.2 358.2 L580.2 355.9 L581.2 354 L582.2 352.4 L583.2 351.3 L584.2 350.5 L585.2 350 L586.2 350 L587.2 350.3 L588.2 350.9 L589.2 351.9 L590.2 353.1 L591.1 354.6 L592.1 356.4 L593.1 358.3 L594.1 360.5 L595.1 362.7 L596.1 365 L597.1 367.3 L598.1 369.6 L599.1 371.9 L600.1 374.2 L601.1 376.3 L602.1 378.2 L603.1 380 L604.1 381.6 L605.1 382.9 L606.1 384 L607.1 384.9 L608.1 385.5 L609.1 385.9 L610.1 386 L611.1 385.8 L612.1 385.4 L613.1 384.7 L614.1 383.9 L615.1 382.8 L616.1 381.5 L617.1 380.1 L618.1 378.6 L619.1 377 L620.1 375.3 L621.1 373.6 L622.1 371.8 L623.1 370.1 L624.1 368.4 L625.1 366.9 L626.1 365.4 L627.1 364 L628.1 362.8 L629.1 361.8 L630.1 360.9 L631.1 360.2 L632.1 359.7 L633.1 359.4 L634.1 359.4 L635.1 359.5 L636.1 359.8 L637 360.3 L638 361 L639 361.8 L640 362.8 L641 363.9 L642 365.1 L643 366.4 L644 367.7 L645 369.1 L646 370.5 L647 371.9 L648 373.2 L649 374.5 L650 375.7 L651 376.7 L652 377.7 L653 378.6 L654 379.3 L655 379.8 L656 380.2 L657 380.4 L658 380.5 L659 380.4 L660 380.1" stroke="#217dd2" stroke-width="1.7" stroke-dasharray="1.7 1.5" fill="none"/>
<path d="M312.6 371 L313.6 371.7 L314.6 372.4 L315.6 373 L316.6 373.7 L317.6 374.2 L318.6 374.8 L319.6 375.3 L320.6 375.7 L321.6 376 L322.6 376.2 L323.6 376.4 L324.6 376.5 L325.6 376.4 L326.6 376.3 L327.6 376.1 L328.6 375.8 L329.6 375.4 L330.6 374.9 L331.6 374.4 L332.6 373.8 L333.6 373.1 L334.6 372.4 L335.6 371.7 L336.6 370.9 L337.6 370.2 L338.6 369.4 L339.6 368.7 L340.6 368 L341.6 367.3 L342.6 366.7 L343.6 366.2 L344.6 365.7 L345.6 365.4 L346.6 365.1 L347.6 365 L348.6 364.9 L349.6 364.9 L350.6 365.1 L351.6 365.3 L352.6 365.7 L353.6 366.1 L354.6 366.7 L355.6 367.3 L356.6 368 L357.6 368.7 L358.6 369.5 L359.6 370.3 L360.6 371.2 L361.5 372.1 L362.5 372.9 L363.5 373.7 L364.5 374.5 L365.5 375.2 L366.5 375.9 L367.5 376.5 L368.5 377 L369.5 377.4 L370.5 377.7 L371.5 377.9 L372.5 377.9 L373.5 377.9 L374.5 377.7 L375.5 377.4 L376.5 377 L377.5 376.5 L378.5 375.9 L379.5 375.1 L380.5 374.4 L381.5 373.5 L382.5 372.6 L383.5 371.6 L384.5 370.7 L385.5 369.7 L386.5 368.7 L387.5 367.8 L388.5 366.9 L389.5 366 L390.5 365.3 L391.5 364.6 L392.5 364 L393.5 363.6 L394.5 363.3 L395.5 363.1 L396.5 363 L397.5 363.1 L398.5 363.3 L399.5 363.6 L400.5 364.1 L401.5 364.7 L402.5 365.5 L403.5 366.3 L404.5 367.2 L405.5 368.2 L406.5 369.3 L407.5 370.4 L408.5 371.5 L409.5 372.7 L410.5 373.8 L411.5 374.9 L412.5 375.9 L413.5 376.9 L414.5 377.8 L415.5 378.6 L416.4 379.3 L417.4 379.8 L418.4 380.2 L419.4 380.4 L420.4 380.5 L421.4 380.4 L422.4 380.1 L423.4 379.7 L424.4 379.1 L425.4 378.4 L426.4 377.5 L427.4 376.5 L428.4 375.4 L429.4 374.2 L430.4 372.9 L431.4 371.6 L432.4 370.2 L433.4 368.8 L434.4 367.5 L435.4 366.1 L436.4 364.9 L437.4 363.7 L438.4 362.6 L439.4 361.7 L440.4 360.9 L441.4 360.3 L442.4 359.8 L443.4 359.5 L444.4 359.4 L445.4 359.6 L446.4 359.9 L447.4 360.4 L448.4 361.1 L449.4 362 L450.4 363.1 L451.4 364.3 L452.4 365.7 L453.4 367.2 L454.4 368.8 L455.4 370.5 L456.4 372.2 L457.4 373.9 L458.4 375.6 L459.4 377.3 L460.4 378.9 L461.4 380.4 L462.4 381.8 L463.4 383 L464.4 384 L465.4 384.8 L466.4 385.4 L467.4 385.8 L468.4 385.9 L469.4 385.7 L470.3 385.3 L471.3 384.7 L472.3 383.8 L473.3 382.6 L474.3 381.2 L475.3 379.6 L476.3 377.7 L477.3 375.8 L478.3 373.6 L479.3 371.4 L480.3 369.1 L481.3 366.8 L482.3 364.5 L483.3 362.2 L484.3 360 L485.3 358 L486.3 356.1 L487.3 354.4 L488.3 352.9 L489.3 351.7 L490.3 350.8 L491.3 350.3 L492.3 350.1 L493.3 350.2 L494.3 350.7 L495.3 351.6 L496.3 352.9 L497.3 354.5 L498.3 356.5 L499.3 358.8 L500.3 361.4 L501.3 364.3 L502.3 367.4 L503.3 370.8 L504.3 374.2 L505.3 377.8 L506.3 381.4 L507.3 385 L508.3 388.5 L509.3 391.8 L510.3 395 L511.3 397.9 L512.3 400.5 L513.3 402.6 L514.3 404.4 L515.3 405.6 L516.3 406.3 L517.3 406.4 L518.3 405.9 L519.3 404.7 L520.3 402.9 L521.3 400.3 L522.3 397.1 L523.3 393.1 L524.3 388.5 L525.2 383.2 L526.2 377.3 L527.2 370.7 L528.2 363.6 L529.2 355.9 L530.2 347.8 L531.2 339.3 L532.2 330.5 L533.2 321.4 L534.2 312.1 L535.2 302.8 L536.2 293.4 L537.2 284.2 L538.2 275.1 L539.2 266.3 L540.2 257.8 L541.2 249.8 L542.2 242.2 L543.2 235.3 L544.2 229 L545.2 223.5 L546.2 218.7 L547.2 214.7 L548.2 211.7 L549.2 209.5 L550.2 208.2 L551.2 207.9 L552.2 208.5 L553.2 210.1 L554.2 212.6 L555.2 215.9 L556.2 220.1 L557.2 225.2 L558.2 231 L559.2 237.5 L560.2 244.6 L561.2 252.3 L562.2 260.5 L563.2 269.1 L564.2 278 L565.2 287.1 L566.2 296.4 L567.2 305.8 L568.2 315.1 L569.2 324.3 L570.2 333.3 L571.2 342.1 L572.2 350.5 L573.2 358.4 L574.2 365.9 L575.2 372.9 L576.2 379.2 L577.2 385 L578.2 390.1 L579.1 394.5 L580.1 398.2 L581.1 401.2 L582.1 403.5 L583.1 405.2 L584.1 406.1 L585.1 406.4 L586.1 406.1 L587.1 405.3 L588.1 403.9 L589.1 402 L590.1 399.7 L591.1 397 L592.1 394 L593.1 390.8 L594.1 387.4 L595.1 383.8 L596.1 380.2 L597.1 376.6 L598.1 373.1 L599.1 369.7 L600.1 366.4 L601.1 363.3 L602.1 360.5 L603.1 358 L604.1 355.8 L605.1 353.9 L606.1 352.4 L607.1 351.3 L608.1 350.5 L609.1 350.1 L610.1 350.1 L611.1 350.4 L612.1 351.1 L613.1 352.1 L614.1 353.4 L615.1 354.9 L616.1 356.7 L617.1 358.6 L618.1 360.7 L619.1 362.9 L620.1 365.2 L621.1 367.6 L622.1 369.9 L623.1 372.1 L624.1 374.3 L625.1 376.4 L626.1 378.3 L627.1 380.1 L628.1 381.7 L629.1 383 L630.1 384.1 L631.1 384.9 L632.1 385.5 L633 385.8 L634 385.9 L635 385.7 L636 385.3 L637 384.6 L638 383.7 L639 382.6 L640 381.3 L641 379.9 L642 378.4 L643 376.8 L644 375.1 L645 373.4 L646 371.6 L647 369.9 L648 368.3 L649 366.7 L650 365.3 L651 363.9 L652 362.7 L653 361.7 L654 360.9 L655 360.2 L656 359.8 L657 359.5 L658 359.4 L659 359.6 L660 359.9" stroke="#217dd2" stroke-width="1.7" stroke-dasharray="1.7 1.5" fill="none"/>
<path d="M336.5 371 L337.5 371.7 L338.5 372.4 L339.5 373 L340.5 373.6 L341.5 374.2 L342.5 374.8 L343.5 375.2 L344.5 375.6 L345.5 376 L346.5 376.2 L347.5 376.4 L348.5 376.4 L349.5 376.4 L350.5 376.3 L351.5 376.1 L352.5 375.8 L353.5 375.4 L354.5 374.9 L355.5 374.4 L356.5 373.8 L357.4 373.1 L358.4 372.4 L359.4 371.7 L360.4 370.9 L361.4 370.1 L362.4 369.4 L363.4 368.7 L364.4 368 L365.4 367.3 L366.4 366.7 L367.4 366.2 L368.4 365.8 L369.4 365.4 L370.4 365.2 L371.4 365 L372.4 364.9 L373.4 365 L374.4 365.1 L375.4 365.4 L376.4 365.7 L377.4 366.2 L378.4 366.7 L379.4 367.3 L380.4 368 L381.4 368.7 L382.4 369.5 L383.4 370.4 L384.4 371.2 L385.4 372.1 L386.4 372.9 L387.4 373.7 L388.4 374.5 L389.4 375.2 L390.4 375.9 L391.4 376.5 L392.4 377 L393.4 377.4 L394.4 377.7 L395.4 377.8 L396.4 377.9 L397.4 377.8 L398.4 377.7 L399.4 377.4 L400.4 376.9 L401.4 376.4 L402.4 375.8 L403.4 375.1 L404.4 374.3 L405.4 373.5 L406.4 372.6 L407.4 371.6 L408.4 370.6 L409.4 369.7 L410.4 368.7 L411.4 367.8 L412.4 366.9 L413.4 366 L414.4 365.3 L415.4 364.6 L416.4 364.1 L417.4 363.6 L418.4 363.3 L419.4 363.1 L420.4 363 L421.4 363.1 L422.4 363.3 L423.4 363.7 L424.3 364.2 L425.3 364.8 L426.3 365.5 L427.3 366.3 L428.3 367.3 L429.3 368.3 L430.3 369.3 L431.3 370.4 L432.3 371.6 L433.3 372.7 L434.3 373.8 L435.3 374.9 L436.3 376 L437.3 376.9 L438.3 377.8 L439.3 378.6 L440.3 379.2 L441.3 379.7 L442.3 380.1 L443.3 380.3 L444.3 380.4 L445.3 380.3 L446.3 380 L447.3 379.6 L448.3 379 L449.3 378.3 L450.3 377.4 L451.3 376.4 L452.3 375.3 L453.3 374.1 L454.3 372.8 L455.3 371.5 L456.3 370.1 L457.3 368.8 L458.3 367.4 L459.3 366.1 L460.3 364.9 L461.3 363.7 L462.3 362.6 L463.3 361.7 L464.3 360.9 L465.3 360.3 L466.3 359.8 L467.3 359.6 L468.3 359.5 L469.3 359.6 L470.3 360 L471.3 360.5 L472.3 361.2 L473.3 362.1 L474.3 363.2 L475.3 364.4 L476.3 365.8 L477.3 367.3 L478.3 368.9 L479.3 370.6 L480.3 372.3 L481.3 374 L482.3 375.7 L483.3 377.4 L484.3 378.9 L485.3 380.4 L486.3 381.8 L487.3 383 L488.3 384 L489.3 384.8 L490.3 385.4 L491.3 385.7 L492.2 385.8 L493.2 385.7 L494.2 385.2 L495.2 384.6 L496.2 383.6 L497.2 382.4 L498.2 381 L499.2 379.4 L500.2 377.6 L501.2 375.6 L502.2 373.5 L503.2 371.3 L504.2 369 L505.2 366.7 L506.2 364.4 L507.2 362.1 L508.2 360 L509.2 357.9 L510.2 356 L511.2 354.4 L512.2 352.9 L513.2 351.8 L514.2 350.9 L515.2 350.4 L516.2 350.2 L517.2 350.3 L518.2 350.9 L519.2 351.8 L520.2 353.1 L521.2 354.7 L522.2 356.7 L523.2 359 L524.2 361.7 L525.2 364.5 L526.2 367.7 L527.2 371 L528.2 374.4 L529.2 378 L530.2 381.6 L531.2 385.1 L532.2 388.6 L533.2 392 L534.2 395.1 L535.2 397.9 L536.2 400.5 L537.2 402.6 L538.2 404.3 L539.2 405.5 L540.2 406.1 L541.2 406.2 L542.2 405.6 L543.2 404.4 L544.2 402.5 L545.2 399.9 L546.2 396.7 L547.2 392.7 L548.2 388 L549.2 382.7 L550.2 376.7 L551.2 370.2 L552.2 363 L553.2 355.4 L554.2 347.3 L555.2 338.8 L556.2 330 L557.2 320.9 L558.2 311.7 L559.1 302.4 L560.1 293.1 L561.1 283.9 L562.1 274.9 L563.1 266.2 L564.1 257.8 L565.1 249.8 L566.1 242.4 L567.1 235.5 L568.1 229.3 L569.1 223.9 L570.1 219.2 L571.1 215.3 L572.1 212.3 L573.1 210.2 L574.1 209.1 L575.1 208.8 L576.1 209.5 L577.1 211.2 L578.1 213.7 L579.1 217.1 L580.1 221.4 L581.1 226.5 L582.1 232.3 L583.1 238.8 L584.1 246 L585.1 253.7 L586.1 261.8 L587.1 270.4 L588.1 279.3 L589.1 288.4 L590.1 297.7 L591.1 307 L592.1 316.3 L593.1 325.4 L594.1 334.4 L595.1 343 L596.1 351.3 L597.1 359.2 L598.1 366.6 L599.1 373.5 L600.1 379.8 L601.1 385.4 L602.1 390.4 L603.1 394.7 L604.1 398.4 L605.1 401.3 L606.1 403.5 L607.1 405.1 L608.1 406 L609.1 406.2 L610.1 405.9 L611.1 405 L612.1 403.5 L613.1 401.6 L614.1 399.3 L615.1 396.6 L616.1 393.6 L617.1 390.3 L618.1 386.9 L619.1 383.4 L620.1 379.8 L621.1 376.2 L622.1 372.7 L623.1 369.3 L624.1 366.1 L625.1 363.1 L626.1 360.3 L627 357.8 L628 355.7 L629 353.9 L630 352.4 L631 351.3 L632 350.6 L633 350.2 L634 350.2 L635 350.6 L636 351.3 L637 352.3 L638 353.6 L639 355.2 L640 356.9 L641 358.9 L642 361 L643 363.2 L644 365.5 L645 367.8 L646 370.1 L647 372.4 L648 374.6 L649 376.6 L650 378.5 L651 380.2 L652 381.8 L653 383.1 L654 384.1 L655 384.9 L656 385.5 L657 385.8 L658 385.8 L659 385.6 L660 385.1" stroke="#217dd2" stroke-width="1.7" stroke-dasharray="1.7 1.5" fill="none"/>
<path d="M360.3 371 L361.3 371.7 L362.3 372.4 L363.3 373.1 L364.3 373.8 L365.3 374.4 L366.3 375 L367.3 375.5 L368.3 375.9 L369.3 376.3 L370.3 376.6 L371.3 376.7 L372.3 376.8 L373.3 376.8 L374.3 376.6 L375.3 376.4 L376.3 376.1 L377.3 375.7 L378.3 375.1 L379.3 374.6 L380.3 373.9 L381.3 373.2 L382.3 372.5 L383.3 371.7 L384.3 370.9 L385.3 370.1 L386.3 369.3 L387.3 368.5 L388.3 367.8 L389.3 367.1 L390.3 366.5 L391.3 365.9 L392.3 365.4 L393.3 365 L394.3 364.8 L395.3 364.6 L396.3 364.5 L397.3 364.6 L398.3 364.7 L399.3 365 L400.3 365.4 L401.3 365.9 L402.3 366.4 L403.3 367.1 L404.3 367.8 L405.3 368.6 L406.3 369.5 L407.3 370.3 L408.3 371.2 L409.3 372.2 L410.3 373 L411.3 373.9 L412.3 374.7 L413.3 375.5 L414.3 376.2 L415.3 376.8 L416.3 377.4 L417.3 377.8 L418.3 378.1 L419.3 378.3 L420.3 378.3 L421.3 378.3 L422.3 378.1 L423.3 377.8 L424.3 377.3 L425.3 376.8 L426.2 376.1 L427.2 375.3 L428.2 374.5 L429.2 373.6 L430.2 372.6 L431.2 371.6 L432.2 370.6 L433.2 369.5 L434.2 368.5 L435.2 367.5 L436.2 366.6 L437.2 365.7 L438.2 364.9 L439.2 364.2 L440.2 363.6 L441.2 363.1 L442.2 362.8 L443.2 362.6 L444.2 362.5 L445.2 362.6 L446.2 362.9 L447.2 363.2 L448.2 363.8 L449.2 364.4 L450.2 365.2 L451.2 366.1 L452.2 367.1 L453.2 368.1 L454.2 369.3 L455.2 370.4 L456.2 371.7 L457.2 372.9 L458.2 374.1 L459.2 375.2 L460.2 376.3 L461.2 377.3 L462.2 378.3 L463.2 379.1 L464.2 379.8 L465.2 380.3 L466.2 380.7 L467.2 381 L468.2 381 L469.2 380.9 L470.2 380.6 L471.2 380.1 L472.2 379.5 L473.2 378.7 L474.2 377.8 L475.2 376.7 L476.2 375.5 L477.2 374.3 L478.2 372.9 L479.2 371.5 L480.2 370 L481.2 368.6 L482.2 367.1 L483.2 365.7 L484.2 364.4 L485.2 363.2 L486.2 362 L487.2 361 L488.2 360.2 L489.2 359.6 L490.2 359.1 L491.2 358.8 L492.2 358.8 L493.2 358.9 L494.2 359.3 L495.2 359.8 L496.2 360.6 L497.2 361.6 L498.2 362.8 L499.2 364.1 L500.2 365.6 L501.2 367.2 L502.2 368.9 L503.2 370.7 L504.2 372.5 L505.2 374.3 L506.2 376.1 L507.2 377.9 L508.2 379.6 L509.2 381.1 L510.2 382.6 L511.2 383.8 L512.2 384.9 L513.2 385.7 L514.2 386.3 L515.2 386.7 L516.2 386.8 L517.2 386.6 L518.2 386.1 L519.2 385.4 L520.1 384.4 L521.1 383.1 L522.1 381.6 L523.1 379.8 L524.1 377.9 L525.1 375.8 L526.1 373.5 L527.1 371.1 L528.1 368.7 L529.1 366.2 L530.1 363.8 L531.1 361.4 L532.1 359.1 L533.1 356.9 L534.1 354.9 L535.1 353.2 L536.1 351.7 L537.1 350.4 L538.1 349.6 L539.1 349 L540.1 348.8 L541.1 349 L542.1 349.6 L543.1 350.6 L544.1 352 L545.1 353.8 L546.1 356 L547.1 358.5 L548.1 361.3 L549.1 364.4 L550.1 367.7 L551.1 371.3 L552.1 375 L553.1 378.8 L554.1 382.6 L555.1 386.4 L556.1 390.1 L557.1 393.6 L558.1 396.9 L559.1 399.9 L560.1 402.6 L561.1 404.8 L562.1 406.6 L563.1 407.8 L564.1 408.4 L565.1 408.4 L566.1 407.8 L567.1 406.4 L568.1 404.4 L569.1 401.5 L570.1 398 L571.1 393.7 L572.1 388.7 L573.1 382.9 L574.1 376.5 L575.1 369.5 L576.1 361.8 L577.1 353.6 L578.1 344.9 L579.1 335.9 L580.1 326.5 L581.1 316.8 L582.1 307 L583.1 297.1 L584.1 287.2 L585.1 277.4 L586.1 267.8 L587.1 258.5 L588.1 249.6 L589.1 241.2 L590.1 233.3 L591.1 226.1 L592.1 219.6 L593.1 213.8 L594.1 208.9 L595.1 204.9 L596.1 201.8 L597.1 199.7 L598.1 198.5 L599.1 198.4 L600.1 199.2 L601.1 201 L602.1 203.8 L603.1 207.6 L604.1 212.2 L605.1 217.7 L606.1 224 L607.1 231 L608.1 238.7 L609.1 246.9 L610.1 255.7 L611.1 264.9 L612.1 274.4 L613.1 284.1 L614 294 L615 303.9 L616 313.8 L617 323.5 L618 333 L619 342.2 L620 351 L621 359.3 L622 367.2 L623 374.4 L624 381 L625 387 L626 392.2 L627 396.7 L628 400.5 L629 403.6 L630 405.9 L631 407.4 L632 408.3 L633 408.5 L634 408.1 L635 407 L636 405.4 L637 403.3 L638 400.8 L639 397.9 L640 394.6 L641 391.2 L642 387.5 L643 383.8 L644 379.9 L645 376.1 L646 372.4 L647 368.8 L648 365.4 L649 362.2 L650 359.3 L651 356.7 L652 354.4 L653 352.5 L654 351 L655 349.9 L656 349.2 L657 348.9 L658 348.9 L659 349.3 L660 350.1" stroke="#217dd2" stroke-width="1.7" stroke-dasharray="1.7 1.5" fill="none"/>
<path d="M384.2 371 L385.2 371.9 L386.2 372.8 L387.2 373.6 L388.2 374.4 L389.2 375.2 L390.2 375.9 L391.2 376.5 L392.2 377 L393.2 377.5 L394.2 377.8 L395.2 378 L396.2 378.1 L397.2 378 L398.2 377.9 L399.2 377.6 L400.2 377.2 L401.2 376.7 L402.1 376.1 L403.1 375.4 L404.1 374.6 L405.1 373.7 L406.1 372.8 L407.1 371.8 L408.1 370.9 L409.1 369.9 L410.1 368.9 L411.1 368 L412.1 367 L413.1 366.2 L414.1 365.4 L415.1 364.8 L416.1 364.2 L417.1 363.7 L418.1 363.4 L419.1 363.2 L420.1 363.1 L421.1 363.2 L422.1 363.3 L423.1 363.7 L424.1 364.1 L425.1 364.7 L426.1 365.4 L427.1 366.2 L428.1 367.1 L429.1 368.1 L430.1 369.1 L431.1 370.2 L432.1 371.3 L433.1 372.4 L434.1 373.5 L435.1 374.6 L436.1 375.6 L437.1 376.5 L438.1 377.4 L439.1 378.2 L440.1 378.8 L441.1 379.3 L442.1 379.7 L443.1 379.9 L444.1 380 L445.1 379.9 L446.1 379.6 L447.1 379.2 L448.1 378.7 L449.1 378 L450.1 377.2 L451.1 376.3 L452.1 375.2 L453.1 374.1 L454.1 372.9 L455.1 371.7 L456.1 370.4 L457.1 369.2 L458.1 367.9 L459.1 366.7 L460.1 365.6 L461.1 364.5 L462.1 363.5 L463.1 362.7 L464.1 361.9 L465.1 361.4 L466.1 361 L467.1 360.7 L468.1 360.7 L469.1 360.8 L470.1 361.1 L471.1 361.5 L472.1 362.2 L473.1 363 L474.1 363.9 L475.1 365 L476.1 366.2 L477.1 367.6 L478.1 368.9 L479.1 370.4 L480.1 371.9 L481.1 373.3 L482.1 374.8 L483.1 376.2 L484.1 377.6 L485.1 378.8 L486.1 379.9 L487.1 380.9 L488.1 381.8 L489.1 382.4 L490.1 382.9 L491.1 383.2 L492.1 383.2 L493.1 383.1 L494.1 382.7 L495.1 382.1 L496.1 381.4 L497.1 380.4 L498.1 379.2 L499.1 377.9 L500.1 376.5 L501.1 374.9 L502.1 373.2 L503.1 371.5 L504.1 369.7 L505.1 367.9 L506.1 366.2 L507.1 364.5 L508.1 362.8 L509.1 361.3 L510.1 360 L511.1 358.8 L512.1 357.8 L513.1 357 L514.1 356.4 L515.1 356.1 L516.1 356 L517.1 356.2 L518.1 356.7 L519.1 357.4 L520.1 358.4 L521.1 359.6 L522.1 361 L523.1 362.7 L524.1 364.5 L525.1 366.5 L526.1 368.6 L527.1 370.7 L528.1 373 L529.1 375.2 L530.1 377.4 L531.1 379.6 L532.1 381.6 L533.1 383.5 L534.1 385.2 L535.1 386.8 L536.1 388 L537.1 389.1 L538.1 389.8 L539.1 390.2 L540.1 390.3 L541.1 390 L542.1 389.4 L543.1 388.5 L544.1 387.2 L545.1 385.6 L546.1 383.8 L547.1 381.6 L548.1 379.2 L549.1 376.6 L550.1 373.8 L551.1 370.9 L552.1 367.9 L553.1 364.9 L554.1 361.9 L555.1 359 L556.1 356.2 L557.1 353.6 L558.1 351.2 L559.1 349 L560.1 347.2 L561.1 345.8 L562.1 344.7 L563.1 344.1 L564.1 343.9 L565.1 344.2 L566.1 345 L567.1 346.3 L568.1 348 L569.1 350.2 L570.1 352.9 L571.1 356 L572.1 359.5 L573.1 363.3 L574 367.4 L575 371.8 L576 376.3 L577 380.9 L578 385.6 L579 390.2 L580 394.7 L581 399 L582 403 L583 406.7 L584 409.9 L585 412.5 L586 414.6 L587 416.1 L588 416.8 L589 416.7 L590 415.8 L591 414.1 L592 411.4 L593 407.9 L594 403.5 L595 398.1 L596 391.9 L597 384.8 L598 376.9 L599 368.2 L600 358.7 L601 348.7 L602 338 L603 326.9 L604 315.3 L605 303.5 L606 291.5 L607 279.3 L608 267.3 L609 255.3 L610 243.6 L611 232.3 L612 221.5 L613 211.3 L614 201.7 L615 193 L616 185.1 L617 178.2 L618 172.3 L619 167.6 L620 163.9 L621 161.4 L622 160.2 L623 160.1 L624 161.3 L625 163.7 L626 167.2 L627 171.9 L628 177.7 L629 184.6 L630 192.4 L631 201 L632 210.5 L633 220.7 L634 231.5 L635 242.8 L636 254.4 L637 266.3 L638 278.4 L639 290.5 L640 302.6 L641 314.4 L642 326 L643 337.2 L644 347.9 L645 358 L646 367.5 L647 376.2 L648 384.2 L649 391.4 L650 397.7 L651 403.1 L652 407.6 L653 411.2 L654 413.9 L655 415.7 L656 416.7 L657 416.8 L658 416.1 L659 414.8 L660 412.7" stroke="#217dd2" stroke-width="1.7" stroke-dasharray="1.7 1.5" fill="none"/>
<path d="M408 371 L409 372.1 L410 373.2 L411 374.3 L412 375.3 L413 376.3 L414 377.1 L415 377.9 L416 378.6 L417 379.1 L418 379.5 L419 379.8 L419.9 379.9 L420.9 379.9 L421.9 379.7 L422.9 379.3 L423.9 378.8 L424.9 378.2 L425.9 377.4 L426.9 376.5 L427.9 375.6 L428.9 374.5 L429.9 373.3 L430.9 372.2 L431.9 370.9 L432.9 369.7 L433.9 368.5 L434.9 367.3 L435.9 366.1 L436.9 365.1 L437.9 364.1 L438.9 363.2 L439.9 362.5 L440.9 361.9 L441.9 361.5 L442.9 361.2 L443.8 361.1 L444.8 361.1 L445.8 361.3 L446.8 361.7 L447.8 362.3 L448.8 363 L449.8 363.9 L450.8 364.8 L451.8 366 L452.8 367.2 L453.8 368.4 L454.8 369.8 L455.8 371.2 L456.8 372.6 L457.8 373.9 L458.8 375.3 L459.8 376.6 L460.8 377.8 L461.8 378.8 L462.8 379.8 L463.8 380.7 L464.8 381.3 L465.8 381.8 L466.8 382.1 L467.7 382.3 L468.7 382.2 L469.7 382 L470.7 381.5 L471.7 380.9 L472.7 380.1 L473.7 379.1 L474.7 377.9 L475.7 376.7 L476.7 375.3 L477.7 373.8 L478.7 372.3 L479.7 370.7 L480.7 369.1 L481.7 367.6 L482.7 366 L483.7 364.5 L484.7 363.2 L485.7 361.9 L486.7 360.8 L487.7 359.8 L488.7 359.1 L489.7 358.5 L490.6 358.1 L491.6 358 L492.6 358.1 L493.6 358.4 L494.6 358.9 L495.6 359.6 L496.6 360.6 L497.6 361.7 L498.6 363 L499.6 364.5 L500.6 366.1 L501.6 367.8 L502.6 369.6 L503.6 371.4 L504.6 373.3 L505.6 375.1 L506.6 376.9 L507.6 378.7 L508.6 380.3 L509.6 381.7 L510.6 383.1 L511.6 384.2 L512.6 385.1 L513.6 385.8 L514.5 386.2 L515.5 386.4 L516.5 386.3 L517.5 385.9 L518.5 385.3 L519.5 384.5 L520.5 383.3 L521.5 382 L522.5 380.4 L523.5 378.7 L524.5 376.7 L525.5 374.7 L526.5 372.6 L527.5 370.3 L528.5 368.1 L529.5 365.9 L530.5 363.7 L531.5 361.6 L532.5 359.7 L533.5 357.9 L534.5 356.3 L535.5 354.9 L536.5 353.8 L537.5 353 L538.4 352.4 L539.4 352.2 L540.4 352.3 L541.4 352.7 L542.4 353.4 L543.4 354.5 L544.4 355.9 L545.4 357.5 L546.4 359.5 L547.4 361.6 L548.4 364 L549.4 366.5 L550.4 369.2 L551.4 372 L552.4 374.8 L553.4 377.6 L554.4 380.3 L555.4 383 L556.4 385.5 L557.4 387.8 L558.4 389.8 L559.4 391.6 L560.4 393 L561.4 394.2 L562.3 394.9 L563.3 395.2 L564.3 395.1 L565.3 394.6 L566.3 393.7 L567.3 392.4 L568.3 390.6 L569.3 388.5 L570.3 386 L571.3 383.2 L572.3 380.1 L573.3 376.7 L574.3 373.2 L575.3 369.5 L576.3 365.7 L577.3 361.9 L578.3 358.2 L579.3 354.6 L580.3 351.1 L581.3 347.9 L582.3 345 L583.3 342.5 L584.3 340.4 L585.2 338.7 L586.2 337.6 L587.2 337 L588.2 337 L589.2 337.6 L590.2 338.7 L591.2 340.5 L592.2 342.9 L593.2 345.9 L594.2 349.4 L595.2 353.4 L596.2 357.9 L597.2 362.8 L598.2 368.1 L599.2 373.6 L600.2 379.4 L601.2 385.2 L602.2 391 L603.2 396.8 L604.2 402.4 L605.2 407.7 L606.2 412.6 L607.2 417 L608.2 420.9 L609.1 424 L610.1 426.5 L611.1 428 L612.1 428.7 L613.1 428.3 L614.1 427 L615.1 424.5 L616.1 420.9 L617.1 416.2 L618.1 410.4 L619.1 403.5 L620.1 395.4 L621.1 386.3 L622.1 376.1 L623.1 365 L624.1 353 L625.1 340.2 L626.1 326.7 L627.1 312.6 L628.1 298.1 L629.1 283.2 L630.1 268 L631.1 252.9 L632.1 237.7 L633 222.8 L634 208.2 L635 194.2 L636 180.7 L637 168 L638 156.2 L639 145.4 L640 135.7 L641 127.2 L642 120.1 L643 114.3 L644 109.9" stroke="#217dd2" stroke-width="1.7" stroke-dasharray="1.7 1.5" fill="none"/>
<path d="M48.6 155.3 C52.9 154.8 66.3 153 74.5 152.2 C82.7 151.4 90.1 150.9 98 150.5 C105.9 150.1 114 149.5 122 149.6 C130 149.7 138 150.1 146 151.2 C154 152.3 162.1 154 170 156.1 C177.9 158.2 185.7 160.7 193.5 164 C201.3 167.3 209.1 171.7 217 176.2 C224.9 180.7 233 185.5 241 191.2 C249 196.9 257 203.9 265 210.5 C273 217.1 281 223.7 289 230.6 C297 237.5 305.2 245.3 313 252 C320.8 258.7 328.2 265.5 336 270.6 C343.8 275.7 353.8 280.3 360 282.8 C366.2 285.3 369 285 373 285.4 C377 285.8 378.2 286.6 384 285 C389.8 283.4 400.3 280 408 275.8 C415.7 271.6 424.7 264.3 430 260 C435.3 255.7 437.5 252.8 440 250 C442.5 247.2 443.7 245.4 445 243 C446.3 240.6 447.2 238.6 448 235.6 C448.8 232.6 449.1 227.6 450 225 C450.9 222.4 452.4 220.5 453.7 219.8 C455 219.1 456.1 220.3 458 220.8 C459.9 221.3 461.2 223.6 465 222.6 C468.8 221.6 474.6 217.5 480.7 215 C486.8 212.5 494 209.6 501.7 207.8 C509.4 206 518.8 204.7 527 204.4 C535.2 204.1 543.3 205.6 551 205.8 C558.7 206 567.4 206.1 573.3 205.6 C579.2 205.1 582.5 204.2 586.5 203 C590.5 201.8 594.3 200.6 597.6 198.5 C600.9 196.4 603.6 193.8 606.4 190.7 C609.1 187.6 611.9 183.4 614.1 179.7 C616.3 176 618 172.6 619.7 168.6 C621.4 164.6 622.8 160 624.1 155.4 C625.4 150.8 626.6 145.2 627.4 141 C628.2 136.8 628.7 131.8 629 130" stroke="#e24a18" stroke-width="3.9" fill="none" stroke-linecap="butt" stroke-linejoin="round"/>
<path d="M232 104H483" stroke="#8c8c8c" stroke-width="2.2" fill="none"/>
<path d="M481.5 99.3L491 104L481.5 108.7Z" fill="#8c8c8c"/>
<path d="M360.8 115V12" stroke="#8c8c8c" stroke-width="2.2" fill="none"/>
<path d="M356 13L360.8 4.5L365.6 13Z" fill="#8c8c8c"/>
<path d="M249.5 104 L250.1 103.6 L250.6 103.1 L251.2 102.7 L251.7 102.3 L252.3 101.9 L252.8 101.5 L253.4 101.1 L253.9 100.7 L254.5 100.3 L255.1 100 L255.6 99.6 L256.2 99.3 L256.7 99.1 L257.3 98.8 L257.8 98.6 L258.4 98.4 L258.9 98.2 L259.5 98.1 L260 98 L260.6 98 L261.2 98 L261.7 98 L262.3 98.1 L262.8 98.2 L263.4 98.3 L263.9 98.5 L264.5 98.7 L265 98.9 L265.6 99.2 L266.1 99.5 L266.7 99.8 L267.3 100.2 L267.8 100.6 L268.4 101 L268.9 101.5 L269.5 102 L270 102.5 L270.6 103 L271.1 103.5 L271.7 104 L272.3 104.5 L272.8 105.1 L273.4 105.6 L273.9 106.1 L274.5 106.7 L275 107.2 L275.6 107.7 L276.1 108.2 L276.7 108.7 L277.2 109.1 L277.8 109.5 L278.4 109.9 L278.9 110.3 L279.5 110.6 L280 110.9 L280.6 111.1 L281.1 111.4 L281.7 111.5 L282.2 111.7 L282.8 111.7 L283.4 111.8 L283.9 111.7 L284.5 111.7 L285 111.6 L285.6 111.4 L286.1 111.2 L286.7 110.9 L287.2 110.6 L287.8 110.3 L288.4 109.9 L288.9 109.4 L289.5 109 L290 108.5 L290.6 107.9 L291.1 107.3 L291.7 106.7 L292.2 106.1 L292.8 105.4 L293.3 104.7 L293.9 104 L294.5 103.3 L295 102.6 L295.6 101.8 L296.1 101.1 L296.7 100.4 L297.2 99.7 L297.8 99 L298.3 98.3 L298.9 97.7 L299.4 97 L300 96.4 L300.6 95.9 L301.1 95.4 L301.7 94.9 L302.2 94.5 L302.8 94.1 L303.3 93.8 L303.9 93.5 L304.4 93.3 L305 93.2 L305.6 93.1 L306.1 93.1 L306.7 93.2 L307.2 93.3 L307.8 93.5 L308.3 93.7 L308.9 94.1 L309.4 94.5 L310 95 L310.6 95.5 L311.1 96.1 L311.7 96.8 L312.2 97.5 L312.8 98.3 L313.3 99.1 L313.9 100 L314.4 101 L315 101.9 L315.5 103 L316.1 104 L316.7 105.1 L317.2 106.2 L317.8 107.3 L318.3 108.4 L318.9 109.5 L319.4 110.6 L320 111.7 L320.5 112.8 L321.1 113.9 L321.6 114.9 L322.2 115.9 L322.8 116.9 L323.3 117.8 L323.9 118.6 L324.4 119.4 L325 120.1 L325.5 120.7 L326.1 121.2 L326.6 121.7 L327.2 122 L327.8 122.3 L328.3 122.4 L328.9 122.5 L329.4 122.4 L330 122.2 L330.5 121.9 L331.1 121.4 L331.6 120.8 L332.2 120.1 L332.8 119.3 L333.3 118.3 L333.9 117.3 L334.4 116 L335 114.7 L335.5 113.2 L336.1 111.6 L336.6 109.9 L337.2 108 L337.7 106.1 L338.3 104 L338.9 101.8 L339.4 99.5 L340 97.2 L340.5 94.7 L341.1 92.2 L341.6 89.5 L342.2 86.9 L342.7 84.1 L343.3 81.3 L343.9 78.5 L344.4 75.6 L345 72.7 L345.5 69.8 L346.1 66.9 L346.6 64 L347.2 61.1 L347.7 58.2 L348.3 55.4 L348.8 52.6 L349.4 49.9 L350 47.2 L350.5 44.6 L351.1 42.1 L351.6 39.7 L352.2 37.3 L352.7 35.1 L353.3 33 L353.8 31 L354.4 29.2 L354.9 27.5 L355.5 25.9 L356.1 24.5 L356.6 23.2 L357.2 22.1 L357.7 21.2 L358.3 20.4 L358.8 19.8 L359.4 19.3 L359.9 19.1 L360.5 19 L361.1 19.1 L361.6 19.3 L362.2 19.8 L362.7 20.4 L363.3 21.2 L363.8 22.1 L364.4 23.2 L364.9 24.5 L365.5 25.9 L366.1 27.5 L366.6 29.2 L367.2 31 L367.7 33 L368.3 35.1 L368.8 37.3 L369.4 39.7 L369.9 42.1 L370.5 44.6 L371 47.2 L371.6 49.9 L372.2 52.6 L372.7 55.4 L373.3 58.2 L373.8 61.1 L374.4 64 L374.9 66.9 L375.5 69.8 L376 72.7 L376.6 75.6 L377.1 78.5 L377.7 81.3 L378.3 84.1 L378.8 86.9 L379.4 89.5 L379.9 92.2 L380.5 94.7 L381 97.2 L381.6 99.5 L382.1 101.8 L382.7 104 L383.3 106.1 L383.8 108 L384.4 109.9 L384.9 111.6 L385.5 113.2 L386 114.7 L386.6 116 L387.1 117.3 L387.7 118.3 L388.2 119.3 L388.8 120.1 L389.4 120.8 L389.9 121.4 L390.5 121.9 L391 122.2 L391.6 122.4 L392.1 122.5 L392.7 122.4 L393.2 122.3 L393.8 122 L394.4 121.7 L394.9 121.2 L395.5 120.7 L396 120.1 L396.6 119.4 L397.1 118.6 L397.7 117.8 L398.2 116.9 L398.8 115.9 L399.4 114.9 L399.9 113.9 L400.5 112.8 L401 111.7 L401.6 110.6 L402.1 109.5 L402.7 108.4 L403.2 107.3 L403.8 106.2 L404.3 105.1 L404.9 104 L405.5 103 L406 101.9 L406.6 101 L407.1 100 L407.7 99.1 L408.2 98.3 L408.8 97.5 L409.3 96.8 L409.9 96.1 L410.4 95.5 L411 95 L411.6 94.5 L412.1 94.1 L412.7 93.7 L413.2 93.5 L413.8 93.3 L414.3 93.2 L414.9 93.1 L415.4 93.1 L416 93.2 L416.6 93.3 L417.1 93.5 L417.7 93.8 L418.2 94.1 L418.8 94.5 L419.3 94.9 L419.9 95.4 L420.4 95.9 L421 96.4 L421.6 97 L422.1 97.7 L422.7 98.3 L423.2 99 L423.8 99.7 L424.3 100.4 L424.9 101.1 L425.4 101.8 L426 102.6 L426.5 103.3 L427.1 104 L427.7 104.7 L428.2 105.4 L428.8 106.1 L429.3 106.7 L429.9 107.3 L430.4 107.9 L431 108.5 L431.5 109 L432.1 109.4 L432.6 109.9 L433.2 110.3 L433.8 110.6 L434.3 110.9 L434.9 111.2 L435.4 111.4 L436 111.6 L436.5 111.7 L437.1 111.7 L437.6 111.8 L438.2 111.7 L438.8 111.7 L439.3 111.5 L439.9 111.4 L440.4 111.1 L441 110.9 L441.5 110.6 L442.1 110.3 L442.6 109.9 L443.2 109.5 L443.8 109.1 L444.3 108.7 L444.9 108.2 L445.4 107.7 L446 107.2 L446.5 106.7 L447.1 106.1 L447.6 105.6 L448.2 105.1 L448.7 104.5 L449.3 104 L449.9 103.5 L450.4 103 L451 102.5 L451.5 102 L452.1 101.5 L452.6 101 L453.2 100.6 L453.7 100.2 L454.3 99.8 L454.9 99.5 L455.4 99.2 L456 98.9 L456.5 98.7 L457.1 98.5 L457.6 98.3 L458.2 98.2 L458.7 98.1 L459.3 98 L459.8 98 L460.4 98 L461 98 L461.5 98.1 L462.1 98.2 L462.6 98.4 L463.2 98.6 L463.7 98.8 L464.3 99.1 L464.8 99.3 L465.4 99.6 L465.9 100 L466.5 100.3 L467.1 100.7 L467.6 101.1 L468.2 101.5 L468.7 101.9 L469.3 102.3 L469.8 102.7 L470.4 103.1 L470.9 103.6 L471.5 104" stroke="#2a88d4" stroke-width="1.8" fill="none"/>
<path d="M427.4 58.2L389.9 96.9" stroke="#1a1a1a" stroke-width="1.7" fill="none"/>
<path d="M384 103L387.1 92.8L394.1 99.6Z" fill="#1a1a1a"/>
<path d="M427.4 58.2L409.5 94.4" stroke="#1a1a1a" stroke-width="1.7" fill="none"/>
<path d="M405.7 102L405.5 91.3L414.3 95.7Z" fill="#1a1a1a"/>
<path d="M427.4 58.2L428.9 94.7" stroke="#1a1a1a" stroke-width="1.7" fill="none"/>
<path d="M429.3 103.2L424 93.9L433.8 93.5Z" fill="#1a1a1a"/>
<path d="M427.4 58.2L445.5 95.6" stroke="#1a1a1a" stroke-width="1.7" fill="none"/>
<path d="M449.2 103.2L440.6 96.8L449.5 92.5Z" fill="#1a1a1a"/>
<path d="M501 67.7L511.6 60.3V64H531.9V60.3L542.8 67.7L531.9 75.6V71.4H511.6V75.6Z" fill="#fff" stroke="#1a1a1a" stroke-width="1.6" stroke-linejoin="miter"/>
<defs><linearGradient id="g" x1="0" y1="0" x2="0" y2="1"><stop offset="0" stop-color="#76c2f3"/><stop offset="1" stop-color="#eef7fd"/></linearGradient></defs>
<rect x="561.5" y="41.5" width="40.8" height="62" fill="url(#g)"/>
<path d="M561.5 41.5H602.3V104" stroke="#2a88d4" stroke-width="2" fill="none"/>
<path d="M535.3 104H659" stroke="#8c8c8c" stroke-width="2" fill="none"/>
<path d="M657 99.4L667.2 104L657 108.7Z" fill="#8c8c8c"/>
<path d="M561.3 114.6V13" stroke="#8c8c8c" stroke-width="2" fill="none"/>
<path d="M556.3 14L561.2 4.9L566 14Z" fill="#8c8c8c"/>
<path d="M566 110.2H599.5" stroke="#1a1a1a" stroke-width="1.1" fill="none"/>
<path d="M562.3 110.2L567 108.2V112.2Z M603.8 110.2L599 108.2V112.2Z" fill="#1a1a1a"/>
<text transform="matrix(0.9698 0 0 0.9800 251.52 25.89)" font-family="&quot;Liberation Sans&quot;, sans-serif" font-size="21.5" fill="#333">sinc(</text>
<text transform="matrix(0.8364 0 0 0.9787 297.06 25.36)" font-family="&quot;Liberation Sans&quot;, sans-serif" font-size="21.5" font-style="italic" fill="#333">π</text>
<text transform="matrix(0.9979 0 0 0.9778 309.75 25.36)" font-family="&quot;Liberation Sans&quot;, sans-serif" font-size="21.5" fill="#333">t/T</text>
<text transform="matrix(1.1000 0 0 0.9419 332.25 26.36)" font-family="&quot;Liberation Sans&quot;, sans-serif" font-size="14" fill="#333">s</text>
<text transform="matrix(0.7636 0 0 0.9600 343.41 25.08)" font-family="&quot;Liberation Sans&quot;, sans-serif" font-size="21.5" fill="#333">)</text>
<text transform="matrix(1.1300 0 0 0.9714 127.82 61.76)" font-family="&quot;DejaVu Sans&quot;, sans-serif" font-size="21" font-weight="200" fill="#484848" stroke="#484848" stroke-width="0.2">S</text>
<text transform="matrix(0.9299 0 0 1.0844 142.74 62.59)" font-family="&quot;DejaVu Sans&quot;, sans-serif" font-size="11.5" font-weight="200" fill="#484848" stroke="#484848" stroke-width="0.45">interpolated</text>
<text transform="matrix(1.2571 0 0 1.0617 206.31 63.45)" font-family="&quot;DejaVu Sans&quot;, sans-serif" font-size="30" font-weight="200" fill="#484848" stroke="#484848" stroke-width="0.1">(</text>
<text transform="matrix(1.0222 0 0 0.8714 217.97 62.60)" font-family="&quot;DejaVu Sans&quot;, sans-serif" font-size="30" font-weight="200" fill="#484848" stroke="#484848" stroke-width="0.1">t</text>
<text transform="matrix(1.1091 0 0 1.0617 227.10 63.45)" font-family="&quot;DejaVu Sans&quot;, sans-serif" font-size="30" font-weight="200" fill="#484848" stroke="#484848" stroke-width="0.1">)</text>
<text transform="matrix(0.7417 0 0 0.9967 382.93 53.50)" font-family="&quot;DejaVu Sans&quot;, sans-serif" font-size="21" font-weight="200" fill="#484848" stroke="#484848" stroke-width="0.45">T</text>
<text transform="matrix(0.9495 0 0 0.9417 392.24 58.06)" font-family="&quot;DejaVu Sans&quot;, sans-serif" font-size="15.5" font-weight="200" fill="#484848" stroke="#484848" stroke-width="0.45">null</text>
<text transform="matrix(0.7849 0 0 1.4588 421.73 55.56)" font-family="&quot;DejaVu Sans&quot;, sans-serif" font-size="21" font-weight="200" fill="#333" stroke="#333" stroke-width="0.45">=</text>
<text transform="matrix(0.9486 0 0 0.9617 438.27 53.50)" font-family="&quot;DejaVu Sans&quot;, sans-serif" font-size="21" font-weight="200" fill="#484848" stroke="#484848" stroke-width="0.45">n</text>
<text transform="matrix(0.8200 0 0 0.9826 454.68 53.50)" font-family="&quot;DejaVu Sans&quot;, sans-serif" font-size="21" font-weight="200" fill="#484848" stroke="#484848" stroke-width="0.45">x</text>
<text transform="matrix(0.8000 0 0 0.9967 469.60 53.50)" font-family="&quot;DejaVu Sans&quot;, sans-serif" font-size="21" font-weight="200" fill="#484848" stroke="#484848" stroke-width="0.45">T</text>
<text transform="matrix(1.2174 0 0 0.8914 478.78 57.18)" font-family="&quot;DejaVu Sans&quot;, sans-serif" font-size="15" font-weight="200" fill="#484848" stroke="#484848" stroke-width="0.45">s</text>
<text transform="matrix(1.0000 0 0 0.9643 497.70 115.50)" font-family="&quot;DejaVu Sans&quot;, sans-serif" font-size="20" font-weight="200" fill="#484848" stroke="#484848" stroke-width="0.45">t</text>
<text transform="matrix(1.0500 0 0 1.0295 671.05 116.50)" font-family="&quot;DejaVu Sans&quot;, sans-serif" font-size="20" font-weight="200" fill="#484848" stroke="#484848" stroke-width="0.45">f</text>
<text transform="matrix(1.0429 0 0 0.9882 665.60 396.10)" font-family="&quot;DejaVu Sans&quot;, sans-serif" font-size="24" font-weight="200" fill="#333" stroke="#333" stroke-width="0.45">t</text>
<text transform="matrix(1.0081 0 0 0.9313 568.28 132.44)" font-family="&quot;DejaVu Sans&quot;, sans-serif" font-size="20" font-weight="200" fill="#484848" stroke="#484848" stroke-width="0.45">Fs/2</text>
<text transform="matrix(1.1481 0 0 1.0792 577.53 26.30)" font-family="&quot;Liberation Serif&quot;, serif" font-size="20" fill="#222">Π</text>
<text transform="matrix(0.6909 0 0 1.0240 593.31 25.75)" font-family="&quot;Liberation Sans&quot;, sans-serif" font-size="20" font-weight="700" fill="#222" stroke="#222" stroke-width="0.5">(</text>
<text transform="matrix(1.0667 0 0 0.8897 600.33 25.90)" font-family="&quot;Liberation Sans&quot;, sans-serif" font-size="20" fill="#222" stroke="#222" stroke-width="0.4">f</text>
<text transform="matrix(0.6087 0 0 1.0240 607.60 25.75)" font-family="&quot;Liberation Sans&quot;, sans-serif" font-size="20" font-weight="700" fill="#222" stroke="#222" stroke-width="0.5">)</text>
</svg></body></html>
